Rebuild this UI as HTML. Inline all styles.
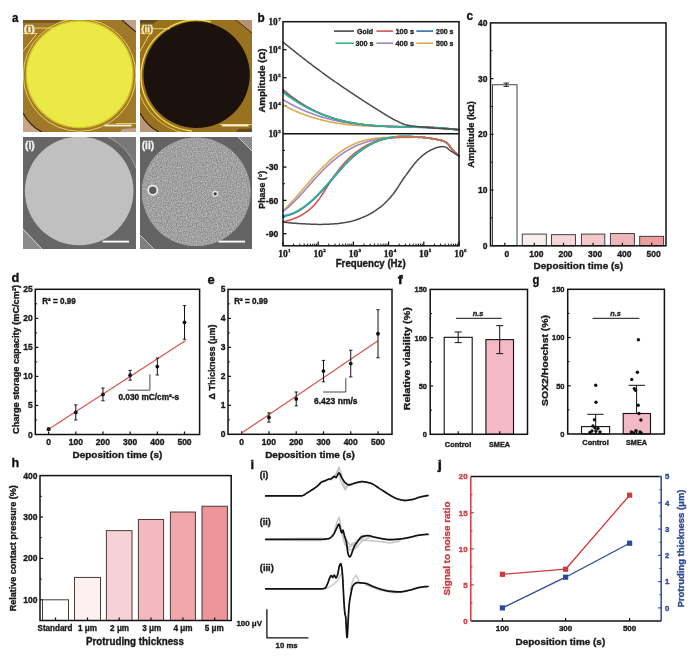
<!DOCTYPE html>
<html><head><meta charset="utf-8"><style>
html,body{margin:0;padding:0;background:#fff;}
body{width:700px;height:672px;overflow:hidden;}
svg{display:block;font-family:"Liberation Sans", sans-serif;will-change:transform;}
</style></head><body>
<svg width="700" height="672" viewBox="0 0 700 672">
<rect width="700" height="672" fill="#fff"/>
<text x="12.10" y="22.30" font-size="13.2" text-anchor="start" font-weight="bold" fill="#111" stroke="#111" stroke-width="0.35" textLength="6.40" lengthAdjust="spacingAndGlyphs" >a</text>
<defs><clipPath id="ca1"><rect x="23" y="20" width="113" height="112"/></clipPath><clipPath id="ca2"><rect x="140" y="20" width="112" height="112"/></clipPath><clipPath id="ca3"><rect x="23" y="137" width="113" height="112"/></clipPath><clipPath id="ca4"><rect x="140" y="137" width="112" height="112"/></clipPath><filter id="noise" x="0" y="0" width="100%" height="100%" color-interpolation-filters="sRGB"><feTurbulence type="fractalNoise" baseFrequency="0.8" numOctaves="1" seed="4" result="t"/><feColorMatrix in="t" type="matrix" values="0.45 0 0 0 0.405  0.45 0 0 0 0.405  0.45 0 0 0 0.405  0 0 0 0 1" result="a"/><feComposite in="a" in2="SourceGraphic" operator="in"/></filter><filter id="blur1"><feGaussianBlur stdDeviation="0.6"/></filter></defs>
<g clip-path="url(#ca1)">
<rect x="23.00" y="20.00" width="113.00" height="112.00" fill="#a0782a" stroke="none" stroke-width="1.3" />
<path d="M23,20 L60,20 L60,23 L23,23 Z" fill="#6a4c1c" opacity="0.7"/>
<path d="M122,20 L136,20 L136,32 Z" fill="#c0a48a"/>
<path d="M122,20 L136,32" stroke="#3a2410" stroke-width="1.1" fill="none"/>
<path d="M23,113 Q30,126 42,132 L23,132 Z" fill="#c8a484"/>
<path d="M23,113 Q30,126 42,132" stroke="#3a2010" stroke-width="1.2" fill="none"/>
<path d="M122,129 L136,128 L136,132 L120,132 Z" fill="#c0a088"/>
<path d="M116,123.5 L136,123.5" stroke="#f0d45a" stroke-width="0.9" fill="none"/>
<circle cx="79.6" cy="75.0" r="56.3" fill="none" stroke="#f0d858" stroke-width="0.9"/>
<circle cx="79.6" cy="74.3" r="53.3" fill="#eae945" stroke="#d4c428" stroke-width="1.4"/>
<path d="M35,28.1 L54,28.1 M23,33.5 L37,33.5 L23,51.3" stroke="#f0d45a" stroke-width="1.0" fill="none"/>
<line x1="104.50" y1="125.50" x2="131.50" y2="125.50" stroke="#f8f4e0" stroke-width="1.8" />
</g>
<text x="23.70" y="31.80" font-size="9.5" text-anchor="start" font-weight="bold" fill="#f4ecc4" stroke="#f4ecc4" stroke-width="0.35" textLength="11.30" lengthAdjust="spacingAndGlyphs" >(i)</text>
<g clip-path="url(#ca2)">
<rect x="140.00" y="20.00" width="112.00" height="112.00" fill="#98721f" stroke="none" stroke-width="1.3" />
<path d="M140,20 L158,20 L154,23.5 L140,23.5 Z" fill="#5a4020" opacity="0.8"/>
<path d="M236,20 L252,20 L252,33 Z" fill="#b89270"/>
<path d="M236,20 L252,33" stroke="#4a3018" stroke-width="1" fill="none"/>
<path d="M140,113 Q147,126 159,132 L140,132 Z" fill="#b89878"/>
<path d="M140,113 Q147,126 159,132" stroke="#3a2010" stroke-width="1.1" fill="none"/>
<path d="M238,129 L252,128.5 L252,132 L236,132 Z" fill="#4a3018" opacity="0.6"/>
<path d="M220,124.5 L252,124.5" stroke="#f0d45a" stroke-width="0.9" fill="none"/>
<path d="M211,21.9 A55.6,55.6 0 1 0 191.8,131" fill="none" stroke="#f2e040" stroke-width="1.3"/>
<path d="M185,133 A59.5,59.5 0 0 1 138,88" fill="none" stroke="#e8cc48" stroke-width="0.9"/>
<circle cx="196.6" cy="74.8" r="53.2" fill="#1c120d"/>
<path d="M153,28.7 L170,28.7 M140,33.2 L150,33.2 L140,51.3" stroke="#f0d45a" stroke-width="1.0" fill="none"/>
<line x1="222.00" y1="125.50" x2="248.50" y2="125.50" stroke="#f8f4e0" stroke-width="1.8" />
</g>
<text x="141.30" y="31.80" font-size="9.5" text-anchor="start" font-weight="bold" fill="#f4ecc4" stroke="#f4ecc4" stroke-width="0.35" textLength="11.90" lengthAdjust="spacingAndGlyphs" >(ii)</text>
<g clip-path="url(#ca3)">
<rect x="23.00" y="137.00" width="113.00" height="112.00" fill="#666666" stroke="none" stroke-width="1.3" />
<path d="M23,229 L42,249 L23,249 Z" fill="#8a8a8a"/>
<path d="M23,229 L42,249" stroke="#d8d8d8" stroke-width="1.0" fill="none"/>
<path d="M108,137 Q128,146 136,168 L136,137 Z" fill="#787878"/>
<path d="M108,137 Q128,146 136,168" stroke="#a8a8a8" stroke-width="0.9" fill="none"/>
<circle cx="79.2" cy="191.0" r="54.3" fill="#c0c0c0"/>
<line x1="102.60" y1="241.60" x2="129.00" y2="241.60" stroke="#fafafa" stroke-width="1.9" />
</g>
<text x="25.00" y="148.60" font-size="11" text-anchor="start" font-weight="bold" fill="#f4f4f4" stroke="#f4f4f4" stroke-width="0.35" textLength="9.80" lengthAdjust="spacingAndGlyphs" >(i)</text>
<g clip-path="url(#ca4)">
<rect x="140.00" y="137.00" width="112.00" height="112.00" fill="#636363" stroke="none" stroke-width="1.3" />
<path d="M238,137 L252,137 L252,151 Z" fill="#8a8a8a"/>
<path d="M238,137 L252,151" stroke="#c8c8c8" stroke-width="1" fill="none"/>
<path d="M140,235 L154,249 L140,249 Z" fill="#808080"/>
<path d="M140,235 L154,249" stroke="#c0c0c0" stroke-width="1" fill="none"/>
<circle cx="196.2" cy="191.8" r="54.3" fill="#979797"/>
<circle cx="196.2" cy="191.8" r="54.3" fill="#979797" filter="url(#noise)"/>
<circle cx="152.8" cy="190.2" r="4.6" fill="#5a5a5a" stroke="#eeeeee" stroke-width="1.8"/>
<circle cx="215.2" cy="193.8" r="2.3" fill="#3a3a3a" stroke="#e8e8e8" stroke-width="1.3"/>
<line x1="218.50" y1="241.60" x2="245.00" y2="241.60" stroke="#fafafa" stroke-width="1.9" />
</g>
<text x="141.70" y="148.60" font-size="11" text-anchor="start" font-weight="bold" fill="#f4f4f4" stroke="#f4f4f4" stroke-width="0.35" textLength="12.40" lengthAdjust="spacingAndGlyphs" >(ii)</text>
<text x="257.40" y="21.50" font-size="13.2" text-anchor="start" font-weight="bold" fill="#111" stroke="#111" stroke-width="0.35" textLength="7.20" lengthAdjust="spacingAndGlyphs" >b</text>
<line x1="283.00" y1="245.80" x2="283.00" y2="241.50" stroke="#111" stroke-width="1.2" />
<text x="283.00" y="256.70" font-size="9.5" text-anchor="middle" font-weight="bold" fill="#1a1a1a" stroke="#1a1a1a" stroke-width="0.35" font-family='"Liberation Serif", serif' textLength="9.50" lengthAdjust="spacingAndGlyphs" >10</text>
<text x="289.30" y="252.40" font-size="5.0" text-anchor="middle" font-weight="bold" fill="#1a1a1a" stroke="#1a1a1a" stroke-width="0.35" font-family='"Liberation Serif", serif' >1</text>
<line x1="293.60" y1="245.80" x2="293.60" y2="243.60" stroke="#111" stroke-width="1.0" />
<line x1="299.79" y1="245.80" x2="299.79" y2="243.60" stroke="#111" stroke-width="1.0" />
<line x1="304.19" y1="245.80" x2="304.19" y2="243.60" stroke="#111" stroke-width="1.0" />
<line x1="307.60" y1="245.80" x2="307.60" y2="243.60" stroke="#111" stroke-width="1.0" />
<line x1="310.39" y1="245.80" x2="310.39" y2="243.60" stroke="#111" stroke-width="1.0" />
<line x1="312.75" y1="245.80" x2="312.75" y2="243.60" stroke="#111" stroke-width="1.0" />
<line x1="314.79" y1="245.80" x2="314.79" y2="243.60" stroke="#111" stroke-width="1.0" />
<line x1="316.59" y1="245.80" x2="316.59" y2="243.60" stroke="#111" stroke-width="1.0" />
<line x1="318.20" y1="245.80" x2="318.20" y2="241.50" stroke="#111" stroke-width="1.2" />
<text x="318.20" y="256.70" font-size="9.5" text-anchor="middle" font-weight="bold" fill="#1a1a1a" stroke="#1a1a1a" stroke-width="0.35" font-family='"Liberation Serif", serif' textLength="9.50" lengthAdjust="spacingAndGlyphs" >10</text>
<text x="324.50" y="252.40" font-size="5.0" text-anchor="middle" font-weight="bold" fill="#1a1a1a" stroke="#1a1a1a" stroke-width="0.35" font-family='"Liberation Serif", serif' >2</text>
<line x1="328.80" y1="245.80" x2="328.80" y2="243.60" stroke="#111" stroke-width="1.0" />
<line x1="334.99" y1="245.80" x2="334.99" y2="243.60" stroke="#111" stroke-width="1.0" />
<line x1="339.39" y1="245.80" x2="339.39" y2="243.60" stroke="#111" stroke-width="1.0" />
<line x1="342.80" y1="245.80" x2="342.80" y2="243.60" stroke="#111" stroke-width="1.0" />
<line x1="345.59" y1="245.80" x2="345.59" y2="243.60" stroke="#111" stroke-width="1.0" />
<line x1="347.95" y1="245.80" x2="347.95" y2="243.60" stroke="#111" stroke-width="1.0" />
<line x1="349.99" y1="245.80" x2="349.99" y2="243.60" stroke="#111" stroke-width="1.0" />
<line x1="351.79" y1="245.80" x2="351.79" y2="243.60" stroke="#111" stroke-width="1.0" />
<line x1="353.40" y1="245.80" x2="353.40" y2="241.50" stroke="#111" stroke-width="1.2" />
<text x="353.40" y="256.70" font-size="9.5" text-anchor="middle" font-weight="bold" fill="#1a1a1a" stroke="#1a1a1a" stroke-width="0.35" font-family='"Liberation Serif", serif' textLength="9.50" lengthAdjust="spacingAndGlyphs" >10</text>
<text x="359.70" y="252.40" font-size="5.0" text-anchor="middle" font-weight="bold" fill="#1a1a1a" stroke="#1a1a1a" stroke-width="0.35" font-family='"Liberation Serif", serif' >3</text>
<line x1="364.00" y1="245.80" x2="364.00" y2="243.60" stroke="#111" stroke-width="1.0" />
<line x1="370.19" y1="245.80" x2="370.19" y2="243.60" stroke="#111" stroke-width="1.0" />
<line x1="374.59" y1="245.80" x2="374.59" y2="243.60" stroke="#111" stroke-width="1.0" />
<line x1="378.00" y1="245.80" x2="378.00" y2="243.60" stroke="#111" stroke-width="1.0" />
<line x1="380.79" y1="245.80" x2="380.79" y2="243.60" stroke="#111" stroke-width="1.0" />
<line x1="383.15" y1="245.80" x2="383.15" y2="243.60" stroke="#111" stroke-width="1.0" />
<line x1="385.19" y1="245.80" x2="385.19" y2="243.60" stroke="#111" stroke-width="1.0" />
<line x1="386.99" y1="245.80" x2="386.99" y2="243.60" stroke="#111" stroke-width="1.0" />
<line x1="388.60" y1="245.80" x2="388.60" y2="241.50" stroke="#111" stroke-width="1.2" />
<text x="388.60" y="256.70" font-size="9.5" text-anchor="middle" font-weight="bold" fill="#1a1a1a" stroke="#1a1a1a" stroke-width="0.35" font-family='"Liberation Serif", serif' textLength="9.50" lengthAdjust="spacingAndGlyphs" >10</text>
<text x="394.90" y="252.40" font-size="5.0" text-anchor="middle" font-weight="bold" fill="#1a1a1a" stroke="#1a1a1a" stroke-width="0.35" font-family='"Liberation Serif", serif' >4</text>
<line x1="399.20" y1="245.80" x2="399.20" y2="243.60" stroke="#111" stroke-width="1.0" />
<line x1="405.39" y1="245.80" x2="405.39" y2="243.60" stroke="#111" stroke-width="1.0" />
<line x1="409.79" y1="245.80" x2="409.79" y2="243.60" stroke="#111" stroke-width="1.0" />
<line x1="413.20" y1="245.80" x2="413.20" y2="243.60" stroke="#111" stroke-width="1.0" />
<line x1="415.99" y1="245.80" x2="415.99" y2="243.60" stroke="#111" stroke-width="1.0" />
<line x1="418.35" y1="245.80" x2="418.35" y2="243.60" stroke="#111" stroke-width="1.0" />
<line x1="420.39" y1="245.80" x2="420.39" y2="243.60" stroke="#111" stroke-width="1.0" />
<line x1="422.19" y1="245.80" x2="422.19" y2="243.60" stroke="#111" stroke-width="1.0" />
<line x1="423.80" y1="245.80" x2="423.80" y2="241.50" stroke="#111" stroke-width="1.2" />
<text x="423.80" y="256.70" font-size="9.5" text-anchor="middle" font-weight="bold" fill="#1a1a1a" stroke="#1a1a1a" stroke-width="0.35" font-family='"Liberation Serif", serif' textLength="9.50" lengthAdjust="spacingAndGlyphs" >10</text>
<text x="430.10" y="252.40" font-size="5.0" text-anchor="middle" font-weight="bold" fill="#1a1a1a" stroke="#1a1a1a" stroke-width="0.35" font-family='"Liberation Serif", serif' >5</text>
<line x1="434.40" y1="245.80" x2="434.40" y2="243.60" stroke="#111" stroke-width="1.0" />
<line x1="440.59" y1="245.80" x2="440.59" y2="243.60" stroke="#111" stroke-width="1.0" />
<line x1="444.99" y1="245.80" x2="444.99" y2="243.60" stroke="#111" stroke-width="1.0" />
<line x1="448.40" y1="245.80" x2="448.40" y2="243.60" stroke="#111" stroke-width="1.0" />
<line x1="451.19" y1="245.80" x2="451.19" y2="243.60" stroke="#111" stroke-width="1.0" />
<line x1="453.55" y1="245.80" x2="453.55" y2="243.60" stroke="#111" stroke-width="1.0" />
<line x1="455.59" y1="245.80" x2="455.59" y2="243.60" stroke="#111" stroke-width="1.0" />
<line x1="457.39" y1="245.80" x2="457.39" y2="243.60" stroke="#111" stroke-width="1.0" />
<line x1="459.00" y1="245.80" x2="459.00" y2="241.50" stroke="#111" stroke-width="1.2" />
<text x="459.00" y="256.70" font-size="9.5" text-anchor="middle" font-weight="bold" fill="#1a1a1a" stroke="#1a1a1a" stroke-width="0.35" font-family='"Liberation Serif", serif' textLength="9.50" lengthAdjust="spacingAndGlyphs" >10</text>
<text x="465.30" y="252.40" font-size="5.0" text-anchor="middle" font-weight="bold" fill="#1a1a1a" stroke="#1a1a1a" stroke-width="0.35" font-family='"Liberation Serif", serif' >6</text>
<text x="273.00" y="136.90" font-size="9.5" text-anchor="middle" font-weight="bold" fill="#1a1a1a" stroke="#1a1a1a" stroke-width="0.35" font-family='"Liberation Serif", serif' textLength="9.20" lengthAdjust="spacingAndGlyphs" >10</text>
<text x="279.60" y="132.70" font-size="5.0" text-anchor="middle" font-weight="bold" fill="#1a1a1a" stroke="#1a1a1a" stroke-width="0.35" font-family='"Liberation Serif", serif' >3</text>
<line x1="283.00" y1="105.70" x2="286.50" y2="105.70" stroke="#111" stroke-width="1.3" />
<text x="273.00" y="108.90" font-size="9.5" text-anchor="middle" font-weight="bold" fill="#1a1a1a" stroke="#1a1a1a" stroke-width="0.35" font-family='"Liberation Serif", serif' textLength="9.20" lengthAdjust="spacingAndGlyphs" >10</text>
<text x="279.60" y="104.70" font-size="5.0" text-anchor="middle" font-weight="bold" fill="#1a1a1a" stroke="#1a1a1a" stroke-width="0.35" font-family='"Liberation Serif", serif' >4</text>
<line x1="283.00" y1="77.70" x2="286.50" y2="77.70" stroke="#111" stroke-width="1.3" />
<text x="273.00" y="80.90" font-size="9.5" text-anchor="middle" font-weight="bold" fill="#1a1a1a" stroke="#1a1a1a" stroke-width="0.35" font-family='"Liberation Serif", serif' textLength="9.20" lengthAdjust="spacingAndGlyphs" >10</text>
<text x="279.60" y="76.70" font-size="5.0" text-anchor="middle" font-weight="bold" fill="#1a1a1a" stroke="#1a1a1a" stroke-width="0.35" font-family='"Liberation Serif", serif' >5</text>
<line x1="283.00" y1="49.70" x2="286.50" y2="49.70" stroke="#111" stroke-width="1.3" />
<text x="273.00" y="52.90" font-size="9.5" text-anchor="middle" font-weight="bold" fill="#1a1a1a" stroke="#1a1a1a" stroke-width="0.35" font-family='"Liberation Serif", serif' textLength="9.20" lengthAdjust="spacingAndGlyphs" >10</text>
<text x="279.60" y="48.70" font-size="5.0" text-anchor="middle" font-weight="bold" fill="#1a1a1a" stroke="#1a1a1a" stroke-width="0.35" font-family='"Liberation Serif", serif' >6</text>
<text x="273.00" y="24.90" font-size="9.5" text-anchor="middle" font-weight="bold" fill="#1a1a1a" stroke="#1a1a1a" stroke-width="0.35" font-family='"Liberation Serif", serif' textLength="9.20" lengthAdjust="spacingAndGlyphs" >10</text>
<text x="279.60" y="20.70" font-size="5.0" text-anchor="middle" font-weight="bold" fill="#1a1a1a" stroke="#1a1a1a" stroke-width="0.35" font-family='"Liberation Serif", serif' >7</text>
<line x1="283.00" y1="167.10" x2="286.50" y2="167.10" stroke="#111" stroke-width="1.3" />
<text x="278.30" y="170.30" font-size="8.8" text-anchor="end" font-weight="bold" fill="#1a1a1a" stroke="#1a1a1a" stroke-width="0.35" textLength="12.50" lengthAdjust="spacingAndGlyphs" >-30</text>
<line x1="283.00" y1="200.40" x2="286.50" y2="200.40" stroke="#111" stroke-width="1.3" />
<text x="278.30" y="203.60" font-size="8.8" text-anchor="end" font-weight="bold" fill="#1a1a1a" stroke="#1a1a1a" stroke-width="0.35" textLength="12.50" lengthAdjust="spacingAndGlyphs" >-60</text>
<line x1="283.00" y1="233.70" x2="286.50" y2="233.70" stroke="#111" stroke-width="1.3" />
<text x="278.30" y="236.90" font-size="8.8" text-anchor="end" font-weight="bold" fill="#1a1a1a" stroke="#1a1a1a" stroke-width="0.35" textLength="12.50" lengthAdjust="spacingAndGlyphs" >-90</text>
<line x1="283.00" y1="150.45" x2="285.00" y2="150.45" stroke="#111" stroke-width="1.0" />
<line x1="283.00" y1="183.75" x2="285.00" y2="183.75" stroke="#111" stroke-width="1.0" />
<line x1="283.00" y1="217.05" x2="285.00" y2="217.05" stroke="#111" stroke-width="1.0" />
<text x="264.80" y="80.60" font-size="9.8" text-anchor="middle" font-weight="bold" fill="#1a1a1a" stroke="#1a1a1a" stroke-width="0.35" textLength="64.00" lengthAdjust="spacingAndGlyphs" transform="rotate(-90 264.80 80.60)" >Amplitude (Ω)</text>
<text x="265.00" y="189.70" font-size="9.8" text-anchor="middle" font-weight="bold" fill="#1a1a1a" stroke="#1a1a1a" stroke-width="0.35" textLength="38.00" lengthAdjust="spacingAndGlyphs" transform="rotate(-90 265.00 189.70)" >Phase (°)</text>
<text x="370.70" y="267.30" font-size="10" text-anchor="middle" font-weight="bold" fill="#1a1a1a" stroke="#1a1a1a" stroke-width="0.35" textLength="70.00" lengthAdjust="spacingAndGlyphs" >Frequency (Hz)</text>
<path d="M283.00,104.95 L283.70,105.33 L284.40,105.71 L285.10,106.08 L285.80,106.45 L286.50,106.82 L287.20,107.18 L287.90,107.53 L288.60,107.89 L289.30,108.23 L290.00,108.58 L290.70,108.92 L291.40,109.25 L292.10,109.58 L292.80,109.91 L293.50,110.23 L294.20,110.55 L294.90,110.86 L295.60,111.17 L296.30,111.47 L297.00,111.77 L297.70,112.07 L298.40,112.36 L299.10,112.65 L299.80,112.94 L300.50,113.22 L301.20,113.50 L301.90,113.77 L302.60,114.04 L303.30,114.30 L304.00,114.57 L304.70,114.82 L305.40,115.08 L306.10,115.33 L306.80,115.57 L307.50,115.82 L308.20,116.06 L308.90,116.29 L309.60,116.52 L310.30,116.75 L311.00,116.98 L311.70,117.20 L312.40,117.42 L313.10,117.63 L313.80,117.84 L314.50,118.05 L315.20,118.26 L315.90,118.46 L316.60,118.65 L317.30,118.85 L318.00,119.04 L318.70,119.23 L319.40,119.41 L320.10,119.59 L320.80,119.77 L321.50,119.95 L322.20,120.12 L322.90,120.29 L323.60,120.46 L324.30,120.62 L325.00,120.78 L325.70,120.94 L326.40,121.09 L327.10,121.24 L327.80,121.39 L328.50,121.54 L329.20,121.68 L329.90,121.82 L330.60,121.96 L331.30,122.09 L332.00,122.23 L332.70,122.36 L333.40,122.48 L334.10,122.61 L334.80,122.73 L335.50,122.85 L336.20,122.97 L336.90,123.08 L337.60,123.19 L338.30,123.30 L339.00,123.41 L339.70,123.51 L340.40,123.61 L341.10,123.71 L341.80,123.81 L342.50,123.91 L343.20,124.00 L343.90,124.09 L344.60,124.18 L345.30,124.27 L346.00,124.35 L346.70,124.43 L347.40,124.51 L348.10,124.59 L348.80,124.67 L349.50,124.74 L350.20,124.82 L350.90,124.89 L351.60,124.95 L352.30,125.02 L353.00,125.09 L353.70,125.15 L354.40,125.21 L355.10,125.27 L355.80,125.33 L356.50,125.38 L357.20,125.44 L357.90,125.49 L358.60,125.54 L359.30,125.59 L360.00,125.64 L360.70,125.69 L361.40,125.73 L362.10,125.77 L362.80,125.82 L363.50,125.86 L364.20,125.90 L364.90,125.93 L365.60,125.97 L366.30,126.01 L367.00,126.04 L367.70,126.07 L368.40,126.11 L369.10,126.14 L369.80,126.16 L370.50,126.19 L371.20,126.22 L371.90,126.25 L372.60,126.27 L373.30,126.29 L374.00,126.32 L374.70,126.34 L375.40,126.36 L376.10,126.38 L376.80,126.40 L377.50,126.42 L378.20,126.43 L378.90,126.45 L379.60,126.47 L380.30,126.48 L381.00,126.50 L381.70,126.51 L382.40,126.52 L383.10,126.54 L383.80,126.55 L384.50,126.56 L385.20,126.57 L385.90,126.58 L386.60,126.59 L387.30,126.60 L388.00,126.61 L388.70,126.62 L389.40,126.63 L390.10,126.63 L390.80,126.64 L391.50,126.65 L392.20,126.65 L392.90,126.66 L393.60,126.67 L394.30,126.67 L395.00,126.68 L395.70,126.69 L396.40,126.69 L397.10,126.70 L397.80,126.70 L398.50,126.71 L399.20,126.72 L399.90,126.72 L400.60,126.73 L401.30,126.73 L402.00,126.74 L402.70,126.75 L403.40,126.75 L404.10,126.76 L404.80,126.77 L405.50,126.77 L406.20,126.78 L406.90,126.79 L407.60,126.80 L408.30,126.81 L409.00,126.82 L409.70,126.83 L410.40,126.84 L411.10,126.85 L411.80,126.86 L412.50,126.87 L413.20,126.88 L413.90,126.89 L414.60,126.91 L415.30,126.92 L416.00,126.94 L416.70,126.95 L417.40,126.97 L418.10,126.99 L418.80,127.00 L419.50,127.02 L420.20,127.04 L420.90,127.06 L421.60,127.09 L422.30,127.11 L423.00,127.13 L423.70,127.16 L424.40,127.18 L425.10,127.21 L425.80,127.24 L426.50,127.26 L427.20,127.29 L427.90,127.33 L428.60,127.36 L429.30,127.39 L430.00,127.43 L430.70,127.46 L431.40,127.50 L432.10,127.54 L432.80,127.58 L433.50,127.62 L434.20,127.66 L434.90,127.71 L435.60,127.75 L436.30,127.80 L437.00,127.85 L437.70,127.90 L438.40,127.95 L439.10,128.01 L439.80,128.06 L440.50,128.12 L441.20,128.18 L441.90,128.24 L442.60,128.30 L443.30,128.36 L444.00,128.43 L444.70,128.50 L445.40,128.57 L446.10,128.64 L446.80,128.71 L447.50,128.79 L448.20,128.87 L448.90,128.95 L449.60,129.03 L450.30,129.11 L451.00,129.20 L451.70,129.29 L452.40,129.38 L453.10,129.47 L453.80,129.56 L454.50,129.66 L455.20,129.76 L455.90,129.86 L456.60,129.96 L457.30,130.07 L458.00,130.18 L458.70,130.29 L459.00,130.34" stroke="#d8ad52" stroke-width="1.6" fill="none" stroke-linejoin="round" stroke-linecap="round" />
<path d="M283.00,99.66 L283.70,100.09 L284.40,100.50 L285.10,100.92 L285.80,101.33 L286.50,101.73 L287.20,102.13 L287.90,102.53 L288.60,102.92 L289.30,103.31 L290.00,103.69 L290.70,104.07 L291.40,104.45 L292.10,104.82 L292.80,105.19 L293.50,105.55 L294.20,105.91 L294.90,106.26 L295.60,106.61 L296.30,106.95 L297.00,107.30 L297.70,107.63 L298.40,107.97 L299.10,108.30 L299.80,108.62 L300.50,108.94 L301.20,109.26 L301.90,109.57 L302.60,109.88 L303.30,110.19 L304.00,110.49 L304.70,110.79 L305.40,111.08 L306.10,111.38 L306.80,111.66 L307.50,111.95 L308.20,112.23 L308.90,112.50 L309.60,112.77 L310.30,113.04 L311.00,113.31 L311.70,113.57 L312.40,113.83 L313.10,114.08 L313.80,114.33 L314.50,114.58 L315.20,114.83 L315.90,115.07 L316.60,115.30 L317.30,115.54 L318.00,115.77 L318.70,116.00 L319.40,116.22 L320.10,116.44 L320.80,116.66 L321.50,116.88 L322.20,117.09 L322.90,117.30 L323.60,117.50 L324.30,117.70 L325.00,117.90 L325.70,118.10 L326.40,118.29 L327.10,118.48 L327.80,118.67 L328.50,118.85 L329.20,119.03 L329.90,119.21 L330.60,119.39 L331.30,119.56 L332.00,119.73 L332.70,119.90 L333.40,120.06 L334.10,120.22 L334.80,120.38 L335.50,120.54 L336.20,120.69 L336.90,120.84 L337.60,120.99 L338.30,121.14 L339.00,121.28 L339.70,121.42 L340.40,121.56 L341.10,121.70 L341.80,121.83 L342.50,121.96 L343.20,122.09 L343.90,122.22 L344.60,122.34 L345.30,122.46 L346.00,122.58 L346.70,122.70 L347.40,122.81 L348.10,122.93 L348.80,123.04 L349.50,123.14 L350.20,123.25 L350.90,123.35 L351.60,123.46 L352.30,123.56 L353.00,123.65 L353.70,123.75 L354.40,123.84 L355.10,123.93 L355.80,124.02 L356.50,124.11 L357.20,124.20 L357.90,124.28 L358.60,124.36 L359.30,124.44 L360.00,124.52 L360.70,124.60 L361.40,124.68 L362.10,124.75 L362.80,124.82 L363.50,124.89 L364.20,124.96 L364.90,125.03 L365.60,125.09 L366.30,125.16 L367.00,125.22 L367.70,125.28 L368.40,125.34 L369.10,125.40 L369.80,125.45 L370.50,125.51 L371.20,125.56 L371.90,125.61 L372.60,125.66 L373.30,125.71 L374.00,125.76 L374.70,125.81 L375.40,125.86 L376.10,125.90 L376.80,125.94 L377.50,125.99 L378.20,126.03 L378.90,126.07 L379.60,126.11 L380.30,126.15 L381.00,126.18 L381.70,126.22 L382.40,126.25 L383.10,126.29 L383.80,126.32 L384.50,126.35 L385.20,126.38 L385.90,126.42 L386.60,126.45 L387.30,126.47 L388.00,126.50 L388.70,126.53 L389.40,126.56 L390.10,126.58 L390.80,126.61 L391.50,126.63 L392.20,126.66 L392.90,126.68 L393.60,126.70 L394.30,126.73 L395.00,126.75 L395.70,126.77 L396.40,126.79 L397.10,126.81 L397.80,126.83 L398.50,126.85 L399.20,126.87 L399.90,126.89 L400.60,126.91 L401.30,126.93 L402.00,126.95 L402.70,126.97 L403.40,126.98 L404.10,127.00 L404.80,127.02 L405.50,127.04 L406.20,127.05 L406.90,127.07 L407.60,127.09 L408.30,127.11 L409.00,127.12 L409.70,127.14 L410.40,127.16 L411.10,127.17 L411.80,127.19 L412.50,127.21 L413.20,127.23 L413.90,127.25 L414.60,127.26 L415.30,127.28 L416.00,127.30 L416.70,127.32 L417.40,127.34 L418.10,127.36 L418.80,127.38 L419.50,127.40 L420.20,127.42 L420.90,127.44 L421.60,127.46 L422.30,127.48 L423.00,127.51 L423.70,127.53 L424.40,127.55 L425.10,127.58 L425.80,127.60 L426.50,127.63 L427.20,127.66 L427.90,127.68 L428.60,127.71 L429.30,127.74 L430.00,127.77 L430.70,127.80 L431.40,127.83 L432.10,127.86 L432.80,127.89 L433.50,127.93 L434.20,127.96 L434.90,128.00 L435.60,128.03 L436.30,128.07 L437.00,128.11 L437.70,128.15 L438.40,128.19 L439.10,128.23 L439.80,128.27 L440.50,128.31 L441.20,128.36 L441.90,128.41 L442.60,128.45 L443.30,128.50 L444.00,128.55 L444.70,128.60 L445.40,128.66 L446.10,128.71 L446.80,128.76 L447.50,128.82 L448.20,128.88 L448.90,128.94 L449.60,129.00 L450.30,129.06 L451.00,129.13 L451.70,129.19 L452.40,129.26 L453.10,129.33 L453.80,129.40 L454.50,129.47 L455.20,129.54 L455.90,129.62 L456.60,129.70 L457.30,129.78 L458.00,129.86 L458.70,129.94 L459.00,129.98" stroke="#a184c4" stroke-width="1.6" fill="none" stroke-linejoin="round" stroke-linecap="round" />
<path d="M283.00,89.49 L283.70,90.10 L284.40,90.70 L285.10,91.29 L285.80,91.88 L286.50,92.46 L287.20,93.03 L287.90,93.60 L288.60,94.16 L289.30,94.71 L290.00,95.26 L290.70,95.80 L291.40,96.34 L292.10,96.86 L292.80,97.39 L293.50,97.90 L294.20,98.41 L294.90,98.92 L295.60,99.41 L296.30,99.91 L297.00,100.39 L297.70,100.87 L298.40,101.34 L299.10,101.81 L299.80,102.27 L300.50,102.73 L301.20,103.18 L301.90,103.62 L302.60,104.06 L303.30,104.50 L304.00,104.92 L304.70,105.34 L305.40,105.76 L306.10,106.17 L306.80,106.57 L307.50,106.97 L308.20,107.37 L308.90,107.76 L309.60,108.14 L310.30,108.52 L311.00,108.89 L311.70,109.26 L312.40,109.62 L313.10,109.98 L313.80,110.33 L314.50,110.67 L315.20,111.02 L315.90,111.35 L316.60,111.68 L317.30,112.01 L318.00,112.33 L318.70,112.65 L319.40,112.96 L320.10,113.27 L320.80,113.57 L321.50,113.87 L322.20,114.16 L322.90,114.45 L323.60,114.74 L324.30,115.02 L325.00,115.29 L325.70,115.56 L326.40,115.83 L327.10,116.09 L327.80,116.35 L328.50,116.60 L329.20,116.85 L329.90,117.09 L330.60,117.33 L331.30,117.57 L332.00,117.80 L332.70,118.03 L333.40,118.25 L334.10,118.47 L334.80,118.69 L335.50,118.90 L336.20,119.11 L336.90,119.31 L337.60,119.51 L338.30,119.71 L339.00,119.90 L339.70,120.09 L340.40,120.27 L341.10,120.45 L341.80,120.63 L342.50,120.81 L343.20,120.98 L343.90,121.14 L344.60,121.31 L345.30,121.47 L346.00,121.63 L346.70,121.78 L347.40,121.93 L348.10,122.08 L348.80,122.22 L349.50,122.36 L350.20,122.50 L350.90,122.63 L351.60,122.76 L352.30,122.89 L353.00,123.02 L353.70,123.14 L354.40,123.26 L355.10,123.38 L355.80,123.49 L356.50,123.60 L357.20,123.71 L357.90,123.82 L358.60,123.92 L359.30,124.02 L360.00,124.12 L360.70,124.21 L361.40,124.30 L362.10,124.39 L362.80,124.48 L363.50,124.57 L364.20,124.65 L364.90,124.73 L365.60,124.81 L366.30,124.88 L367.00,124.96 L367.70,125.03 L368.40,125.10 L369.10,125.16 L369.80,125.23 L370.50,125.29 L371.20,125.35 L371.90,125.41 L372.60,125.47 L373.30,125.52 L374.00,125.58 L374.70,125.63 L375.40,125.68 L376.10,125.73 L376.80,125.77 L377.50,125.82 L378.20,125.86 L378.90,125.90 L379.60,125.94 L380.30,125.98 L381.00,126.02 L381.70,126.05 L382.40,126.09 L383.10,126.12 L383.80,126.15 L384.50,126.18 L385.20,126.21 L385.90,126.24 L386.60,126.26 L387.30,126.29 L388.00,126.31 L388.70,126.34 L389.40,126.36 L390.10,126.38 L390.80,126.40 L391.50,126.42 L392.20,126.44 L392.90,126.46 L393.60,126.47 L394.30,126.49 L395.00,126.51 L395.70,126.52 L396.40,126.53 L397.10,126.55 L397.80,126.56 L398.50,126.57 L399.20,126.59 L399.90,126.60 L400.60,126.61 L401.30,126.62 L402.00,126.63 L402.70,126.64 L403.40,126.65 L404.10,126.66 L404.80,126.67 L405.50,126.68 L406.20,126.69 L406.90,126.70 L407.60,126.71 L408.30,126.72 L409.00,126.73 L409.70,126.74 L410.40,126.75 L411.10,126.76 L411.80,126.77 L412.50,126.78 L413.20,126.79 L413.90,126.80 L414.60,126.81 L415.30,126.82 L416.00,126.83 L416.70,126.85 L417.40,126.86 L418.10,126.87 L418.80,126.89 L419.50,126.90 L420.20,126.92 L420.90,126.93 L421.60,126.95 L422.30,126.97 L423.00,126.99 L423.70,127.01 L424.40,127.03 L425.10,127.05 L425.80,127.07 L426.50,127.10 L427.20,127.12 L427.90,127.15 L428.60,127.17 L429.30,127.20 L430.00,127.23 L430.70,127.26 L431.40,127.29 L432.10,127.32 L432.80,127.36 L433.50,127.39 L434.20,127.43 L434.90,127.47 L435.60,127.51 L436.30,127.55 L437.00,127.59 L437.70,127.64 L438.40,127.68 L439.10,127.73 L439.80,127.78 L440.50,127.83 L441.20,127.89 L441.90,127.94 L442.60,128.00 L443.30,128.06 L444.00,128.12 L444.70,128.18 L445.40,128.25 L446.10,128.31 L446.80,128.38 L447.50,128.46 L448.20,128.53 L448.90,128.61 L449.60,128.68 L450.30,128.76 L451.00,128.85 L451.70,128.93 L452.40,129.02 L453.10,129.11 L453.80,129.20 L454.50,129.30 L455.20,129.39 L455.90,129.50 L456.60,129.60 L457.30,129.70 L458.00,129.81 L458.70,129.92 L459.00,129.97" stroke="#d9534a" stroke-width="1.6" fill="none" stroke-linejoin="round" stroke-linecap="round" />
<path d="M283.00,91.06 L283.70,91.63 L284.40,92.19 L285.10,92.75 L285.80,93.30 L286.50,93.85 L287.20,94.38 L287.90,94.92 L288.60,95.44 L289.30,95.97 L290.00,96.48 L290.70,96.99 L291.40,97.49 L292.10,97.99 L292.80,98.48 L293.50,98.97 L294.20,99.45 L294.90,99.92 L295.60,100.39 L296.30,100.86 L297.00,101.32 L297.70,101.77 L298.40,102.21 L299.10,102.66 L299.80,103.09 L300.50,103.52 L301.20,103.95 L301.90,104.37 L302.60,104.78 L303.30,105.19 L304.00,105.60 L304.70,105.99 L305.40,106.39 L306.10,106.78 L306.80,107.16 L307.50,107.54 L308.20,107.91 L308.90,108.28 L309.60,108.64 L310.30,109.00 L311.00,109.36 L311.70,109.70 L312.40,110.05 L313.10,110.39 L313.80,110.72 L314.50,111.05 L315.20,111.38 L315.90,111.70 L316.60,112.01 L317.30,112.33 L318.00,112.63 L318.70,112.93 L319.40,113.23 L320.10,113.53 L320.80,113.81 L321.50,114.10 L322.20,114.38 L322.90,114.66 L323.60,114.93 L324.30,115.20 L325.00,115.46 L325.70,115.72 L326.40,115.97 L327.10,116.22 L327.80,116.47 L328.50,116.71 L329.20,116.95 L329.90,117.19 L330.60,117.42 L331.30,117.65 L332.00,117.87 L332.70,118.09 L333.40,118.31 L334.10,118.52 L334.80,118.73 L335.50,118.93 L336.20,119.13 L336.90,119.33 L337.60,119.52 L338.30,119.71 L339.00,119.90 L339.70,120.08 L340.40,120.26 L341.10,120.44 L341.80,120.61 L342.50,120.78 L343.20,120.95 L343.90,121.11 L344.60,121.27 L345.30,121.43 L346.00,121.58 L346.70,121.74 L347.40,121.88 L348.10,122.03 L348.80,122.17 L349.50,122.31 L350.20,122.44 L350.90,122.58 L351.60,122.71 L352.30,122.83 L353.00,122.96 L353.70,123.08 L354.40,123.20 L355.10,123.32 L355.80,123.43 L356.50,123.54 L357.20,123.65 L357.90,123.75 L358.60,123.86 L359.30,123.96 L360.00,124.06 L360.70,124.15 L361.40,124.24 L362.10,124.34 L362.80,124.42 L363.50,124.51 L364.20,124.60 L364.90,124.68 L365.60,124.76 L366.30,124.84 L367.00,124.91 L367.70,124.98 L368.40,125.06 L369.10,125.13 L369.80,125.19 L370.50,125.26 L371.20,125.32 L371.90,125.38 L372.60,125.44 L373.30,125.50 L374.00,125.56 L374.70,125.61 L375.40,125.67 L376.10,125.72 L376.80,125.77 L377.50,125.82 L378.20,125.86 L378.90,125.91 L379.60,125.95 L380.30,125.99 L381.00,126.03 L381.70,126.07 L382.40,126.11 L383.10,126.15 L383.80,126.18 L384.50,126.22 L385.20,126.25 L385.90,126.28 L386.60,126.31 L387.30,126.34 L388.00,126.37 L388.70,126.40 L389.40,126.43 L390.10,126.45 L390.80,126.48 L391.50,126.50 L392.20,126.52 L392.90,126.55 L393.60,126.57 L394.30,126.59 L395.00,126.61 L395.70,126.63 L396.40,126.64 L397.10,126.66 L397.80,126.68 L398.50,126.70 L399.20,126.71 L399.90,126.73 L400.60,126.74 L401.30,126.76 L402.00,126.77 L402.70,126.79 L403.40,126.80 L404.10,126.82 L404.80,126.83 L405.50,126.84 L406.20,126.85 L406.90,126.87 L407.60,126.88 L408.30,126.89 L409.00,126.91 L409.70,126.92 L410.40,126.93 L411.10,126.94 L411.80,126.96 L412.50,126.97 L413.20,126.98 L413.90,127.00 L414.60,127.01 L415.30,127.03 L416.00,127.04 L416.70,127.05 L417.40,127.07 L418.10,127.09 L418.80,127.10 L419.50,127.12 L420.20,127.13 L420.90,127.15 L421.60,127.17 L422.30,127.19 L423.00,127.21 L423.70,127.23 L424.40,127.25 L425.10,127.27 L425.80,127.29 L426.50,127.32 L427.20,127.34 L427.90,127.37 L428.60,127.39 L429.30,127.42 L430.00,127.45 L430.70,127.48 L431.40,127.51 L432.10,127.54 L432.80,127.57 L433.50,127.61 L434.20,127.64 L434.90,127.68 L435.60,127.71 L436.30,127.75 L437.00,127.79 L437.70,127.83 L438.40,127.88 L439.10,127.92 L439.80,127.97 L440.50,128.02 L441.20,128.06 L441.90,128.12 L442.60,128.17 L443.30,128.22 L444.00,128.28 L444.70,128.33 L445.40,128.39 L446.10,128.46 L446.80,128.52 L447.50,128.58 L448.20,128.65 L448.90,128.72 L449.60,128.79 L450.30,128.86 L451.00,128.94 L451.70,129.01 L452.40,129.09 L453.10,129.17 L453.80,129.26 L454.50,129.34 L455.20,129.43 L455.90,129.52 L456.60,129.61 L457.30,129.71 L458.00,129.80 L458.70,129.90 L459.00,129.95" stroke="#2f6ea8" stroke-width="1.6" fill="none" stroke-linejoin="round" stroke-linecap="round" />
<path d="M283.00,92.39 L283.70,92.92 L284.40,93.44 L285.10,93.96 L285.80,94.48 L286.50,94.99 L287.20,95.49 L287.90,95.99 L288.60,96.48 L289.30,96.97 L290.00,97.46 L290.70,97.93 L291.40,98.41 L292.10,98.87 L292.80,99.34 L293.50,99.79 L294.20,100.25 L294.90,100.69 L295.60,101.14 L296.30,101.57 L297.00,102.01 L297.70,102.44 L298.40,102.86 L299.10,103.28 L299.80,103.69 L300.50,104.10 L301.20,104.50 L301.90,104.90 L302.60,105.29 L303.30,105.68 L304.00,106.07 L304.70,106.45 L305.40,106.82 L306.10,107.19 L306.80,107.56 L307.50,107.92 L308.20,108.28 L308.90,108.63 L309.60,108.98 L310.30,109.33 L311.00,109.66 L311.70,110.00 L312.40,110.33 L313.10,110.66 L313.80,110.98 L314.50,111.30 L315.20,111.61 L315.90,111.92 L316.60,112.22 L317.30,112.53 L318.00,112.82 L318.70,113.12 L319.40,113.40 L320.10,113.69 L320.80,113.97 L321.50,114.24 L322.20,114.52 L322.90,114.79 L323.60,115.05 L324.30,115.31 L325.00,115.57 L325.70,115.82 L326.40,116.07 L327.10,116.31 L327.80,116.56 L328.50,116.79 L329.20,117.03 L329.90,117.26 L330.60,117.48 L331.30,117.71 L332.00,117.92 L332.70,118.14 L333.40,118.35 L334.10,118.56 L334.80,118.76 L335.50,118.97 L336.20,119.16 L336.90,119.36 L337.60,119.55 L338.30,119.74 L339.00,119.92 L339.70,120.10 L340.40,120.28 L341.10,120.45 L341.80,120.62 L342.50,120.79 L343.20,120.96 L343.90,121.12 L344.60,121.28 L345.30,121.43 L346.00,121.59 L346.70,121.73 L347.40,121.88 L348.10,122.02 L348.80,122.17 L349.50,122.30 L350.20,122.44 L350.90,122.57 L351.60,122.70 L352.30,122.83 L353.00,122.95 L353.70,123.07 L354.40,123.19 L355.10,123.31 L355.80,123.42 L356.50,123.53 L357.20,123.64 L357.90,123.75 L358.60,123.85 L359.30,123.95 L360.00,124.05 L360.70,124.15 L361.40,124.24 L362.10,124.33 L362.80,124.42 L363.50,124.51 L364.20,124.59 L364.90,124.68 L365.60,124.76 L366.30,124.84 L367.00,124.91 L367.70,124.99 L368.40,125.06 L369.10,125.13 L369.80,125.20 L370.50,125.27 L371.20,125.34 L371.90,125.40 L372.60,125.46 L373.30,125.52 L374.00,125.58 L374.70,125.64 L375.40,125.69 L376.10,125.74 L376.80,125.80 L377.50,125.85 L378.20,125.90 L378.90,125.94 L379.60,125.99 L380.30,126.03 L381.00,126.08 L381.70,126.12 L382.40,126.16 L383.10,126.20 L383.80,126.23 L384.50,126.27 L385.20,126.31 L385.90,126.34 L386.60,126.37 L387.30,126.41 L388.00,126.44 L388.70,126.47 L389.40,126.50 L390.10,126.52 L390.80,126.55 L391.50,126.58 L392.20,126.60 L392.90,126.63 L393.60,126.65 L394.30,126.67 L395.00,126.69 L395.70,126.72 L396.40,126.74 L397.10,126.76 L397.80,126.78 L398.50,126.80 L399.20,126.81 L399.90,126.83 L400.60,126.85 L401.30,126.87 L402.00,126.88 L402.70,126.90 L403.40,126.91 L404.10,126.93 L404.80,126.95 L405.50,126.96 L406.20,126.98 L406.90,126.99 L407.60,127.00 L408.30,127.02 L409.00,127.03 L409.70,127.05 L410.40,127.06 L411.10,127.08 L411.80,127.09 L412.50,127.11 L413.20,127.12 L413.90,127.13 L414.60,127.15 L415.30,127.16 L416.00,127.18 L416.70,127.20 L417.40,127.21 L418.10,127.23 L418.80,127.24 L419.50,127.26 L420.20,127.28 L420.90,127.30 L421.60,127.32 L422.30,127.33 L423.00,127.35 L423.70,127.37 L424.40,127.40 L425.10,127.42 L425.80,127.44 L426.50,127.46 L427.20,127.49 L427.90,127.51 L428.60,127.54 L429.30,127.56 L430.00,127.59 L430.70,127.62 L431.40,127.65 L432.10,127.68 L432.80,127.71 L433.50,127.74 L434.20,127.77 L434.90,127.81 L435.60,127.84 L436.30,127.88 L437.00,127.92 L437.70,127.96 L438.40,128.00 L439.10,128.04 L439.80,128.08 L440.50,128.13 L441.20,128.17 L441.90,128.22 L442.60,128.27 L443.30,128.32 L444.00,128.37 L444.70,128.43 L445.40,128.48 L446.10,128.54 L446.80,128.60 L447.50,128.66 L448.20,128.72 L448.90,128.78 L449.60,128.85 L450.30,128.92 L451.00,128.99 L451.70,129.06 L452.40,129.13 L453.10,129.21 L453.80,129.28 L454.50,129.36 L455.20,129.45 L455.90,129.53 L456.60,129.61 L457.30,129.70 L458.00,129.79 L458.70,129.89 L459.00,129.93" stroke="#36b592" stroke-width="1.6" fill="none" stroke-linejoin="round" stroke-linecap="round" />
<path d="M283.00,42.00 L283.70,42.58 L284.40,43.16 L285.10,43.74 L285.80,44.32 L286.50,44.90 L287.20,45.47 L287.90,46.05 L288.60,46.62 L289.30,47.19 L290.00,47.76 L290.70,48.33 L291.40,48.89 L292.10,49.46 L292.80,50.02 L293.50,50.58 L294.20,51.14 L294.90,51.70 L295.60,52.26 L296.30,52.82 L297.00,53.37 L297.70,53.93 L298.40,54.48 L299.10,55.03 L299.80,55.58 L300.50,56.13 L301.20,56.68 L301.90,57.22 L302.60,57.77 L303.30,58.31 L304.00,58.85 L304.70,59.39 L305.40,59.93 L306.10,60.47 L306.80,61.01 L307.50,61.55 L308.20,62.08 L308.90,62.61 L309.60,63.14 L310.30,63.68 L311.00,64.20 L311.70,64.73 L312.40,65.26 L313.10,65.79 L313.80,66.31 L314.50,66.83 L315.20,67.36 L315.90,67.88 L316.60,68.40 L317.30,68.91 L318.00,69.43 L318.70,69.95 L319.40,70.46 L320.10,70.98 L320.80,71.49 L321.50,72.00 L322.20,72.51 L322.90,73.02 L323.60,73.53 L324.30,74.04 L325.00,74.54 L325.70,75.05 L326.40,75.55 L327.10,76.05 L327.80,76.55 L328.50,77.05 L329.20,77.55 L329.90,78.05 L330.60,78.55 L331.30,79.04 L332.00,79.54 L332.70,80.03 L333.40,80.53 L334.10,81.02 L334.80,81.51 L335.50,82.00 L336.20,82.49 L336.90,82.97 L337.60,83.46 L338.30,83.95 L339.00,84.43 L339.70,84.91 L340.40,85.40 L341.10,85.88 L341.80,86.36 L342.50,86.84 L343.20,87.32 L343.90,87.80 L344.60,88.27 L345.30,88.75 L346.00,89.22 L346.70,89.70 L347.40,90.17 L348.10,90.64 L348.80,91.11 L349.50,91.58 L350.20,92.05 L350.90,92.52 L351.60,92.99 L352.30,93.45 L353.00,93.92 L353.70,94.39 L354.40,94.85 L355.10,95.31 L355.80,95.77 L356.50,96.24 L357.20,96.70 L357.90,97.16 L358.60,97.61 L359.30,98.07 L360.00,98.53 L360.70,98.99 L361.40,99.44 L362.10,99.90 L362.80,100.35 L363.50,100.80 L364.20,101.26 L364.90,101.71 L365.60,102.16 L366.30,102.61 L367.00,103.06 L367.70,103.51 L368.40,103.95 L369.10,104.40 L369.80,104.85 L370.50,105.29 L371.20,105.74 L371.90,106.18 L372.60,106.62 L373.30,107.07 L374.00,107.51 L374.70,107.95 L375.40,108.39 L376.10,108.83 L376.80,109.27 L377.50,109.71 L378.20,110.15 L378.90,110.58 L379.60,111.02 L380.30,111.45 L381.00,111.89 L381.70,112.32 L382.40,112.76 L383.10,113.19 L383.80,113.62 L384.50,114.06 L385.20,114.49 L385.90,114.92 L386.60,115.35 L387.30,115.77 L388.00,116.19 L388.70,116.61 L389.40,117.03 L390.10,117.44 L390.80,117.84 L391.50,118.24 L392.20,118.63 L392.90,119.01 L393.60,119.38 L394.30,119.75 L395.00,120.11 L395.70,120.45 L396.40,120.79 L397.10,121.14 L397.80,121.49 L398.50,121.84 L399.20,122.18 L399.90,122.52 L400.60,122.85 L401.30,123.18 L402.00,123.48 L402.70,123.77 L403.40,124.05 L404.10,124.30 L404.80,124.53 L405.50,124.73 L406.20,124.90 L406.90,125.05 L407.60,125.20 L408.30,125.33 L409.00,125.46 L409.70,125.59 L410.40,125.70 L411.10,125.81 L411.80,125.92 L412.50,126.01 L413.20,126.11 L413.90,126.19 L414.60,126.28 L415.30,126.36 L416.00,126.43 L416.70,126.50 L417.40,126.57 L418.10,126.64 L418.80,126.71 L419.50,126.77 L420.20,126.84 L420.90,126.91 L421.60,126.98 L422.30,127.04 L423.00,127.11 L423.70,127.18 L424.40,127.24 L425.10,127.31 L425.80,127.37 L426.50,127.43 L427.20,127.50 L427.90,127.56 L428.60,127.62 L429.30,127.68 L430.00,127.75 L430.70,127.81 L431.40,127.87 L432.10,127.92 L432.80,127.98 L433.50,128.04 L434.20,128.09 L434.90,128.15 L435.60,128.20 L436.30,128.26 L437.00,128.31 L437.70,128.36 L438.40,128.41 L439.10,128.46 L439.80,128.50 L440.50,128.55 L441.20,128.59 L441.90,128.64 L442.60,128.68 L443.30,128.72 L444.00,128.76 L444.70,128.80 L445.40,128.83 L446.10,128.87 L446.80,128.90 L447.50,128.93 L448.20,128.96 L448.90,128.99 L449.60,129.02 L450.30,129.04 L451.00,129.07 L451.70,129.09 L452.40,129.11 L453.10,129.13 L453.80,129.14 L454.50,129.16 L455.20,129.17 L455.90,129.18 L456.60,129.19 L457.30,129.19 L458.00,129.20 L458.70,129.20 L459.00,129.20" stroke="#4a4a4a" stroke-width="1.5" fill="none" stroke-linejoin="round" stroke-linecap="round" />
<path d="M283.00,210.98 L283.70,210.30 L284.40,209.61 L285.10,208.92 L285.80,208.22 L286.50,207.50 L287.20,206.79 L287.90,206.06 L288.60,205.33 L289.30,204.59 L290.00,203.84 L290.70,203.09 L291.40,202.33 L292.10,201.56 L292.80,200.79 L293.50,200.02 L294.20,199.24 L294.90,198.46 L295.60,197.67 L296.30,196.88 L297.00,196.08 L297.70,195.28 L298.40,194.48 L299.10,193.68 L299.80,192.87 L300.50,192.07 L301.20,191.26 L301.90,190.45 L302.60,189.64 L303.30,188.83 L304.00,188.01 L304.70,187.20 L305.40,186.39 L306.10,185.58 L306.80,184.77 L307.50,183.96 L308.20,183.15 L308.90,182.35 L309.60,181.54 L310.30,180.74 L311.00,179.94 L311.70,179.15 L312.40,178.35 L313.10,177.57 L313.80,176.78 L314.50,176.00 L315.20,175.23 L315.90,174.46 L316.60,173.69 L317.30,172.93 L318.00,172.18 L318.70,171.43 L319.40,170.69 L320.10,169.95 L320.80,169.23 L321.50,168.50 L322.20,167.79 L322.90,167.09 L323.60,166.39 L324.30,165.69 L325.00,165.01 L325.70,164.33 L326.40,163.67 L327.10,163.00 L327.80,162.35 L328.50,161.71 L329.20,161.07 L329.90,160.44 L330.60,159.82 L331.30,159.20 L332.00,158.60 L332.70,158.00 L333.40,157.41 L334.10,156.83 L334.80,156.26 L335.50,155.70 L336.20,155.14 L336.90,154.60 L337.60,154.06 L338.30,153.53 L339.00,153.01 L339.70,152.50 L340.40,152.00 L341.10,151.51 L341.80,151.02 L342.50,150.55 L343.20,150.08 L343.90,149.63 L344.60,149.18 L345.30,148.75 L346.00,148.32 L346.70,147.90 L347.40,147.49 L348.10,147.10 L348.80,146.71 L349.50,146.33 L350.20,145.96 L350.90,145.61 L351.60,145.26 L352.30,144.92 L353.00,144.59 L353.70,144.27 L354.40,143.97 L355.10,143.67 L355.80,143.37 L356.50,143.09 L357.20,142.82 L357.90,142.55 L358.60,142.30 L359.30,142.05 L360.00,141.81 L360.70,141.58 L361.40,141.36 L362.10,141.14 L362.80,140.93 L363.50,140.73 L364.20,140.54 L364.90,140.36 L365.60,140.18 L366.30,140.01 L367.00,139.84 L367.70,139.68 L368.40,139.53 L369.10,139.39 L369.80,139.25 L370.50,139.12 L371.20,138.99 L371.90,138.87 L372.60,138.76 L373.30,138.65 L374.00,138.55 L374.70,138.45 L375.40,138.36 L376.10,138.27 L376.80,138.19 L377.50,138.11 L378.20,138.04 L378.90,137.97 L379.60,137.90 L380.30,137.85 L381.00,137.79 L381.70,137.74 L382.40,137.69 L383.10,137.65 L383.80,137.61 L384.50,137.57 L385.20,137.54 L385.90,137.50 L386.60,137.48 L387.30,137.45 L388.00,137.43 L388.70,137.41 L389.40,137.39 L390.10,137.38 L390.80,137.37 L391.50,137.36 L392.20,137.35 L392.90,137.34 L393.60,137.34 L394.30,137.33 L395.00,137.33 L395.70,137.33 L396.40,137.33 L397.10,137.33 L397.80,137.34 L398.50,137.34 L399.20,137.34 L399.90,137.35 L400.60,137.35 L401.30,137.35 L402.00,137.36 L402.70,137.36 L403.40,137.37 L404.10,137.37 L404.80,137.37 L405.50,137.37 L406.20,137.37 L406.90,137.37 L407.60,137.37 L408.30,137.37 L409.00,137.37 L409.70,137.36 L410.40,137.36 L411.10,137.35 L411.80,137.34 L412.50,137.32 L413.20,137.31 L413.90,137.29 L414.60,137.27 L415.30,137.25 L416.00,137.23 L416.70,137.20 L417.40,137.17 L418.10,137.13 L418.80,137.10 L419.50,137.06 L420.00,137.02 L420.00,137.20 L420.70,137.23 L421.40,137.27 L422.10,137.32 L422.80,137.37 L423.50,137.44 L424.20,137.50 L424.90,137.58 L425.60,137.65 L426.30,137.74 L427.00,137.83 L427.70,137.92 L428.40,138.02 L429.10,138.12 L429.80,138.23 L430.50,138.34 L431.20,138.45 L431.90,138.57 L432.60,138.68 L433.30,138.80 L434.00,138.92 L434.70,139.05 L435.40,139.17 L436.10,139.30 L436.80,139.43 L437.50,139.57 L438.20,139.71 L438.90,139.86 L439.60,140.03 L440.30,140.20 L441.00,140.39 L441.70,140.59 L442.40,140.81 L443.10,141.05 L443.80,141.31 L444.50,141.59 L445.20,141.89 L445.90,142.31 L446.60,142.84 L447.30,143.45 L448.00,144.10 L448.70,144.85 L449.40,145.74 L450.10,146.70 L450.80,147.68 L451.50,148.60 L452.20,149.42 L452.90,150.20 L453.60,150.96 L454.30,151.70 L455.00,152.43 L455.70,153.13 L456.40,153.81 L457.10,154.47 L457.80,155.09 L458.50,155.69 L459.00,156.10" stroke="#d8ad52" stroke-width="1.6" fill="none" stroke-linejoin="round" stroke-linecap="round" />
<path d="M283.00,211.31 L283.70,210.81 L284.40,210.30 L285.10,209.78 L285.80,209.23 L286.50,208.68 L287.20,208.10 L287.90,207.52 L288.60,206.92 L289.30,206.30 L290.00,205.68 L290.70,205.04 L291.40,204.39 L292.10,203.73 L292.80,203.05 L293.50,202.37 L294.20,201.68 L294.90,200.97 L295.60,200.26 L296.30,199.54 L297.00,198.81 L297.70,198.08 L298.40,197.33 L299.10,196.58 L299.80,195.82 L300.50,195.06 L301.20,194.29 L301.90,193.52 L302.60,192.74 L303.30,191.96 L304.00,191.17 L304.70,190.39 L305.40,189.59 L306.10,188.80 L306.80,188.01 L307.50,187.21 L308.20,186.41 L308.90,185.61 L309.60,184.82 L310.30,184.02 L311.00,183.22 L311.70,182.43 L312.40,181.64 L313.10,180.85 L313.80,180.06 L314.50,179.28 L315.20,178.50 L315.90,177.72 L316.60,176.95 L317.30,176.19 L318.00,175.43 L318.70,174.67 L319.40,173.92 L320.10,173.18 L320.80,172.45 L321.50,171.73 L322.20,171.01 L322.90,170.30 L323.60,169.60 L324.30,168.90 L325.00,168.22 L325.70,167.54 L326.40,166.86 L327.10,166.20 L327.80,165.54 L328.50,164.90 L329.20,164.25 L329.90,163.62 L330.60,163.00 L331.30,162.38 L332.00,161.77 L332.70,161.17 L333.40,160.58 L334.10,159.99 L334.80,159.42 L335.50,158.85 L336.20,158.29 L336.90,157.73 L337.60,157.19 L338.30,156.65 L339.00,156.13 L339.70,155.61 L340.40,155.09 L341.10,154.59 L341.80,154.10 L342.50,153.61 L343.20,153.13 L343.90,152.66 L344.60,152.20 L345.30,151.75 L346.00,151.31 L346.70,150.87 L347.40,150.45 L348.10,150.03 L348.80,149.62 L349.50,149.22 L350.20,148.83 L350.90,148.45 L351.60,148.07 L352.30,147.71 L353.00,147.35 L353.70,147.00 L354.40,146.66 L355.10,146.33 L355.80,146.00 L356.50,145.69 L357.20,145.38 L357.90,145.08 L358.60,144.78 L359.30,144.50 L360.00,144.22 L360.70,143.95 L361.40,143.68 L362.10,143.43 L362.80,143.18 L363.50,142.93 L364.20,142.70 L364.90,142.47 L365.60,142.25 L366.30,142.03 L367.00,141.82 L367.70,141.62 L368.40,141.42 L369.10,141.23 L369.80,141.04 L370.50,140.86 L371.20,140.69 L371.90,140.52 L372.60,140.36 L373.30,140.20 L374.00,140.05 L374.70,139.91 L375.40,139.77 L376.10,139.63 L376.80,139.50 L377.50,139.37 L378.20,139.25 L378.90,139.14 L379.60,139.03 L380.30,138.92 L381.00,138.82 L381.70,138.72 L382.40,138.62 L383.10,138.53 L383.80,138.45 L384.50,138.37 L385.20,138.29 L385.90,138.21 L386.60,138.14 L387.30,138.07 L388.00,138.01 L388.70,137.95 L389.40,137.89 L390.10,137.84 L390.80,137.78 L391.50,137.73 L392.20,137.69 L392.90,137.64 L393.60,137.60 L394.30,137.57 L395.00,137.53 L395.70,137.50 L396.40,137.46 L397.10,137.43 L397.80,137.41 L398.50,137.38 L399.20,137.36 L399.90,137.34 L400.60,137.31 L401.30,137.30 L402.00,137.28 L402.70,137.26 L403.40,137.25 L404.10,137.23 L404.80,137.22 L405.50,137.20 L406.20,137.19 L406.90,137.18 L407.60,137.17 L408.30,137.16 L409.00,137.15 L409.70,137.14 L410.40,137.13 L411.10,137.12 L411.80,137.11 L412.50,137.10 L413.20,137.09 L413.90,137.08 L414.60,137.07 L415.30,137.06 L416.00,137.05 L416.70,137.04 L417.40,137.02 L418.10,137.01 L418.80,136.99 L419.50,136.98 L420.00,136.96 L420.00,137.20 L420.70,137.23 L421.40,137.27 L422.10,137.32 L422.80,137.37 L423.50,137.44 L424.20,137.50 L424.90,137.58 L425.60,137.65 L426.30,137.74 L427.00,137.83 L427.70,137.92 L428.40,138.02 L429.10,138.12 L429.80,138.23 L430.50,138.34 L431.20,138.45 L431.90,138.57 L432.60,138.68 L433.30,138.80 L434.00,138.92 L434.70,139.05 L435.40,139.17 L436.10,139.30 L436.80,139.43 L437.50,139.57 L438.20,139.71 L438.90,139.86 L439.60,140.03 L440.30,140.20 L441.00,140.39 L441.70,140.59 L442.40,140.81 L443.10,141.05 L443.80,141.31 L444.50,141.59 L445.20,141.89 L445.90,142.31 L446.60,142.84 L447.30,143.45 L448.00,144.10 L448.70,144.85 L449.40,145.74 L450.10,146.70 L450.80,147.68 L451.50,148.60 L452.20,149.42 L452.90,150.20 L453.60,150.96 L454.30,151.70 L455.00,152.43 L455.70,153.13 L456.40,153.81 L457.10,154.47 L457.80,155.09 L458.50,155.69 L459.00,156.10" stroke="#a184c4" stroke-width="1.6" fill="none" stroke-linejoin="round" stroke-linecap="round" />
<path d="M283.00,222.04 L283.70,221.84 L284.40,221.64 L285.10,221.44 L285.80,221.24 L286.50,221.04 L287.20,220.83 L287.90,220.63 L288.60,220.41 L289.30,220.20 L290.00,219.98 L290.70,219.75 L291.40,219.52 L292.10,219.28 L292.80,219.03 L293.50,218.78 L294.20,218.51 L294.90,218.24 L295.60,217.96 L296.30,217.67 L297.00,217.37 L297.70,217.06 L298.40,216.73 L299.10,216.39 L299.80,216.04 L300.50,215.68 L301.20,215.30 L301.90,214.91 L302.60,214.50 L303.30,214.08 L304.00,213.64 L304.70,213.18 L305.40,212.71 L306.10,212.21 L306.80,211.70 L307.50,211.17 L308.20,210.62 L308.90,210.05 L309.60,209.46 L310.30,208.84 L311.00,208.21 L311.70,207.55 L312.40,206.86 L313.10,206.16 L313.80,205.43 L314.50,204.67 L315.20,203.89 L315.90,203.08 L316.60,202.25 L317.30,201.39 L318.00,200.50 L318.70,199.58 L319.40,198.63 L320.10,197.65 L320.80,196.65 L321.50,195.62 L322.20,194.56 L322.90,193.48 L323.60,192.39 L324.30,191.28 L325.00,190.17 L325.70,189.04 L326.40,187.91 L327.10,186.78 L327.80,185.66 L328.50,184.54 L329.20,183.42 L329.90,182.32 L330.60,181.24 L331.30,180.17 L332.00,179.11 L332.70,178.07 L333.40,177.05 L334.10,176.04 L334.80,175.05 L335.50,174.08 L336.20,173.12 L336.90,172.17 L337.60,171.25 L338.30,170.33 L339.00,169.44 L339.70,168.56 L340.40,167.69 L341.10,166.84 L341.80,166.01 L342.50,165.19 L343.20,164.39 L343.90,163.60 L344.60,162.83 L345.30,162.07 L346.00,161.33 L346.70,160.60 L347.40,159.89 L348.10,159.19 L348.80,158.50 L349.50,157.83 L350.20,157.17 L350.90,156.53 L351.60,155.90 L352.30,155.28 L353.00,154.68 L353.70,154.09 L354.40,153.51 L355.10,152.94 L355.80,152.39 L356.50,151.85 L357.20,151.33 L357.90,150.81 L358.60,150.31 L359.30,149.82 L360.00,149.34 L360.70,148.88 L361.40,148.42 L362.10,147.98 L362.80,147.55 L363.50,147.12 L364.20,146.71 L364.90,146.32 L365.60,145.93 L366.30,145.55 L367.00,145.18 L367.70,144.83 L368.40,144.48 L369.10,144.14 L369.80,143.82 L370.50,143.50 L371.20,143.19 L371.90,142.89 L372.60,142.61 L373.30,142.33 L374.00,142.06 L374.70,141.79 L375.40,141.54 L376.10,141.30 L376.80,141.06 L377.50,140.83 L378.20,140.62 L378.90,140.40 L379.60,140.20 L380.30,140.01 L381.00,139.82 L381.70,139.64 L382.40,139.47 L383.10,139.30 L383.80,139.14 L384.50,138.99 L385.20,138.84 L385.90,138.71 L386.60,138.57 L387.30,138.45 L388.00,138.33 L388.70,138.22 L389.40,138.11 L390.10,138.01 L390.80,137.91 L391.50,137.82 L392.20,137.73 L392.90,137.65 L393.60,137.58 L394.30,137.51 L395.00,137.44 L395.70,137.38 L396.40,137.33 L397.10,137.28 L397.80,137.23 L398.50,137.18 L399.20,137.15 L399.90,137.11 L400.60,137.08 L401.30,137.05 L402.00,137.02 L402.70,137.00 L403.40,136.98 L404.10,136.97 L404.80,136.95 L405.50,136.94 L406.20,136.93 L406.90,136.93 L407.60,136.92 L408.30,136.92 L409.00,136.92 L409.70,136.92 L410.40,136.93 L411.10,136.93 L411.80,136.94 L412.50,136.95 L413.20,136.96 L413.90,136.97 L414.60,136.98 L415.30,136.99 L416.00,137.00 L416.70,137.01 L417.40,137.02 L418.10,137.04 L418.80,137.05 L419.50,137.06 L420.00,137.07 L420.00,137.20 L420.70,137.23 L421.40,137.27 L422.10,137.32 L422.80,137.37 L423.50,137.44 L424.20,137.50 L424.90,137.58 L425.60,137.65 L426.30,137.74 L427.00,137.83 L427.70,137.92 L428.40,138.02 L429.10,138.12 L429.80,138.23 L430.50,138.34 L431.20,138.45 L431.90,138.57 L432.60,138.68 L433.30,138.80 L434.00,138.92 L434.70,139.05 L435.40,139.17 L436.10,139.30 L436.80,139.43 L437.50,139.57 L438.20,139.71 L438.90,139.86 L439.60,140.03 L440.30,140.20 L441.00,140.39 L441.70,140.59 L442.40,140.81 L443.10,141.05 L443.80,141.31 L444.50,141.59 L445.20,141.89 L445.90,142.31 L446.60,142.84 L447.30,143.45 L448.00,144.10 L448.70,144.85 L449.40,145.74 L450.10,146.70 L450.80,147.68 L451.50,148.60 L452.20,149.42 L452.90,150.20 L453.60,150.96 L454.30,151.70 L455.00,152.43 L455.70,153.13 L456.40,153.81 L457.10,154.47 L457.80,155.09 L458.50,155.69 L459.00,156.10" stroke="#d9534a" stroke-width="1.6" fill="none" stroke-linejoin="round" stroke-linecap="round" />
<path d="M283.00,216.29 L283.70,216.21 L284.40,216.11 L285.10,216.00 L285.80,215.87 L286.50,215.73 L287.20,215.57 L287.90,215.39 L288.60,215.20 L289.30,214.99 L290.00,214.76 L290.70,214.53 L291.40,214.27 L292.10,214.01 L292.80,213.72 L293.50,213.43 L294.20,213.11 L294.90,212.79 L295.60,212.45 L296.30,212.10 L297.00,211.73 L297.70,211.35 L298.40,210.95 L299.10,210.55 L299.80,210.13 L300.50,209.69 L301.20,209.25 L301.90,208.79 L302.60,208.32 L303.30,207.83 L304.00,207.34 L304.70,206.83 L305.40,206.31 L306.10,205.78 L306.80,205.24 L307.50,204.68 L308.20,204.12 L308.90,203.54 L309.60,202.95 L310.30,202.36 L311.00,201.75 L311.70,201.13 L312.40,200.50 L313.10,199.86 L313.80,199.21 L314.50,198.55 L315.20,197.88 L315.90,197.20 L316.60,196.51 L317.30,195.82 L318.00,195.11 L318.70,194.39 L319.40,193.67 L320.10,192.94 L320.80,192.20 L321.50,191.45 L322.20,190.69 L322.90,189.93 L323.60,189.16 L324.30,188.38 L325.00,187.60 L325.70,186.81 L326.40,186.02 L327.10,185.23 L327.80,184.43 L328.50,183.62 L329.20,182.82 L329.90,182.01 L330.60,181.20 L331.30,180.39 L332.00,179.57 L332.70,178.76 L333.40,177.95 L334.10,177.14 L334.80,176.32 L335.50,175.51 L336.20,174.70 L336.90,173.90 L337.60,173.09 L338.30,172.29 L339.00,171.49 L339.70,170.70 L340.40,169.91 L341.10,169.13 L341.80,168.35 L342.50,167.58 L343.20,166.81 L343.90,166.05 L344.60,165.30 L345.30,164.56 L346.00,163.82 L346.70,163.09 L347.40,162.38 L348.10,161.67 L348.80,160.97 L349.50,160.28 L350.20,159.61 L350.90,158.94 L351.60,158.29 L352.30,157.64 L353.00,157.01 L353.70,156.39 L354.40,155.78 L355.10,155.18 L355.80,154.60 L356.50,154.02 L357.20,153.45 L357.90,152.90 L358.60,152.35 L359.30,151.82 L360.00,151.29 L360.70,150.78 L361.40,150.27 L362.10,149.78 L362.80,149.30 L363.50,148.82 L364.20,148.36 L364.90,147.91 L365.60,147.46 L366.30,147.03 L367.00,146.61 L367.70,146.19 L368.40,145.79 L369.10,145.39 L369.80,145.01 L370.50,144.63 L371.20,144.26 L371.90,143.91 L372.60,143.56 L373.30,143.22 L374.00,142.89 L374.70,142.57 L375.40,142.25 L376.10,141.95 L376.80,141.65 L377.50,141.37 L378.20,141.09 L378.90,140.82 L379.60,140.56 L380.30,140.31 L381.00,140.06 L381.70,139.83 L382.40,139.60 L383.10,139.38 L383.80,139.17 L384.50,138.97 L385.20,138.77 L385.90,138.58 L386.60,138.40 L387.30,138.23 L388.00,138.07 L388.70,137.91 L389.40,137.76 L390.10,137.62 L390.80,137.48 L391.50,137.36 L392.20,137.24 L392.90,137.12 L393.60,137.02 L394.30,136.92 L395.00,136.83 L395.70,136.74 L396.40,136.67 L397.10,136.59 L397.80,136.53 L398.50,136.47 L399.20,136.42 L399.90,136.37 L400.60,136.34 L401.30,136.30 L402.00,136.28 L402.70,136.26 L403.40,136.24 L404.10,136.23 L404.80,136.23 L405.50,136.24 L406.20,136.25 L406.90,136.26 L407.60,136.28 L408.30,136.31 L409.00,136.34 L409.70,136.38 L410.40,136.42 L411.10,136.47 L411.80,136.53 L412.50,136.59 L413.20,136.65 L413.90,136.72 L414.60,136.79 L415.30,136.87 L416.00,136.96 L416.70,137.05 L417.40,137.14 L418.10,137.24 L418.80,137.34 L419.50,137.45 L420.00,137.53 L420.00,137.20 L420.70,137.23 L421.40,137.27 L422.10,137.32 L422.80,137.37 L423.50,137.44 L424.20,137.50 L424.90,137.58 L425.60,137.65 L426.30,137.74 L427.00,137.83 L427.70,137.92 L428.40,138.02 L429.10,138.12 L429.80,138.23 L430.50,138.34 L431.20,138.45 L431.90,138.57 L432.60,138.68 L433.30,138.80 L434.00,138.92 L434.70,139.05 L435.40,139.17 L436.10,139.30 L436.80,139.43 L437.50,139.57 L438.20,139.71 L438.90,139.86 L439.60,140.03 L440.30,140.20 L441.00,140.39 L441.70,140.59 L442.40,140.81 L443.10,141.05 L443.80,141.31 L444.50,141.59 L445.20,141.89 L445.90,142.31 L446.60,142.84 L447.30,143.45 L448.00,144.10 L448.70,144.85 L449.40,145.74 L450.10,146.70 L450.80,147.68 L451.50,148.60 L452.20,149.42 L452.90,150.20 L453.60,150.96 L454.30,151.70 L455.00,152.43 L455.70,153.13 L456.40,153.81 L457.10,154.47 L457.80,155.09 L458.50,155.69 L459.00,156.10" stroke="#2f6ea8" stroke-width="1.6" fill="none" stroke-linejoin="round" stroke-linecap="round" />
<path d="M283.00,215.48 L283.70,215.41 L284.40,215.32 L285.10,215.21 L285.80,215.09 L286.50,214.95 L287.20,214.80 L287.90,214.63 L288.60,214.44 L289.30,214.24 L290.00,214.02 L290.70,213.78 L291.40,213.53 L292.10,213.27 L292.80,212.99 L293.50,212.70 L294.20,212.39 L294.90,212.06 L295.60,211.72 L296.30,211.37 L297.00,211.01 L297.70,210.63 L298.40,210.23 L299.10,209.82 L299.80,209.40 L300.50,208.97 L301.20,208.52 L301.90,208.06 L302.60,207.59 L303.30,207.11 L304.00,206.61 L304.70,206.10 L305.40,205.58 L306.10,205.04 L306.80,204.50 L307.50,203.94 L308.20,203.37 L308.90,202.79 L309.60,202.20 L310.30,201.60 L311.00,200.99 L311.70,200.37 L312.40,199.74 L313.10,199.09 L313.80,198.44 L314.50,197.78 L315.20,197.11 L315.90,196.42 L316.60,195.73 L317.30,195.03 L318.00,194.32 L318.70,193.61 L319.40,192.88 L320.10,192.14 L320.80,191.40 L321.50,190.65 L322.20,189.89 L322.90,189.12 L323.60,188.35 L324.30,187.57 L325.00,186.79 L325.70,186.00 L326.40,185.21 L327.10,184.41 L327.80,183.61 L328.50,182.81 L329.20,182.00 L329.90,181.19 L330.60,180.38 L331.30,179.57 L332.00,178.76 L332.70,177.95 L333.40,177.13 L334.10,176.32 L334.80,175.51 L335.50,174.70 L336.20,173.89 L336.90,173.09 L337.60,172.29 L338.30,171.49 L339.00,170.69 L339.70,169.90 L340.40,169.12 L341.10,168.34 L341.80,167.56 L342.50,166.79 L343.20,166.03 L343.90,165.28 L344.60,164.53 L345.30,163.79 L346.00,163.06 L346.70,162.34 L347.40,161.63 L348.10,160.93 L348.80,160.24 L349.50,159.56 L350.20,158.89 L350.90,158.23 L351.60,157.58 L352.30,156.95 L353.00,156.33 L353.70,155.72 L354.40,155.12 L355.10,154.53 L355.80,153.95 L356.50,153.38 L357.20,152.83 L357.90,152.28 L358.60,151.75 L359.30,151.22 L360.00,150.71 L360.70,150.21 L361.40,149.72 L362.10,149.24 L362.80,148.76 L363.50,148.30 L364.20,147.85 L364.90,147.41 L365.60,146.98 L366.30,146.56 L367.00,146.15 L367.70,145.75 L368.40,145.36 L369.10,144.98 L369.80,144.60 L370.50,144.24 L371.20,143.89 L371.90,143.54 L372.60,143.21 L373.30,142.88 L374.00,142.56 L374.70,142.26 L375.40,141.96 L376.10,141.67 L376.80,141.38 L377.50,141.11 L378.20,140.85 L378.90,140.59 L379.60,140.34 L380.30,140.10 L381.00,139.87 L381.70,139.65 L382.40,139.43 L383.10,139.22 L383.80,139.03 L384.50,138.83 L385.20,138.65 L385.90,138.47 L386.60,138.31 L387.30,138.14 L388.00,137.99 L388.70,137.84 L389.40,137.71 L390.10,137.57 L390.80,137.45 L391.50,137.33 L392.20,137.22 L392.90,137.12 L393.60,137.02 L394.30,136.93 L395.00,136.84 L395.70,136.77 L396.40,136.69 L397.10,136.63 L397.80,136.57 L398.50,136.52 L399.20,136.47 L399.90,136.43 L400.60,136.40 L401.30,136.37 L402.00,136.35 L402.70,136.33 L403.40,136.32 L404.10,136.32 L404.80,136.32 L405.50,136.32 L406.20,136.33 L406.90,136.35 L407.60,136.37 L408.30,136.39 L409.00,136.42 L409.70,136.46 L410.40,136.50 L411.10,136.55 L411.80,136.60 L412.50,136.65 L413.20,136.71 L413.90,136.78 L414.60,136.84 L415.30,136.92 L416.00,136.99 L416.70,137.07 L417.40,137.16 L418.10,137.25 L418.80,137.34 L419.50,137.43 L420.00,137.51 L420.00,137.20 L420.70,137.23 L421.40,137.27 L422.10,137.32 L422.80,137.37 L423.50,137.44 L424.20,137.50 L424.90,137.58 L425.60,137.65 L426.30,137.74 L427.00,137.83 L427.70,137.92 L428.40,138.02 L429.10,138.12 L429.80,138.23 L430.50,138.34 L431.20,138.45 L431.90,138.57 L432.60,138.68 L433.30,138.80 L434.00,138.92 L434.70,139.05 L435.40,139.17 L436.10,139.30 L436.80,139.43 L437.50,139.57 L438.20,139.71 L438.90,139.86 L439.60,140.03 L440.30,140.20 L441.00,140.39 L441.70,140.59 L442.40,140.81 L443.10,141.05 L443.80,141.31 L444.50,141.59 L445.20,141.89 L445.90,142.31 L446.60,142.84 L447.30,143.45 L448.00,144.10 L448.70,144.85 L449.40,145.74 L450.10,146.70 L450.80,147.68 L451.50,148.60 L452.20,149.42 L452.90,150.20 L453.60,150.96 L454.30,151.70 L455.00,152.43 L455.70,153.13 L456.40,153.81 L457.10,154.47 L457.80,155.09 L458.50,155.69 L459.00,156.10" stroke="#36b592" stroke-width="1.6" fill="none" stroke-linejoin="round" stroke-linecap="round" />
<path d="M395.00,137.00 L395.70,136.96 L396.40,136.92 L397.10,136.89 L397.80,136.85 L398.50,136.83 L399.20,136.81 L399.90,136.80 L400.60,136.80 L401.30,136.80 L402.00,136.80 L402.70,136.81 L403.40,136.81 L404.10,136.82 L404.80,136.83 L405.50,136.83 L406.20,136.84 L406.90,136.85 L407.60,136.87 L408.30,136.88 L409.00,136.89 L409.70,136.90 L410.40,136.92 L411.10,136.93 L411.80,136.95 L412.50,136.97 L413.20,136.99 L413.90,137.01 L414.60,137.03 L415.30,137.05 L416.00,137.07 L416.70,137.09 L417.40,137.11 L418.10,137.13 L418.80,137.16 L419.50,137.18 L420.20,137.21 L420.90,137.24 L421.60,137.28 L422.30,137.33 L423.00,137.38 L423.70,137.44 L424.40,137.51 L425.10,137.59 L425.80,137.67 L426.50,137.75 L427.20,137.85 L427.90,137.94 L428.60,138.04 L429.30,138.15 L430.00,138.25 L430.70,138.37 L431.40,138.48 L432.10,138.60 L432.80,138.72 L433.50,138.84 L434.20,138.96 L434.90,139.08 L435.60,139.21 L436.30,139.33 L437.00,139.47 L437.70,139.61 L438.40,139.75 L439.10,139.91 L439.80,140.07 L440.50,140.25 L441.20,140.45 L441.90,140.65 L442.60,140.88 L443.30,141.12 L444.00,141.39 L444.70,141.67 L445.40,142.00 L446.10,142.45 L446.80,143.01 L447.50,143.63 L448.20,144.30 L448.90,145.09 L449.60,146.01 L450.30,146.98 L451.00,147.95 L451.70,148.85 L452.40,149.65 L453.10,150.42 L453.80,151.18 L454.50,151.91 L455.20,152.63 L455.90,153.33 L456.60,154.00 L457.30,154.65 L458.00,155.27 L458.70,155.86 L459.00,156.10" stroke="#d8ad52" stroke-width="1.5" fill="none" stroke-linejoin="round" stroke-linecap="round" opacity="0.75"/>
<path d="M395.00,137.40 L395.70,137.29 L396.40,137.18 L397.10,137.07 L397.80,136.97 L398.50,136.88 L399.20,136.83 L399.90,136.80 L400.60,136.80 L401.30,136.80 L402.00,136.80 L402.70,136.81 L403.40,136.81 L404.10,136.82 L404.80,136.83 L405.50,136.83 L406.20,136.84 L406.90,136.85 L407.60,136.87 L408.30,136.88 L409.00,136.89 L409.70,136.90 L410.40,136.92 L411.10,136.93 L411.80,136.95 L412.50,136.97 L413.20,136.99 L413.90,137.01 L414.60,137.03 L415.30,137.05 L416.00,137.07 L416.70,137.09 L417.40,137.11 L418.10,137.13 L418.80,137.16 L419.50,137.18 L420.20,137.21 L420.90,137.24 L421.60,137.28 L422.30,137.33 L423.00,137.38 L423.70,137.44 L424.40,137.51 L425.10,137.59 L425.80,137.67 L426.50,137.75 L427.20,137.85 L427.90,137.94 L428.60,138.04 L429.30,138.15 L430.00,138.25 L430.70,138.37 L431.40,138.48 L432.10,138.60 L432.80,138.72 L433.50,138.84 L434.20,138.96 L434.90,139.08 L435.60,139.21 L436.30,139.33 L437.00,139.47 L437.70,139.61 L438.40,139.75 L439.10,139.91 L439.80,140.07 L440.50,140.25 L441.20,140.45 L441.90,140.65 L442.60,140.88 L443.30,141.12 L444.00,141.39 L444.70,141.67 L445.40,142.00 L446.10,142.45 L446.80,143.01 L447.50,143.63 L448.20,144.30 L448.90,145.09 L449.60,146.01 L450.30,146.98 L451.00,147.95 L451.70,148.85 L452.40,149.65 L453.10,150.42 L453.80,151.18 L454.50,151.91 L455.20,152.63 L455.90,153.33 L456.60,154.00 L457.30,154.65 L458.00,155.27 L458.70,155.86 L459.00,156.10" stroke="#d9534a" stroke-width="1.5" fill="none" stroke-linejoin="round" stroke-linecap="round" opacity="0.75"/>
<path d="M283.00,222.10 L283.70,222.18 L284.40,222.25 L285.10,222.33 L285.80,222.40 L286.50,222.48 L287.20,222.55 L287.90,222.62 L288.60,222.69 L289.30,222.76 L290.00,222.83 L290.70,222.89 L291.40,222.96 L292.10,223.02 L292.80,223.08 L293.50,223.14 L294.20,223.20 L294.90,223.26 L295.60,223.31 L296.30,223.36 L297.00,223.41 L297.70,223.46 L298.40,223.50 L299.10,223.55 L299.80,223.59 L300.50,223.63 L301.20,223.67 L301.90,223.71 L302.60,223.75 L303.30,223.79 L304.00,223.83 L304.70,223.86 L305.40,223.90 L306.10,223.94 L306.80,223.98 L307.50,224.02 L308.20,224.05 L308.90,224.09 L309.60,224.12 L310.30,224.15 L311.00,224.18 L311.70,224.21 L312.40,224.24 L313.10,224.27 L313.80,224.29 L314.50,224.31 L315.20,224.33 L315.90,224.35 L316.60,224.37 L317.30,224.38 L318.00,224.39 L318.70,224.39 L319.40,224.40 L320.10,224.40 L320.80,224.40 L321.50,224.39 L322.20,224.38 L322.90,224.37 L323.60,224.35 L324.30,224.34 L325.00,224.31 L325.70,224.29 L326.40,224.26 L327.10,224.24 L327.80,224.20 L328.50,224.17 L329.20,224.14 L329.90,224.10 L330.60,224.06 L331.30,224.02 L332.00,223.98 L332.70,223.94 L333.40,223.90 L334.10,223.86 L334.80,223.81 L335.50,223.77 L336.20,223.71 L336.90,223.66 L337.60,223.59 L338.30,223.52 L339.00,223.44 L339.70,223.36 L340.40,223.27 L341.10,223.17 L341.80,223.07 L342.50,222.97 L343.20,222.86 L343.90,222.75 L344.60,222.63 L345.30,222.51 L346.00,222.38 L346.70,222.25 L347.40,222.12 L348.10,221.98 L348.80,221.84 L349.50,221.70 L350.20,221.56 L350.90,221.40 L351.60,221.24 L352.30,221.06 L353.00,220.87 L353.70,220.68 L354.40,220.47 L355.10,220.25 L355.80,220.02 L356.50,219.79 L357.20,219.54 L357.90,219.29 L358.60,219.03 L359.30,218.77 L360.00,218.50 L360.70,218.22 L361.40,217.93 L362.10,217.64 L362.80,217.35 L363.50,217.05 L364.20,216.75 L364.90,216.44 L365.60,216.13 L366.30,215.81 L367.00,215.48 L367.70,215.13 L368.40,214.78 L369.10,214.41 L369.80,214.04 L370.50,213.65 L371.20,213.25 L371.90,212.85 L372.60,212.43 L373.30,212.00 L374.00,211.56 L374.70,211.12 L375.40,210.66 L376.10,210.19 L376.80,209.71 L377.50,209.22 L378.20,208.73 L378.90,208.22 L379.60,207.70 L380.30,207.17 L381.00,206.62 L381.70,206.05 L382.40,205.46 L383.10,204.84 L383.80,204.21 L384.50,203.55 L385.20,202.88 L385.90,202.19 L386.60,201.48 L387.30,200.75 L388.00,200.01 L388.70,199.25 L389.40,198.48 L390.10,197.70 L390.80,196.90 L391.50,196.09 L392.20,195.26 L392.90,194.40 L393.60,193.49 L394.30,192.54 L395.00,191.56 L395.70,190.54 L396.40,189.50 L397.10,188.44 L397.80,187.36 L398.50,186.28 L399.20,185.18 L399.90,184.08 L400.60,182.99 L401.30,181.91 L402.00,180.83 L402.70,179.78 L403.40,178.75 L404.10,177.74 L404.80,176.77 L405.50,175.82 L406.20,174.87 L406.90,173.91 L407.60,172.95 L408.30,171.98 L409.00,171.02 L409.70,170.06 L410.40,169.10 L411.10,168.15 L411.80,167.22 L412.50,166.29 L413.20,165.38 L413.90,164.49 L414.60,163.62 L415.30,162.77 L416.00,161.94 L416.70,161.14 L417.40,160.37 L418.10,159.63 L418.80,158.93 L419.50,158.26 L420.20,157.62 L420.90,157.01 L421.60,156.41 L422.30,155.82 L423.00,155.25 L423.70,154.70 L424.40,154.16 L425.10,153.64 L425.80,153.13 L426.50,152.65 L427.20,152.18 L427.90,151.73 L428.60,151.30 L429.30,150.90 L430.00,150.51 L430.70,150.15 L431.40,149.81 L432.10,149.47 L432.80,149.14 L433.50,148.82 L434.20,148.52 L434.90,148.24 L435.60,147.98 L436.30,147.74 L437.00,147.54 L437.70,147.36 L438.40,147.22 L439.10,147.08 L439.80,146.95 L440.50,146.82 L441.20,146.72 L441.90,146.65 L442.60,146.61 L443.30,146.61 L444.00,146.70 L444.70,146.87 L445.40,147.09 L446.10,147.34 L446.80,147.71 L447.50,148.25 L448.20,148.87 L448.90,149.51 L449.60,150.11 L450.30,150.60 L451.00,151.07 L451.70,151.54 L452.40,151.99 L453.10,152.44 L453.80,152.87 L454.50,153.30 L455.20,153.71 L455.90,154.11 L456.60,154.50 L457.30,154.87 L458.00,155.22 L458.70,155.56 L459.00,155.70" stroke="#4a4a4a" stroke-width="1.5" fill="none" stroke-linejoin="round" stroke-linecap="round" />
<rect x="283.00" y="21.70" width="176.00" height="224.10" fill="none" stroke="#111" stroke-width="1.5" />
<line x1="283.00" y1="133.80" x2="459.00" y2="133.80" stroke="#111" stroke-width="1.5" />
<line x1="334.00" y1="31.10" x2="354.00" y2="31.10" stroke="#4a4a4a" stroke-width="1.6" />
<text x="357.00" y="34.00" font-size="8" text-anchor="start" font-weight="bold" fill="#222" stroke="#222" stroke-width="0.35" textLength="16.00" lengthAdjust="spacingAndGlyphs" >Gold</text>
<line x1="376.40" y1="31.10" x2="393.00" y2="31.10" stroke="#d9534a" stroke-width="1.6" />
<text x="395.50" y="34.00" font-size="8" text-anchor="start" font-weight="bold" fill="#222" stroke="#222" stroke-width="0.35" textLength="18.50" lengthAdjust="spacingAndGlyphs" >100 s</text>
<line x1="416.30" y1="31.10" x2="433.00" y2="31.10" stroke="#2f6ea8" stroke-width="1.6" />
<text x="436.00" y="34.00" font-size="8" text-anchor="start" font-weight="bold" fill="#222" stroke="#222" stroke-width="0.35" textLength="17.50" lengthAdjust="spacingAndGlyphs" >200 s</text>
<line x1="335.60" y1="43.20" x2="354.00" y2="43.20" stroke="#36b592" stroke-width="1.6" />
<text x="355.60" y="46.10" font-size="8" text-anchor="start" font-weight="bold" fill="#222" stroke="#222" stroke-width="0.35" textLength="18.00" lengthAdjust="spacingAndGlyphs" >300 s</text>
<line x1="376.40" y1="43.20" x2="393.00" y2="43.20" stroke="#a184c4" stroke-width="1.6" />
<text x="395.50" y="46.10" font-size="8" text-anchor="start" font-weight="bold" fill="#222" stroke="#222" stroke-width="0.35" textLength="18.50" lengthAdjust="spacingAndGlyphs" >400 s</text>
<line x1="416.30" y1="43.20" x2="433.00" y2="43.20" stroke="#d8ad52" stroke-width="1.6" />
<text x="436.00" y="46.10" font-size="8" text-anchor="start" font-weight="bold" fill="#222" stroke="#222" stroke-width="0.35" textLength="17.50" lengthAdjust="spacingAndGlyphs" >500 s</text>
<text x="466.50" y="20.10" font-size="13.2" text-anchor="start" font-weight="bold" fill="#111" stroke="#111" stroke-width="0.35" textLength="6.60" lengthAdjust="spacingAndGlyphs" >c</text>
<rect x="492.50" y="84.75" width="24.50" height="161.05" fill="#ffffff" stroke="#3a3a3a" stroke-width="0.95" />
<line x1="504.75" y1="245.80" x2="504.75" y2="242.80" stroke="#111" stroke-width="1.2" />
<text x="506.75" y="256.80" font-size="8.5" text-anchor="middle" font-weight="bold" fill="#1a1a1a" stroke="#1a1a1a" stroke-width="0.35" >0</text>
<rect x="522.30" y="234.10" width="24.00" height="11.70" fill="#f8eeee" stroke="#3a3a3a" stroke-width="0.95" />
<line x1="534.30" y1="245.80" x2="534.30" y2="242.80" stroke="#111" stroke-width="1.2" />
<text x="536.30" y="256.80" font-size="8.5" text-anchor="middle" font-weight="bold" fill="#1a1a1a" stroke="#1a1a1a" stroke-width="0.35" >100</text>
<rect x="551.50" y="234.66" width="24.00" height="11.15" fill="#f4d6d8" stroke="#3a3a3a" stroke-width="0.95" />
<line x1="563.50" y1="245.80" x2="563.50" y2="242.80" stroke="#111" stroke-width="1.2" />
<text x="565.50" y="256.80" font-size="8.5" text-anchor="middle" font-weight="bold" fill="#1a1a1a" stroke="#1a1a1a" stroke-width="0.35" >200</text>
<rect x="581.40" y="234.10" width="23.40" height="11.70" fill="#f2c8ca" stroke="#3a3a3a" stroke-width="0.95" />
<line x1="593.10" y1="245.80" x2="593.10" y2="242.80" stroke="#111" stroke-width="1.2" />
<text x="595.10" y="256.80" font-size="8.5" text-anchor="middle" font-weight="bold" fill="#1a1a1a" stroke="#1a1a1a" stroke-width="0.35" >300</text>
<rect x="610.40" y="233.54" width="24.00" height="12.26" fill="#efb6b9" stroke="#3a3a3a" stroke-width="0.95" />
<line x1="622.40" y1="245.80" x2="622.40" y2="242.80" stroke="#111" stroke-width="1.2" />
<text x="624.40" y="256.80" font-size="8.5" text-anchor="middle" font-weight="bold" fill="#1a1a1a" stroke="#1a1a1a" stroke-width="0.35" >400</text>
<rect x="639.70" y="236.33" width="23.90" height="9.47" fill="#ea9ea2" stroke="#3a3a3a" stroke-width="0.95" />
<line x1="651.65" y1="245.80" x2="651.65" y2="242.80" stroke="#111" stroke-width="1.2" />
<text x="653.65" y="256.80" font-size="8.5" text-anchor="middle" font-weight="bold" fill="#1a1a1a" stroke="#1a1a1a" stroke-width="0.35" >500</text>
<line x1="503.50" y1="83.08" x2="509.00" y2="83.08" stroke="#111" stroke-width="0.9" />
<line x1="503.50" y1="86.43" x2="509.00" y2="86.43" stroke="#111" stroke-width="0.9" />
<line x1="506.20" y1="83.08" x2="506.20" y2="86.43" stroke="#111" stroke-width="0.9" />
<text x="487.50" y="248.80" font-size="8.5" text-anchor="end" font-weight="bold" fill="#1a1a1a" stroke="#1a1a1a" stroke-width="0.35" >0</text>
<line x1="490.50" y1="190.08" x2="493.50" y2="190.08" stroke="#111" stroke-width="1.2" />
<text x="487.50" y="193.08" font-size="8.5" text-anchor="end" font-weight="bold" fill="#1a1a1a" stroke="#1a1a1a" stroke-width="0.35" >10</text>
<line x1="490.50" y1="134.35" x2="493.50" y2="134.35" stroke="#111" stroke-width="1.2" />
<text x="487.50" y="137.35" font-size="8.5" text-anchor="end" font-weight="bold" fill="#1a1a1a" stroke="#1a1a1a" stroke-width="0.35" >20</text>
<line x1="490.50" y1="78.62" x2="493.50" y2="78.62" stroke="#111" stroke-width="1.2" />
<text x="487.50" y="81.62" font-size="8.5" text-anchor="end" font-weight="bold" fill="#1a1a1a" stroke="#1a1a1a" stroke-width="0.35" >30</text>
<text x="487.50" y="25.90" font-size="8.5" text-anchor="end" font-weight="bold" fill="#1a1a1a" stroke="#1a1a1a" stroke-width="0.35" >40</text>
<line x1="490.50" y1="217.94" x2="492.30" y2="217.94" stroke="#111" stroke-width="1" />
<line x1="490.50" y1="162.21" x2="492.30" y2="162.21" stroke="#111" stroke-width="1" />
<line x1="490.50" y1="106.49" x2="492.30" y2="106.49" stroke="#111" stroke-width="1" />
<line x1="490.50" y1="50.76" x2="492.30" y2="50.76" stroke="#111" stroke-width="1" />
<rect x="490.50" y="22.90" width="175.50" height="222.90" fill="none" stroke="#111" stroke-width="1.5" />
<text x="578.40" y="268.60" font-size="9.3" text-anchor="middle" font-weight="bold" fill="#1a1a1a" stroke="#1a1a1a" stroke-width="0.35" textLength="89.60" lengthAdjust="spacingAndGlyphs" >Deposition time (s)</text>
<text x="474.30" y="134.50" font-size="9.6" text-anchor="middle" font-weight="bold" fill="#1a1a1a" stroke="#1a1a1a" stroke-width="0.35" textLength="66.50" lengthAdjust="spacingAndGlyphs" transform="rotate(-90 474.30 134.50)" >Amplitude (kΩ)</text>
<text x="11.60" y="282.30" font-size="13.2" text-anchor="start" font-weight="bold" fill="#111" stroke="#111" stroke-width="0.35" textLength="7.80" lengthAdjust="spacingAndGlyphs" >d</text>
<text x="32.80" y="437.50" font-size="8.5" text-anchor="end" font-weight="bold" fill="#1a1a1a" stroke="#1a1a1a" stroke-width="0.35" >0</text>
<line x1="35.30" y1="405.46" x2="38.30" y2="405.46" stroke="#111" stroke-width="1.2" />
<text x="32.80" y="408.46" font-size="8.5" text-anchor="end" font-weight="bold" fill="#1a1a1a" stroke="#1a1a1a" stroke-width="0.35" >5</text>
<line x1="35.30" y1="376.42" x2="38.30" y2="376.42" stroke="#111" stroke-width="1.2" />
<text x="32.80" y="379.42" font-size="8.5" text-anchor="end" font-weight="bold" fill="#1a1a1a" stroke="#1a1a1a" stroke-width="0.35" >10</text>
<line x1="35.30" y1="347.38" x2="38.30" y2="347.38" stroke="#111" stroke-width="1.2" />
<text x="32.80" y="350.38" font-size="8.5" text-anchor="end" font-weight="bold" fill="#1a1a1a" stroke="#1a1a1a" stroke-width="0.35" >15</text>
<line x1="35.30" y1="318.34" x2="38.30" y2="318.34" stroke="#111" stroke-width="1.2" />
<text x="32.80" y="321.34" font-size="8.5" text-anchor="end" font-weight="bold" fill="#1a1a1a" stroke="#1a1a1a" stroke-width="0.35" >20</text>
<text x="32.80" y="292.30" font-size="8.5" text-anchor="end" font-weight="bold" fill="#1a1a1a" stroke="#1a1a1a" stroke-width="0.35" >25</text>
<line x1="35.30" y1="419.98" x2="37.10" y2="419.98" stroke="#111" stroke-width="1" />
<line x1="35.30" y1="390.94" x2="37.10" y2="390.94" stroke="#111" stroke-width="1" />
<line x1="35.30" y1="361.90" x2="37.10" y2="361.90" stroke="#111" stroke-width="1" />
<line x1="35.30" y1="332.86" x2="37.10" y2="332.86" stroke="#111" stroke-width="1" />
<line x1="35.30" y1="303.82" x2="37.10" y2="303.82" stroke="#111" stroke-width="1" />
<line x1="48.60" y1="434.50" x2="48.60" y2="431.50" stroke="#111" stroke-width="1.2" />
<text x="48.60" y="445.20" font-size="8.5" text-anchor="middle" font-weight="bold" fill="#1a1a1a" stroke="#1a1a1a" stroke-width="0.35" >0</text>
<line x1="75.78" y1="434.50" x2="75.78" y2="431.50" stroke="#111" stroke-width="1.2" />
<text x="75.78" y="445.20" font-size="8.5" text-anchor="middle" font-weight="bold" fill="#1a1a1a" stroke="#1a1a1a" stroke-width="0.35" >100</text>
<line x1="102.96" y1="434.50" x2="102.96" y2="431.50" stroke="#111" stroke-width="1.2" />
<text x="102.96" y="445.20" font-size="8.5" text-anchor="middle" font-weight="bold" fill="#1a1a1a" stroke="#1a1a1a" stroke-width="0.35" >200</text>
<line x1="130.14" y1="434.50" x2="130.14" y2="431.50" stroke="#111" stroke-width="1.2" />
<text x="130.14" y="445.20" font-size="8.5" text-anchor="middle" font-weight="bold" fill="#1a1a1a" stroke="#1a1a1a" stroke-width="0.35" >300</text>
<line x1="157.32" y1="434.50" x2="157.32" y2="431.50" stroke="#111" stroke-width="1.2" />
<text x="157.32" y="445.20" font-size="8.5" text-anchor="middle" font-weight="bold" fill="#1a1a1a" stroke="#1a1a1a" stroke-width="0.35" >400</text>
<line x1="184.50" y1="434.50" x2="184.50" y2="431.50" stroke="#111" stroke-width="1.2" />
<text x="184.50" y="445.20" font-size="8.5" text-anchor="middle" font-weight="bold" fill="#1a1a1a" stroke="#1a1a1a" stroke-width="0.35" >500</text>
<line x1="48.60" y1="429.30" x2="185.60" y2="340.50" stroke="#d65a52" stroke-width="1.3" />
<line x1="48.60" y1="428.11" x2="48.60" y2="430.43" stroke="#111" stroke-width="1.0" />
<line x1="46.90" y1="428.11" x2="50.30" y2="428.11" stroke="#111" stroke-width="0.9" />
<line x1="46.90" y1="430.43" x2="50.30" y2="430.43" stroke="#111" stroke-width="0.9" />
<circle cx="48.60" cy="429.27" r="1.9" fill="#111"/>
<line x1="75.78" y1="404.88" x2="75.78" y2="419.98" stroke="#111" stroke-width="1.0" />
<line x1="74.08" y1="404.88" x2="77.48" y2="404.88" stroke="#111" stroke-width="0.9" />
<line x1="74.08" y1="419.98" x2="77.48" y2="419.98" stroke="#111" stroke-width="0.9" />
<circle cx="75.78" cy="412.43" r="1.9" fill="#111"/>
<line x1="102.96" y1="388.04" x2="102.96" y2="400.81" stroke="#111" stroke-width="1.0" />
<line x1="101.26" y1="388.04" x2="104.66" y2="388.04" stroke="#111" stroke-width="0.9" />
<line x1="101.26" y1="400.81" x2="104.66" y2="400.81" stroke="#111" stroke-width="0.9" />
<circle cx="102.96" cy="394.42" r="1.9" fill="#111"/>
<line x1="130.14" y1="370.32" x2="130.14" y2="380.20" stroke="#111" stroke-width="1.0" />
<line x1="128.44" y1="370.32" x2="131.84" y2="370.32" stroke="#111" stroke-width="0.9" />
<line x1="128.44" y1="380.20" x2="131.84" y2="380.20" stroke="#111" stroke-width="0.9" />
<circle cx="130.14" cy="375.26" r="1.9" fill="#111"/>
<line x1="157.32" y1="358.12" x2="157.32" y2="374.97" stroke="#111" stroke-width="1.0" />
<line x1="155.62" y1="358.12" x2="159.02" y2="358.12" stroke="#111" stroke-width="0.9" />
<line x1="155.62" y1="374.97" x2="159.02" y2="374.97" stroke="#111" stroke-width="0.9" />
<circle cx="157.32" cy="366.55" r="1.9" fill="#111"/>
<line x1="184.50" y1="305.56" x2="184.50" y2="339.25" stroke="#111" stroke-width="1.0" />
<line x1="182.80" y1="305.56" x2="186.20" y2="305.56" stroke="#111" stroke-width="0.9" />
<line x1="182.80" y1="339.25" x2="186.20" y2="339.25" stroke="#111" stroke-width="0.9" />
<circle cx="184.50" cy="322.41" r="1.9" fill="#111"/>
<rect x="35.30" y="289.30" width="164.30" height="145.20" fill="none" stroke="#111" stroke-width="1.5" />
<path d="M128.00,390.20 L149.90,390.20 L149.90,374.70" stroke="#333" stroke-width="0.9" fill="none" stroke-linejoin="round" stroke-linecap="round" />
<text x="148.80" y="400.00" font-size="8.2" text-anchor="middle" font-weight="bold" fill="#1a1a1a" stroke="#1a1a1a" stroke-width="0.35" textLength="60.80" lengthAdjust="spacingAndGlyphs" >0.030 mC/cm²-s</text>
<text x="58.90" y="303.50" font-size="8.4" text-anchor="middle" font-weight="bold" fill="#1a1a1a" stroke="#1a1a1a" stroke-width="0.35" textLength="33.50" lengthAdjust="spacingAndGlyphs" >R² = 0.99</text>
<text x="117.40" y="457.80" font-size="9.3" text-anchor="middle" font-weight="bold" fill="#1a1a1a" stroke="#1a1a1a" stroke-width="0.35" textLength="89.80" lengthAdjust="spacingAndGlyphs" >Deposition time (s)</text>
<text x="19.20" y="359.50" font-size="8.9" text-anchor="middle" font-weight="bold" fill="#1a1a1a" stroke="#1a1a1a" stroke-width="0.35" textLength="149.00" lengthAdjust="spacingAndGlyphs" transform="rotate(-90 19.20 359.50)" >Charge storage capacity  (mC/cm²)</text>
<text x="207.50" y="283.70" font-size="13.2" text-anchor="start" font-weight="bold" fill="#111" stroke="#111" stroke-width="0.35" textLength="7.20" lengthAdjust="spacingAndGlyphs" >e</text>
<text x="225.50" y="437.30" font-size="8.5" text-anchor="end" font-weight="bold" fill="#1a1a1a" stroke="#1a1a1a" stroke-width="0.35" >0</text>
<line x1="228.00" y1="405.32" x2="231.00" y2="405.32" stroke="#111" stroke-width="1.2" />
<text x="225.50" y="408.32" font-size="8.5" text-anchor="end" font-weight="bold" fill="#1a1a1a" stroke="#1a1a1a" stroke-width="0.35" >1</text>
<line x1="228.00" y1="376.34" x2="231.00" y2="376.34" stroke="#111" stroke-width="1.2" />
<text x="225.50" y="379.34" font-size="8.5" text-anchor="end" font-weight="bold" fill="#1a1a1a" stroke="#1a1a1a" stroke-width="0.35" >2</text>
<line x1="228.00" y1="347.36" x2="231.00" y2="347.36" stroke="#111" stroke-width="1.2" />
<text x="225.50" y="350.36" font-size="8.5" text-anchor="end" font-weight="bold" fill="#1a1a1a" stroke="#1a1a1a" stroke-width="0.35" >3</text>
<line x1="228.00" y1="318.38" x2="231.00" y2="318.38" stroke="#111" stroke-width="1.2" />
<text x="225.50" y="321.38" font-size="8.5" text-anchor="end" font-weight="bold" fill="#1a1a1a" stroke="#1a1a1a" stroke-width="0.35" >4</text>
<text x="225.50" y="292.40" font-size="8.5" text-anchor="end" font-weight="bold" fill="#1a1a1a" stroke="#1a1a1a" stroke-width="0.35" >5</text>
<line x1="228.00" y1="419.81" x2="229.80" y2="419.81" stroke="#111" stroke-width="1" />
<line x1="228.00" y1="390.83" x2="229.80" y2="390.83" stroke="#111" stroke-width="1" />
<line x1="228.00" y1="361.85" x2="229.80" y2="361.85" stroke="#111" stroke-width="1" />
<line x1="228.00" y1="332.87" x2="229.80" y2="332.87" stroke="#111" stroke-width="1" />
<line x1="228.00" y1="303.89" x2="229.80" y2="303.89" stroke="#111" stroke-width="1" />
<line x1="241.70" y1="434.30" x2="241.70" y2="431.30" stroke="#111" stroke-width="1.2" />
<text x="241.70" y="445.20" font-size="8.5" text-anchor="middle" font-weight="bold" fill="#1a1a1a" stroke="#1a1a1a" stroke-width="0.35" >0</text>
<line x1="268.96" y1="434.30" x2="268.96" y2="431.30" stroke="#111" stroke-width="1.2" />
<text x="268.96" y="445.20" font-size="8.5" text-anchor="middle" font-weight="bold" fill="#1a1a1a" stroke="#1a1a1a" stroke-width="0.35" >100</text>
<line x1="296.22" y1="434.30" x2="296.22" y2="431.30" stroke="#111" stroke-width="1.2" />
<text x="296.22" y="445.20" font-size="8.5" text-anchor="middle" font-weight="bold" fill="#1a1a1a" stroke="#1a1a1a" stroke-width="0.35" >200</text>
<line x1="323.48" y1="434.30" x2="323.48" y2="431.30" stroke="#111" stroke-width="1.2" />
<text x="323.48" y="445.20" font-size="8.5" text-anchor="middle" font-weight="bold" fill="#1a1a1a" stroke="#1a1a1a" stroke-width="0.35" >300</text>
<line x1="350.74" y1="434.30" x2="350.74" y2="431.30" stroke="#111" stroke-width="1.2" />
<text x="350.74" y="445.20" font-size="8.5" text-anchor="middle" font-weight="bold" fill="#1a1a1a" stroke="#1a1a1a" stroke-width="0.35" >400</text>
<line x1="378.00" y1="434.30" x2="378.00" y2="431.30" stroke="#111" stroke-width="1.2" />
<text x="378.00" y="445.20" font-size="8.5" text-anchor="middle" font-weight="bold" fill="#1a1a1a" stroke="#1a1a1a" stroke-width="0.35" >500</text>
<line x1="241.70" y1="433.00" x2="378.00" y2="340.80" stroke="#d65a52" stroke-width="1.3" />
<line x1="268.96" y1="412.85" x2="268.96" y2="422.13" stroke="#111" stroke-width="1.0" />
<line x1="267.26" y1="412.85" x2="270.66" y2="412.85" stroke="#111" stroke-width="0.9" />
<line x1="267.26" y1="422.13" x2="270.66" y2="422.13" stroke="#111" stroke-width="0.9" />
<circle cx="268.96" cy="417.49" r="1.9" fill="#111"/>
<line x1="296.22" y1="391.99" x2="296.22" y2="405.90" stroke="#111" stroke-width="1.0" />
<line x1="294.52" y1="391.99" x2="297.92" y2="391.99" stroke="#111" stroke-width="0.9" />
<line x1="294.52" y1="405.90" x2="297.92" y2="405.90" stroke="#111" stroke-width="0.9" />
<circle cx="296.22" cy="398.94" r="1.9" fill="#111"/>
<line x1="323.48" y1="360.40" x2="323.48" y2="381.85" stroke="#111" stroke-width="1.0" />
<line x1="321.78" y1="360.40" x2="325.18" y2="360.40" stroke="#111" stroke-width="0.9" />
<line x1="321.78" y1="381.85" x2="325.18" y2="381.85" stroke="#111" stroke-width="0.9" />
<circle cx="323.48" cy="371.12" r="1.9" fill="#111"/>
<line x1="350.74" y1="350.26" x2="350.74" y2="376.92" stroke="#111" stroke-width="1.0" />
<line x1="349.04" y1="350.26" x2="352.44" y2="350.26" stroke="#111" stroke-width="0.9" />
<line x1="349.04" y1="376.92" x2="352.44" y2="376.92" stroke="#111" stroke-width="0.9" />
<circle cx="350.74" cy="363.59" r="1.9" fill="#111"/>
<line x1="378.00" y1="309.69" x2="378.00" y2="357.79" stroke="#111" stroke-width="1.0" />
<line x1="376.30" y1="309.69" x2="379.70" y2="309.69" stroke="#111" stroke-width="0.9" />
<line x1="376.30" y1="357.79" x2="379.70" y2="357.79" stroke="#111" stroke-width="0.9" />
<circle cx="378.00" cy="333.74" r="1.9" fill="#111"/>
<rect x="228.00" y="289.40" width="164.00" height="144.90" fill="none" stroke="#111" stroke-width="1.5" />
<path d="M323.50,392.00 L345.80,392.00 L345.80,378.60" stroke="#333" stroke-width="0.9" fill="none" stroke-linejoin="round" stroke-linecap="round" />
<text x="335.80" y="404.00" font-size="8.4" text-anchor="middle" font-weight="bold" fill="#1a1a1a" stroke="#1a1a1a" stroke-width="0.35" textLength="43.70" lengthAdjust="spacingAndGlyphs" >6.423 nm/s</text>
<text x="251.00" y="303.50" font-size="8.4" text-anchor="middle" font-weight="bold" fill="#1a1a1a" stroke="#1a1a1a" stroke-width="0.35" textLength="33.70" lengthAdjust="spacingAndGlyphs" >R² = 0.99</text>
<text x="310.00" y="457.80" font-size="9.3" text-anchor="middle" font-weight="bold" fill="#1a1a1a" stroke="#1a1a1a" stroke-width="0.35" textLength="89.60" lengthAdjust="spacingAndGlyphs" >Deposition time (s)</text>
<text x="215.20" y="362.00" font-size="9.6" text-anchor="middle" font-weight="bold" fill="#1a1a1a" stroke="#1a1a1a" stroke-width="0.35" textLength="75.00" lengthAdjust="spacingAndGlyphs" transform="rotate(-90 215.20 362.00)" >Δ Thickness (μm)</text>
<text x="397.70" y="283.70" font-size="13.2" text-anchor="start" font-weight="bold" fill="#111" stroke="#111" stroke-width="0.35" textLength="5.00" lengthAdjust="spacingAndGlyphs" >f</text>
<text x="427.00" y="437.10" font-size="7.5" text-anchor="end" font-weight="bold" fill="#1a1a1a" stroke="#1a1a1a" stroke-width="0.35" >0</text>
<line x1="430.20" y1="386.00" x2="433.20" y2="386.00" stroke="#111" stroke-width="1.2" />
<text x="427.00" y="388.80" font-size="7.5" text-anchor="end" font-weight="bold" fill="#1a1a1a" stroke="#1a1a1a" stroke-width="0.35" >50</text>
<line x1="430.20" y1="337.70" x2="433.20" y2="337.70" stroke="#111" stroke-width="1.2" />
<text x="427.00" y="340.50" font-size="7.5" text-anchor="end" font-weight="bold" fill="#1a1a1a" stroke="#1a1a1a" stroke-width="0.35" >100</text>
<text x="427.00" y="292.20" font-size="7.5" text-anchor="end" font-weight="bold" fill="#1a1a1a" stroke="#1a1a1a" stroke-width="0.35" >150</text>
<line x1="430.20" y1="410.15" x2="432.00" y2="410.15" stroke="#111" stroke-width="1" />
<line x1="430.20" y1="361.85" x2="432.00" y2="361.85" stroke="#111" stroke-width="1" />
<line x1="430.20" y1="313.55" x2="432.00" y2="313.55" stroke="#111" stroke-width="1" />
<rect x="444.20" y="337.31" width="28.00" height="96.99" fill="#fff" stroke="#111" stroke-width="1.1" />
<rect x="485.90" y="339.63" width="27.60" height="94.67" fill="#f3b9c6" stroke="#111" stroke-width="1.1" />
<line x1="458.20" y1="332.00" x2="458.20" y2="342.63" stroke="#111" stroke-width="1.0" />
<line x1="454.70" y1="332.00" x2="461.70" y2="332.00" stroke="#111" stroke-width="1.0" />
<line x1="454.70" y1="342.63" x2="461.70" y2="342.63" stroke="#111" stroke-width="1.0" />
<line x1="458.20" y1="434.30" x2="458.20" y2="431.30" stroke="#111" stroke-width="1.2" />
<line x1="499.70" y1="325.62" x2="499.70" y2="353.64" stroke="#111" stroke-width="1.0" />
<line x1="496.20" y1="325.62" x2="503.20" y2="325.62" stroke="#111" stroke-width="1.0" />
<line x1="496.20" y1="353.64" x2="503.20" y2="353.64" stroke="#111" stroke-width="1.0" />
<line x1="499.70" y1="434.30" x2="499.70" y2="431.30" stroke="#111" stroke-width="1.2" />
<line x1="456.00" y1="318.30" x2="501.80" y2="318.30" stroke="#111" stroke-width="1.0" />
<text x="478.10" y="315.60" font-size="7.8" text-anchor="middle" font-weight="bold" fill="#1a1a1a" stroke="#1a1a1a" stroke-width="0.35" font-style="italic" textLength="10.50" lengthAdjust="spacingAndGlyphs" >n.s</text>
<rect x="430.20" y="289.40" width="97.30" height="144.90" fill="none" stroke="#111" stroke-width="1.5" />
<text x="458.00" y="446.80" font-size="7.6" text-anchor="middle" font-weight="bold" fill="#1a1a1a" stroke="#1a1a1a" stroke-width="0.35" textLength="26.50" lengthAdjust="spacingAndGlyphs" >Control</text>
<text x="499.50" y="446.80" font-size="7.6" text-anchor="middle" font-weight="bold" fill="#1a1a1a" stroke="#1a1a1a" stroke-width="0.35" textLength="21.00" lengthAdjust="spacingAndGlyphs" >SMEA</text>
<text x="409.80" y="358.80" font-size="9.9" text-anchor="middle" font-weight="bold" fill="#1a1a1a" stroke="#1a1a1a" stroke-width="0.35" textLength="103.00" lengthAdjust="spacingAndGlyphs" transform="rotate(-90 409.80 358.80)" >Relative viability (%)</text>
<text x="532.40" y="283.70" font-size="13.2" text-anchor="start" font-weight="bold" fill="#111" stroke="#111" stroke-width="0.35" textLength="6.90" lengthAdjust="spacingAndGlyphs" >g</text>
<text x="564.50" y="436.80" font-size="7.5" text-anchor="end" font-weight="bold" fill="#1a1a1a" stroke="#1a1a1a" stroke-width="0.35" >0</text>
<line x1="567.70" y1="385.77" x2="570.70" y2="385.77" stroke="#111" stroke-width="1.2" />
<text x="564.50" y="388.57" font-size="7.5" text-anchor="end" font-weight="bold" fill="#1a1a1a" stroke="#1a1a1a" stroke-width="0.35" >50</text>
<line x1="567.70" y1="337.53" x2="570.70" y2="337.53" stroke="#111" stroke-width="1.2" />
<text x="564.50" y="340.33" font-size="7.5" text-anchor="end" font-weight="bold" fill="#1a1a1a" stroke="#1a1a1a" stroke-width="0.35" >100</text>
<text x="564.50" y="292.10" font-size="7.5" text-anchor="end" font-weight="bold" fill="#1a1a1a" stroke="#1a1a1a" stroke-width="0.35" >150</text>
<line x1="567.70" y1="409.88" x2="569.50" y2="409.88" stroke="#111" stroke-width="1" />
<line x1="567.70" y1="361.65" x2="569.50" y2="361.65" stroke="#111" stroke-width="1" />
<line x1="567.70" y1="313.42" x2="569.50" y2="313.42" stroke="#111" stroke-width="1" />
<rect x="581.50" y="426.60" width="28.10" height="7.40" fill="#fff" stroke="#111" stroke-width="1.1" />
<rect x="623.20" y="413.50" width="27.30" height="20.50" fill="#f3b9c6" stroke="#111" stroke-width="1.1" />
<line x1="595.70" y1="426.60" x2="595.70" y2="414.30" stroke="#111" stroke-width="1.0" />
<line x1="587.20" y1="414.30" x2="603.60" y2="414.30" stroke="#111" stroke-width="1.0" />
<line x1="636.60" y1="413.50" x2="636.60" y2="385.30" stroke="#111" stroke-width="1.0" />
<line x1="628.60" y1="385.30" x2="645.00" y2="385.30" stroke="#111" stroke-width="1.0" />
<circle cx="595.7" cy="385.2" r="1.7" fill="#111"/>
<circle cx="596" cy="402.3" r="1.7" fill="#111"/>
<circle cx="594.5" cy="419.7" r="1.7" fill="#111"/>
<circle cx="595" cy="427.9" r="1.7" fill="#111"/>
<circle cx="592" cy="431" r="1.7" fill="#111"/>
<circle cx="596" cy="431" r="1.7" fill="#111"/>
<circle cx="600" cy="432" r="1.7" fill="#111"/>
<circle cx="590" cy="432.5" r="1.7" fill="#111"/>
<circle cx="598" cy="428.5" r="1.7" fill="#111"/>
<circle cx="593" cy="426" r="1.7" fill="#111"/>
<circle cx="638.4" cy="339.8" r="1.7" fill="#111"/>
<circle cx="637.4" cy="372.2" r="1.7" fill="#111"/>
<circle cx="631.7" cy="379.4" r="1.7" fill="#111"/>
<circle cx="634.3" cy="388.6" r="1.7" fill="#111"/>
<circle cx="635.5" cy="390.2" r="1.7" fill="#111"/>
<circle cx="638.2" cy="405.3" r="1.7" fill="#111"/>
<circle cx="639" cy="413.5" r="1.7" fill="#111"/>
<circle cx="640.9" cy="420" r="1.7" fill="#111"/>
<circle cx="636" cy="430.6" r="1.7" fill="#111"/>
<circle cx="631.4" cy="432" r="1.7" fill="#111"/>
<circle cx="641.2" cy="433" r="1.7" fill="#111"/>
<circle cx="640" cy="432" r="1.7" fill="#111"/>
<circle cx="634" cy="433" r="1.7" fill="#111"/>
<line x1="592.60" y1="318.30" x2="639.40" y2="318.30" stroke="#111" stroke-width="1.0" />
<text x="615.50" y="315.60" font-size="7.8" text-anchor="middle" font-weight="bold" fill="#1a1a1a" stroke="#1a1a1a" stroke-width="0.35" font-style="italic" textLength="10.50" lengthAdjust="spacingAndGlyphs" >n.s</text>
<line x1="595.70" y1="434.00" x2="595.70" y2="431.00" stroke="#111" stroke-width="1.2" />
<line x1="636.60" y1="434.00" x2="636.60" y2="431.00" stroke="#111" stroke-width="1.2" />
<rect x="567.70" y="289.30" width="96.70" height="144.70" fill="none" stroke="#111" stroke-width="1.5" />
<text x="595.50" y="445.20" font-size="7.6" text-anchor="middle" font-weight="bold" fill="#1a1a1a" stroke="#1a1a1a" stroke-width="0.35" textLength="26.50" lengthAdjust="spacingAndGlyphs" >Control</text>
<text x="636.50" y="445.20" font-size="7.6" text-anchor="middle" font-weight="bold" fill="#1a1a1a" stroke="#1a1a1a" stroke-width="0.35" textLength="21.00" lengthAdjust="spacingAndGlyphs" >SMEA</text>
<text x="547.80" y="360.40" font-size="9.9" text-anchor="middle" font-weight="bold" fill="#1a1a1a" stroke="#1a1a1a" stroke-width="0.35" textLength="91.00" lengthAdjust="spacingAndGlyphs" transform="rotate(-90 547.80 360.40)" >SOX2/Hoechst (%)</text>
<text x="11.40" y="466.90" font-size="13.2" text-anchor="start" font-weight="bold" fill="#111" stroke="#111" stroke-width="0.35" textLength="7.70" lengthAdjust="spacingAndGlyphs" >h</text>
<line x1="40.00" y1="599.80" x2="43.00" y2="599.80" stroke="#111" stroke-width="1.2" />
<text x="37.50" y="602.80" font-size="8.5" text-anchor="end" font-weight="bold" fill="#1a1a1a" stroke="#1a1a1a" stroke-width="0.35" >100</text>
<line x1="40.00" y1="558.40" x2="43.00" y2="558.40" stroke="#111" stroke-width="1.2" />
<text x="37.50" y="561.40" font-size="8.5" text-anchor="end" font-weight="bold" fill="#1a1a1a" stroke="#1a1a1a" stroke-width="0.35" >200</text>
<line x1="40.00" y1="517.00" x2="43.00" y2="517.00" stroke="#111" stroke-width="1.2" />
<text x="37.50" y="520.00" font-size="8.5" text-anchor="end" font-weight="bold" fill="#1a1a1a" stroke="#1a1a1a" stroke-width="0.35" >300</text>
<text x="37.50" y="478.60" font-size="8.5" text-anchor="end" font-weight="bold" fill="#1a1a1a" stroke="#1a1a1a" stroke-width="0.35" >400</text>
<line x1="40.00" y1="579.10" x2="41.80" y2="579.10" stroke="#111" stroke-width="1" />
<line x1="40.00" y1="537.70" x2="41.80" y2="537.70" stroke="#111" stroke-width="1" />
<line x1="40.00" y1="496.30" x2="41.80" y2="496.30" stroke="#111" stroke-width="1" />
<rect x="42.50" y="599.80" width="26.00" height="20.70" fill="#ffffff" stroke="#4a3a3a" stroke-width="1.0" />
<line x1="55.50" y1="620.50" x2="55.50" y2="617.50" stroke="#111" stroke-width="1.2" />
<rect x="74.50" y="577.44" width="26.00" height="43.06" fill="#fcf0f0" stroke="#4a3a3a" stroke-width="1.0" />
<line x1="87.50" y1="620.50" x2="87.50" y2="617.50" stroke="#111" stroke-width="1.2" />
<rect x="106.40" y="530.66" width="25.60" height="89.84" fill="#f6d2d7" stroke="#4a3a3a" stroke-width="1.0" />
<line x1="119.20" y1="620.50" x2="119.20" y2="617.50" stroke="#111" stroke-width="1.2" />
<rect x="138.40" y="519.48" width="25.20" height="101.02" fill="#f3b9be" stroke="#4a3a3a" stroke-width="1.0" />
<line x1="151.00" y1="620.50" x2="151.00" y2="617.50" stroke="#111" stroke-width="1.2" />
<rect x="170.40" y="512.03" width="25.00" height="108.47" fill="#f0a6aa" stroke="#4a3a3a" stroke-width="1.0" />
<line x1="182.90" y1="620.50" x2="182.90" y2="617.50" stroke="#111" stroke-width="1.2" />
<rect x="202.00" y="506.24" width="25.40" height="114.26" fill="#ed9599" stroke="#4a3a3a" stroke-width="1.0" />
<line x1="214.70" y1="620.50" x2="214.70" y2="617.50" stroke="#111" stroke-width="1.2" />
<rect x="40.00" y="475.60" width="191.20" height="144.90" fill="none" stroke="#111" stroke-width="1.5" />
<text x="55.00" y="631.00" font-size="8.5" text-anchor="middle" font-weight="bold" fill="#1a1a1a" stroke="#1a1a1a" stroke-width="0.35" textLength="34.80" lengthAdjust="spacingAndGlyphs" >Standard</text>
<text x="87.50" y="631.00" font-size="8.5" text-anchor="middle" font-weight="bold" fill="#1a1a1a" stroke="#1a1a1a" stroke-width="0.35" textLength="19.00" lengthAdjust="spacingAndGlyphs" >1 μm</text>
<text x="119.60" y="631.00" font-size="8.5" text-anchor="middle" font-weight="bold" fill="#1a1a1a" stroke="#1a1a1a" stroke-width="0.35" textLength="19.00" lengthAdjust="spacingAndGlyphs" >2 μm</text>
<text x="151.80" y="631.00" font-size="8.5" text-anchor="middle" font-weight="bold" fill="#1a1a1a" stroke="#1a1a1a" stroke-width="0.35" textLength="19.00" lengthAdjust="spacingAndGlyphs" >3 μm</text>
<text x="183.00" y="631.00" font-size="8.5" text-anchor="middle" font-weight="bold" fill="#1a1a1a" stroke="#1a1a1a" stroke-width="0.35" textLength="19.00" lengthAdjust="spacingAndGlyphs" >4 μm</text>
<text x="214.30" y="631.00" font-size="8.5" text-anchor="middle" font-weight="bold" fill="#1a1a1a" stroke="#1a1a1a" stroke-width="0.35" textLength="19.00" lengthAdjust="spacingAndGlyphs" >5 μm</text>
<text x="135.00" y="645.00" font-size="10" text-anchor="middle" font-weight="bold" fill="#1a1a1a" stroke="#1a1a1a" stroke-width="0.35" textLength="98.00" lengthAdjust="spacingAndGlyphs" >Protruding thickness</text>
<text x="16.20" y="548.20" font-size="9.6" text-anchor="middle" font-weight="bold" fill="#1a1a1a" stroke="#1a1a1a" stroke-width="0.35" textLength="126.00" lengthAdjust="spacingAndGlyphs" transform="rotate(-90 16.20 548.20)" >Relative contact pressure (%)</text>
<text x="250.50" y="469.30" font-size="13.2" text-anchor="start" font-weight="bold" fill="#111" stroke="#111" stroke-width="0.35" textLength="3.60" lengthAdjust="spacingAndGlyphs" >i</text>
<text x="259.80" y="478.30" font-size="8.8" text-anchor="start" font-weight="bold" fill="#1a1a1a" stroke="#1a1a1a" stroke-width="0.35" textLength="8.60" lengthAdjust="spacingAndGlyphs" >(i)</text>
<text x="259.80" y="524.60" font-size="8.8" text-anchor="start" font-weight="bold" fill="#1a1a1a" stroke="#1a1a1a" stroke-width="0.35" textLength="11.00" lengthAdjust="spacingAndGlyphs" >(ii)</text>
<text x="259.80" y="570.90" font-size="8.8" text-anchor="start" font-weight="bold" fill="#1a1a1a" stroke="#1a1a1a" stroke-width="0.35" textLength="14.00" lengthAdjust="spacingAndGlyphs" >(iii)</text>
<path d="M330.00,480.00 L336.00,474.00 L339.00,467.00 L342.00,476.00 L345.00,490.00 L348.00,486.00 L356.00,483.00" stroke="#c4c4c4" stroke-width="1.4" fill="none" stroke-linejoin="round" stroke-linecap="round" />
<path d="M334.00,478.00 L338.00,470.00 L341.00,482.00 L344.00,488.00 L350.00,484.00" stroke="#c4c4c4" stroke-width="1.4" fill="none" stroke-linejoin="round" stroke-linecap="round" />
<path d="M333.00,536.00 L337.00,522.00 L339.00,517.00 L342.00,533.00 L345.00,545.00 L350.00,550.00 L356.00,548.00 L362.00,541.00 L370.00,537.00" stroke="#c4c4c4" stroke-width="1.4" fill="none" stroke-linejoin="round" stroke-linecap="round" />
<path d="M336.00,530.00 L340.00,523.00 L343.00,538.00 L347.00,548.00 L352.00,546.00 L358.00,541.00 L366.00,536.00" stroke="#c4c4c4" stroke-width="1.4" fill="none" stroke-linejoin="round" stroke-linecap="round" />
<path d="M345.00,538.00 L350.00,545.00 L356.00,542.00 L364.00,537.00" stroke="#c4c4c4" stroke-width="1.4" fill="none" stroke-linejoin="round" stroke-linecap="round" />
<path d="M356.00,540.00 L376.00,541.00 L390.00,543.00 L400.00,541.00" stroke="#c4c4c4" stroke-width="1.4" fill="none" stroke-linejoin="round" stroke-linecap="round" />
<path d="M322.00,589.00 L328.00,588.00 L334.00,584.00 L338.00,580.00 L342.00,572.00" stroke="#c4c4c4" stroke-width="1.4" fill="none" stroke-linejoin="round" stroke-linecap="round" />
<path d="M350.00,590.00 L353.00,580.00 L356.00,575.00 L360.00,583.00" stroke="#c4c4c4" stroke-width="1.4" fill="none" stroke-linejoin="round" stroke-linecap="round" />
<path d="M366.00,585.00 L380.00,590.00 L395.00,593.00 L410.00,590.00" stroke="#c4c4c4" stroke-width="1.4" fill="none" stroke-linejoin="round" stroke-linecap="round" />
<path d="M265.70,495.48 L266.20,495.50 L266.70,495.52 L267.20,495.54 L267.70,495.56 L268.20,495.58 L268.70,495.60 L269.20,495.61 L269.70,495.63 L270.20,495.64 L270.70,495.66 L271.20,495.68 L271.70,495.69 L272.20,495.70 L272.70,495.72 L273.20,495.73 L273.70,495.74 L274.20,495.76 L274.70,495.77 L275.20,495.78 L275.70,495.79 L276.20,495.80 L276.70,495.81 L277.20,495.82 L277.70,495.83 L278.20,495.84 L278.70,495.85 L279.20,495.85 L279.70,495.86 L280.20,495.87 L280.70,495.88 L281.20,495.88 L281.70,495.89 L282.20,495.90 L282.70,495.90 L283.20,495.91 L283.70,495.91 L284.20,495.92 L284.70,495.92 L285.20,495.93 L285.70,495.93 L286.20,495.93 L286.70,495.94 L287.20,495.94 L287.70,495.94 L288.20,495.95 L288.70,495.95 L289.20,495.95 L289.70,495.95 L290.20,495.96 L290.70,495.96 L291.20,495.96 L291.70,495.96 L292.20,495.96 L292.70,495.96 L293.20,495.97 L293.70,495.97 L294.20,495.97 L294.70,495.97 L295.20,495.97 L295.70,495.97 L296.20,495.97 L296.70,495.97 L297.20,495.97 L297.70,495.97 L298.20,495.97 L298.70,495.97 L299.20,495.97 L299.70,495.97 L300.20,495.97 L300.70,495.97 L301.20,495.97 L301.70,495.92 L302.20,495.79 L302.70,495.60 L303.20,495.37 L303.70,495.09 L304.20,494.77 L304.70,494.43 L305.20,494.07 L305.70,493.71 L306.20,493.35 L306.70,492.99 L307.20,492.66 L307.70,492.36 L308.20,492.09 L308.70,491.84 L309.20,491.59 L309.70,491.35 L310.20,491.10 L310.70,490.83 L311.20,490.55 L311.70,490.26 L312.20,489.97 L312.70,489.66 L313.20,489.34 L313.70,489.01 L314.20,488.65 L314.70,488.26 L315.20,487.84 L315.70,487.36 L316.20,486.83 L316.70,486.28 L317.20,485.71 L317.70,485.14 L318.20,484.57 L318.70,483.91 L319.20,483.18 L319.70,482.43 L320.20,481.74 L320.70,481.17 L321.20,480.78 L321.70,480.64 L322.20,480.71 L322.70,480.90 L323.20,481.15 L323.70,481.41 L324.20,481.64 L324.70,481.79 L325.20,481.79 L325.70,481.52 L326.20,481.03 L326.70,480.42 L327.20,479.76 L327.70,479.16 L328.20,478.69 L328.70,478.45 L329.20,478.31 L329.70,478.19 L330.20,478.09 L330.70,478.03 L331.20,477.99 L331.70,477.97 L332.20,477.96 L332.70,477.95 L333.20,477.94 L333.70,477.92 L334.20,477.89 L334.70,477.84 L335.20,477.71 L335.70,477.53 L336.20,477.29 L336.70,476.74 L337.20,475.97 L337.70,475.15 L338.20,474.45 L338.70,474.05 L339.20,474.08 L339.70,474.45 L340.20,475.07 L340.70,475.87 L341.20,476.76 L341.70,477.66 L342.20,478.48 L342.70,479.28 L343.20,480.20 L343.70,481.15 L344.20,481.99 L344.70,482.61 L345.20,482.91 L345.70,483.12 L346.20,483.31 L346.70,483.48 L347.20,483.62 L347.70,483.73 L348.20,483.80 L348.70,483.84 L349.20,483.85 L349.70,483.84 L350.20,483.82 L350.70,483.79 L351.20,483.76 L351.70,483.71 L352.20,483.67 L352.70,483.62 L353.20,483.57 L353.70,483.52 L354.20,483.47 L354.70,483.43 L355.20,483.39 L355.70,483.34 L356.20,483.29 L356.70,483.24 L357.20,483.18 L357.70,483.12 L358.20,483.07 L358.70,483.01 L359.20,482.96 L359.70,482.92 L360.20,482.88 L360.70,482.84 L361.20,482.82 L361.70,482.81 L362.20,482.80 L362.70,482.81 L363.20,482.81 L363.70,482.82 L364.20,482.82 L364.70,482.83 L365.20,482.84 L365.70,482.86 L366.20,482.87 L366.70,482.89 L367.20,482.91 L367.70,482.93 L368.20,482.95 L368.70,482.97 L369.20,483.00 L369.70,483.02 L370.20,483.05 L370.70,483.13 L371.20,483.25 L371.70,483.42 L372.20,483.64 L372.70,483.89 L373.20,484.17 L373.70,484.48 L374.20,484.82 L374.70,485.18 L375.20,485.55 L375.70,485.94 L376.20,486.34 L376.70,486.74 L377.20,487.14 L377.70,487.53 L378.20,487.92 L378.70,488.30 L379.20,488.66 L379.70,488.99 L380.20,489.31 L380.70,489.63 L381.20,489.96 L381.70,490.29 L382.20,490.62 L382.70,490.96 L383.20,491.31 L383.70,491.65 L384.20,491.99 L384.70,492.33 L385.20,492.67 L385.70,493.00 L386.20,493.33 L386.70,493.65 L387.20,493.96 L387.70,494.26 L388.20,494.55 L388.70,494.82 L389.20,495.09 L389.70,495.33 L390.20,495.57 L390.70,495.78 L391.20,496.00 L391.70,496.20 L392.20,496.39 L392.70,496.58 L393.20,496.76 L393.70,496.94 L394.20,497.11 L394.70,497.28 L395.20,497.45 L395.70,497.62 L396.20,497.78 L396.70,497.95 L397.20,498.12 L397.70,498.30 L398.20,498.48 L398.70,498.67 L399.20,498.88 L399.70,499.11 L400.20,499.33 L400.70,499.56 L401.20,499.79 L401.70,500.00 L402.20,500.20 L402.70,500.38 L403.20,500.54 L403.70,500.66 L404.20,500.75 L404.70,500.80 L405.20,500.81 L405.70,500.79 L406.20,500.76 L406.70,500.71 L407.20,500.65 L407.70,500.57 L408.20,500.48 L408.70,500.39 L409.20,500.28 L409.70,500.18 L410.20,500.06 L410.70,499.95 L411.20,499.83 L411.70,499.71 L412.20,499.60 L412.70,499.47 L413.20,499.32 L413.70,499.16 L414.20,498.98 L414.70,498.80 L415.20,498.61 L415.70,498.41 L416.20,498.20 L416.70,498.00 L417.20,497.80 L417.70,497.60 L418.20,497.40 L418.70,497.22 L419.20,497.04 L419.70,496.87 L420.20,496.72 L420.70,496.58 L421.20,496.43 L421.70,496.29 L422.20,496.15 L422.70,496.01 L423.20,495.88 L423.70,495.75 L424.20,495.62 L424.70,495.49 L425.20,495.37 L425.70,495.25 L426.20,495.14 L426.70,495.02 L427.20,494.92 L427.70,494.81 L428.00,494.75" stroke="#cfcfcf" stroke-width="1.0" fill="none" stroke-linejoin="round" stroke-linecap="round" />
<path d="M265.70,496.48 L266.20,496.48 L266.70,496.48 L267.20,496.48 L267.70,496.48 L268.20,496.48 L268.70,496.48 L269.20,496.48 L269.70,496.48 L270.20,496.48 L270.70,496.48 L271.20,496.48 L271.70,496.47 L272.20,496.47 L272.70,496.47 L273.20,496.47 L273.70,496.46 L274.20,496.46 L274.70,496.46 L275.20,496.45 L275.70,496.45 L276.20,496.45 L276.70,496.44 L277.20,496.44 L277.70,496.43 L278.20,496.43 L278.70,496.42 L279.20,496.42 L279.70,496.41 L280.20,496.41 L280.70,496.40 L281.20,496.39 L281.70,496.39 L282.20,496.38 L282.70,496.37 L283.20,496.36 L283.70,496.36 L284.20,496.35 L284.70,496.34 L285.20,496.33 L285.70,496.32 L286.20,496.31 L286.70,496.30 L287.20,496.29 L287.70,496.28 L288.20,496.27 L288.70,496.26 L289.20,496.25 L289.70,496.24 L290.20,496.22 L290.70,496.21 L291.20,496.20 L291.70,496.18 L292.20,496.17 L292.70,496.16 L293.20,496.14 L293.70,496.13 L294.20,496.11 L294.70,496.10 L295.20,496.08 L295.70,496.06 L296.20,496.05 L296.70,496.03 L297.20,496.01 L297.70,495.99 L298.20,495.97 L298.70,495.95 L299.20,495.93 L299.70,495.91 L300.20,495.89 L300.70,495.87 L301.20,495.85 L301.70,495.79 L302.20,495.69 L302.70,495.53 L303.20,495.35 L303.70,495.13 L304.20,494.88 L304.70,494.62 L305.20,494.34 L305.70,494.05 L306.20,493.75 L306.70,493.46 L307.20,493.18 L307.70,492.90 L308.20,492.65 L308.70,492.40 L309.20,492.13 L309.70,491.87 L310.20,491.58 L310.70,491.29 L311.20,490.98 L311.70,490.64 L312.20,490.28 L312.70,489.90 L313.20,489.52 L313.70,489.13 L314.20,488.75 L314.70,488.38 L315.20,488.04 L315.70,487.72 L316.20,487.42 L316.70,487.11 L317.20,486.78 L317.70,486.42 L318.20,485.99 L318.70,485.38 L319.20,484.64 L319.70,483.85 L320.20,483.08 L320.70,482.43 L321.20,481.97 L321.70,481.78 L322.20,481.77 L322.70,481.75 L323.20,481.75 L323.70,481.74 L324.20,481.73 L324.70,481.72 L325.20,481.67 L325.70,481.42 L326.20,480.99 L326.70,480.46 L327.20,479.91 L327.70,479.44 L328.20,479.12 L328.70,479.04 L329.20,479.20 L329.70,479.50 L330.20,479.83 L330.70,480.06 L331.20,480.09 L331.70,479.90 L332.20,479.54 L332.70,479.08 L333.20,478.57 L333.70,478.06 L334.20,477.61 L334.70,477.26 L335.20,476.92 L335.70,476.56 L336.20,476.07 L336.70,475.26 L337.20,474.27 L337.70,473.26 L338.20,472.43 L338.70,471.96 L339.20,471.99 L339.70,472.46 L340.20,473.25 L340.70,474.26 L341.20,475.40 L341.70,476.56 L342.20,477.65 L342.70,478.75 L343.20,480.09 L343.70,481.47 L344.20,482.69 L344.70,483.55 L345.20,483.88 L345.70,484.08 L346.20,484.25 L346.70,484.40 L347.20,484.51 L347.70,484.61 L348.20,484.67 L348.70,484.70 L349.20,484.71 L349.70,484.68 L350.20,484.62 L350.70,484.54 L351.20,484.44 L351.70,484.32 L352.20,484.19 L352.70,484.05 L353.20,483.90 L353.70,483.75 L354.20,483.60 L354.70,483.46 L355.20,483.32 L355.70,483.17 L356.20,482.99 L356.70,482.79 L357.20,482.58 L357.70,482.36 L358.20,482.14 L358.70,481.93 L359.20,481.73 L359.70,481.55 L360.20,481.39 L360.70,481.26 L361.20,481.16 L361.70,481.11 L362.20,481.10 L362.70,481.13 L363.20,481.17 L363.70,481.23 L364.20,481.31 L364.70,481.41 L365.20,481.52 L365.70,481.65 L366.20,481.78 L366.70,481.93 L367.20,482.08 L367.70,482.24 L368.20,482.41 L368.70,482.58 L369.20,482.74 L369.70,482.91 L370.20,483.08 L370.70,483.26 L371.20,483.47 L371.70,483.69 L372.20,483.92 L372.70,484.17 L373.20,484.44 L373.70,484.72 L374.20,485.00 L374.70,485.30 L375.20,485.61 L375.70,485.92 L376.20,486.23 L376.70,486.55 L377.20,486.87 L377.70,487.19 L378.20,487.51 L378.70,487.82 L379.20,488.13 L379.70,488.44 L380.20,488.74 L380.70,489.04 L381.20,489.35 L381.70,489.66 L382.20,489.98 L382.70,490.30 L383.20,490.63 L383.70,490.96 L384.20,491.28 L384.70,491.61 L385.20,491.94 L385.70,492.27 L386.20,492.60 L386.70,492.92 L387.20,493.24 L387.70,493.56 L388.20,493.88 L388.70,494.19 L389.20,494.49 L389.70,494.79 L390.20,495.08 L390.70,495.38 L391.20,495.68 L391.70,495.99 L392.20,496.30 L392.70,496.61 L393.20,496.92 L393.70,497.23 L394.20,497.52 L394.70,497.81 L395.20,498.08 L395.70,498.33 L396.20,498.57 L396.70,498.79 L397.20,498.98 L397.70,499.15 L398.20,499.29 L398.70,499.43 L399.20,499.56 L399.70,499.69 L400.20,499.82 L400.70,499.94 L401.20,500.06 L401.70,500.17 L402.20,500.26 L402.70,500.34 L403.20,500.42 L403.70,500.47 L404.20,500.51 L404.70,500.53 L405.20,500.53 L405.70,500.53 L406.20,500.52 L406.70,500.51 L407.20,500.49 L407.70,500.47 L408.20,500.44 L408.70,500.41 L409.20,500.38 L409.70,500.34 L410.20,500.30 L410.70,500.26 L411.20,500.22 L411.70,500.17 L412.20,500.12 L412.70,500.04 L413.20,499.93 L413.70,499.79 L414.20,499.62 L414.70,499.43 L415.20,499.23 L415.70,499.02 L416.20,498.80 L416.70,498.57 L417.20,498.36 L417.70,498.14 L418.20,497.94 L418.70,497.76 L419.20,497.60 L419.70,497.46 L420.20,497.35 L420.70,497.25 L421.20,497.14 L421.70,497.05 L422.20,496.95 L422.70,496.86 L423.20,496.77 L423.70,496.68 L424.20,496.60 L424.70,496.53 L425.20,496.46 L425.70,496.39 L426.20,496.33 L426.70,496.28 L427.20,496.24 L427.70,496.20 L428.00,496.19" stroke="#cfcfcf" stroke-width="1.0" fill="none" stroke-linejoin="round" stroke-linecap="round" />
<path d="M265.70,539.87 L266.20,539.89 L266.70,539.92 L267.20,539.94 L267.70,539.97 L268.20,539.99 L268.70,540.01 L269.20,540.03 L269.70,540.05 L270.20,540.07 L270.70,540.10 L271.20,540.12 L271.70,540.14 L272.20,540.15 L272.70,540.17 L273.20,540.19 L273.70,540.21 L274.20,540.23 L274.70,540.25 L275.20,540.26 L275.70,540.28 L276.20,540.30 L276.70,540.31 L277.20,540.33 L277.70,540.34 L278.20,540.36 L278.70,540.37 L279.20,540.39 L279.70,540.40 L280.20,540.41 L280.70,540.43 L281.20,540.44 L281.70,540.45 L282.20,540.46 L282.70,540.48 L283.20,540.49 L283.70,540.50 L284.20,540.51 L284.70,540.52 L285.20,540.53 L285.70,540.54 L286.20,540.55 L286.70,540.56 L287.20,540.57 L287.70,540.58 L288.20,540.59 L288.70,540.60 L289.20,540.60 L289.70,540.61 L290.20,540.62 L290.70,540.63 L291.20,540.63 L291.70,540.64 L292.20,540.65 L292.70,540.65 L293.20,540.66 L293.70,540.67 L294.20,540.67 L294.70,540.68 L295.20,540.68 L295.70,540.69 L296.20,540.69 L296.70,540.70 L297.20,540.70 L297.70,540.71 L298.20,540.71 L298.70,540.72 L299.20,540.72 L299.70,540.72 L300.20,540.73 L300.70,540.73 L301.20,540.73 L301.70,540.74 L302.20,540.74 L302.70,540.74 L303.20,540.74 L303.70,540.75 L304.20,540.75 L304.70,540.75 L305.20,540.75 L305.70,540.75 L306.20,540.76 L306.70,540.76 L307.20,540.76 L307.70,540.76 L308.20,540.76 L308.70,540.76 L309.20,540.76 L309.70,540.77 L310.20,540.77 L310.70,540.77 L311.20,540.77 L311.70,540.77 L312.20,540.77 L312.70,540.77 L313.20,540.77 L313.70,540.77 L314.20,540.77 L314.70,540.77 L315.20,540.77 L315.70,540.77 L316.20,540.77 L316.70,540.77 L317.20,540.77 L317.70,540.77 L318.20,540.77 L318.70,540.77 L319.20,540.77 L319.70,540.77 L320.20,540.77 L320.70,540.77 L321.20,540.76 L321.70,540.74 L322.20,540.70 L322.70,540.64 L323.20,540.57 L323.70,540.49 L324.20,540.40 L324.70,540.30 L325.20,540.18 L325.70,540.05 L326.20,539.91 L326.70,539.76 L327.20,539.60 L327.70,539.44 L328.20,539.26 L328.70,539.07 L329.20,538.79 L329.70,538.37 L330.20,537.86 L330.70,537.27 L331.20,536.62 L331.70,535.95 L332.20,535.26 L332.70,534.60 L333.20,533.97 L333.70,533.34 L334.20,532.71 L334.70,532.05 L335.20,531.38 L335.70,530.69 L336.20,529.97 L336.70,529.22 L337.20,528.25 L337.70,527.16 L338.20,526.21 L338.70,525.65 L339.20,525.95 L339.70,527.63 L340.20,529.68 L340.70,531.11 L341.20,532.36 L341.70,533.08 L342.20,532.12 L342.70,530.74 L343.20,531.24 L343.70,532.50 L344.20,534.12 L344.70,535.75 L345.20,537.54 L345.70,539.62 L346.20,541.98 L346.70,544.89 L347.20,548.86 L347.70,552.40 L348.20,554.09 L348.70,555.14 L349.20,555.90 L349.70,556.24 L350.20,555.96 L350.70,554.95 L351.20,553.50 L351.70,551.91 L352.20,550.49 L352.70,549.55 L353.20,548.94 L353.70,548.41 L354.20,547.81 L354.70,547.16 L355.20,546.48 L355.70,545.78 L356.20,545.06 L356.70,544.32 L357.20,543.55 L357.70,542.64 L358.20,541.60 L358.70,540.49 L359.20,539.38 L359.70,538.30 L360.20,537.32 L360.70,536.50 L361.20,535.88 L361.70,535.53 L362.20,535.47 L362.70,535.48 L363.20,535.51 L363.70,535.54 L364.20,535.59 L364.70,535.65 L365.20,535.71 L365.70,535.77 L366.20,535.84 L366.70,535.91 L367.20,535.98 L367.70,536.04 L368.20,536.11 L368.70,536.17 L369.20,536.24 L369.70,536.32 L370.20,536.39 L370.70,536.47 L371.20,536.55 L371.70,536.64 L372.20,536.72 L372.70,536.80 L373.20,536.88 L373.70,536.96 L374.20,537.04 L374.70,537.11 L375.20,537.18 L375.70,537.26 L376.20,537.33 L376.70,537.41 L377.20,537.49 L377.70,537.57 L378.20,537.65 L378.70,537.74 L379.20,537.82 L379.70,537.91 L380.20,537.99 L380.70,538.07 L381.20,538.16 L381.70,538.24 L382.20,538.31 L382.70,538.39 L383.20,538.47 L383.70,538.54 L384.20,538.61 L384.70,538.67 L385.20,538.73 L385.70,538.79 L386.20,538.84 L386.70,538.89 L387.20,538.93 L387.70,538.96 L388.20,538.99 L388.70,539.02 L389.20,539.03 L389.70,539.04 L390.20,539.04 L390.70,539.04 L391.20,539.03 L391.70,539.03 L392.20,539.02 L392.70,539.00 L393.20,538.99 L393.70,538.97 L394.20,538.95 L394.70,538.93 L395.20,538.91 L395.70,538.89 L396.20,538.87 L396.70,538.84 L397.20,538.82 L397.70,538.79 L398.20,538.77 L398.70,538.74 L399.20,538.71 L399.70,538.69 L400.20,538.66 L400.70,538.63 L401.20,538.60 L401.70,538.57 L402.20,538.53 L402.70,538.50 L403.20,538.46 L403.70,538.42 L404.20,538.38 L404.70,538.33 L405.20,538.28 L405.70,538.24 L406.20,538.18 L406.70,538.13 L407.20,538.08 L407.70,538.02 L408.20,537.96 L408.70,537.90 L409.20,537.84 L409.70,537.77 L410.20,537.70 L410.70,537.62 L411.20,537.54 L411.70,537.44 L412.20,537.33 L412.70,537.22 L413.20,537.10 L413.70,536.98 L414.20,536.85 L414.70,536.72 L415.20,536.59 L415.70,536.46 L416.20,536.33 L416.70,536.21 L417.20,536.08 L417.70,535.97 L418.20,535.85 L418.70,535.74 L419.20,535.63 L419.70,535.51 L420.20,535.40 L420.70,535.29 L421.20,535.18 L421.70,535.06 L422.20,534.95 L422.70,534.84 L423.20,534.73 L423.70,534.62 L424.20,534.51 L424.70,534.40 L425.20,534.29 L425.70,534.18 L426.20,534.07 L426.70,533.96 L427.20,533.85 L427.70,533.74 L428.00,533.67" stroke="#cfcfcf" stroke-width="1.0" fill="none" stroke-linejoin="round" stroke-linecap="round" />
<path d="M265.70,539.48 L266.20,539.44 L266.70,539.40 L267.20,539.36 L267.70,539.32 L268.20,539.28 L268.70,539.24 L269.20,539.21 L269.70,539.17 L270.20,539.13 L270.70,539.10 L271.20,539.06 L271.70,539.03 L272.20,539.00 L272.70,538.96 L273.20,538.93 L273.70,538.90 L274.20,538.87 L274.70,538.84 L275.20,538.81 L275.70,538.78 L276.20,538.75 L276.70,538.73 L277.20,538.70 L277.70,538.67 L278.20,538.65 L278.70,538.62 L279.20,538.60 L279.70,538.58 L280.20,538.55 L280.70,538.53 L281.20,538.51 L281.70,538.49 L282.20,538.46 L282.70,538.44 L283.20,538.42 L283.70,538.40 L284.20,538.39 L284.70,538.37 L285.20,538.35 L285.70,538.33 L286.20,538.32 L286.70,538.30 L287.20,538.28 L287.70,538.27 L288.20,538.25 L288.70,538.24 L289.20,538.22 L289.70,538.21 L290.20,538.20 L290.70,538.18 L291.20,538.17 L291.70,538.16 L292.20,538.15 L292.70,538.14 L293.20,538.13 L293.70,538.12 L294.20,538.11 L294.70,538.10 L295.20,538.09 L295.70,538.08 L296.20,538.07 L296.70,538.06 L297.20,538.05 L297.70,538.05 L298.20,538.04 L298.70,538.03 L299.20,538.03 L299.70,538.02 L300.20,538.01 L300.70,538.01 L301.20,538.00 L301.70,538.00 L302.20,537.99 L302.70,537.99 L303.20,537.98 L303.70,537.98 L304.20,537.98 L304.70,537.97 L305.20,537.97 L305.70,537.97 L306.20,537.96 L306.70,537.96 L307.20,537.96 L307.70,537.95 L308.20,537.95 L308.70,537.95 L309.20,537.95 L309.70,537.95 L310.20,537.95 L310.70,537.94 L311.20,537.94 L311.70,537.94 L312.20,537.94 L312.70,537.94 L313.20,537.94 L313.70,537.94 L314.20,537.94 L314.70,537.94 L315.20,537.94 L315.70,537.94 L316.20,537.94 L316.70,537.94 L317.20,537.94 L317.70,537.94 L318.20,537.93 L318.70,537.93 L319.20,537.93 L319.70,537.93 L320.20,537.93 L320.70,537.94 L321.20,537.96 L321.70,538.00 L322.20,538.07 L322.70,538.16 L323.20,538.26 L323.70,538.38 L324.20,538.50 L324.70,538.62 L325.20,538.74 L325.70,538.86 L326.20,538.97 L326.70,539.07 L327.20,539.15 L327.70,539.21 L328.20,539.25 L328.70,539.25 L329.20,539.11 L329.70,538.80 L330.20,538.36 L330.70,537.80 L331.20,537.16 L331.70,536.48 L332.20,535.78 L332.70,535.10 L333.20,534.47 L333.70,533.82 L334.20,533.12 L334.70,532.39 L335.20,531.63 L335.70,530.85 L336.20,530.07 L336.70,529.28 L337.20,528.29 L337.70,527.20 L338.20,526.25 L338.70,525.70 L339.20,525.86 L339.70,526.94 L340.20,528.48 L340.70,530.16 L341.20,532.63 L341.70,534.33 L342.20,532.37 L342.70,529.53 L343.20,530.14 L343.70,531.65 L344.20,533.56 L344.70,535.37 L345.20,537.17 L345.70,539.15 L346.20,541.35 L346.70,544.01 L347.20,547.46 L347.70,550.67 L348.20,552.65 L348.70,554.20 L349.20,555.39 L349.70,555.97 L350.20,555.81 L350.70,555.13 L351.20,554.11 L351.70,552.90 L352.20,551.65 L352.70,550.50 L353.20,549.29 L353.70,548.03 L354.20,546.89 L354.70,545.79 L355.20,544.72 L355.70,543.69 L356.20,542.73 L356.70,541.85 L357.20,541.06 L357.70,540.25 L358.20,539.43 L358.70,538.61 L359.20,537.83 L359.70,537.11 L360.20,536.48 L360.70,535.96 L361.20,535.58 L361.70,535.36 L362.20,535.33 L362.70,535.35 L363.20,535.39 L363.70,535.45 L364.20,535.52 L364.70,535.61 L365.20,535.70 L365.70,535.79 L366.20,535.89 L366.70,535.98 L367.20,536.07 L367.70,536.15 L368.20,536.21 L368.70,536.27 L369.20,536.33 L369.70,536.39 L370.20,536.44 L370.70,536.50 L371.20,536.55 L371.70,536.60 L372.20,536.65 L372.70,536.71 L373.20,536.77 L373.70,536.83 L374.20,536.89 L374.70,536.96 L375.20,537.03 L375.70,537.12 L376.20,537.21 L376.70,537.32 L377.20,537.43 L377.70,537.55 L378.20,537.68 L378.70,537.82 L379.20,537.96 L379.70,538.10 L380.20,538.25 L380.70,538.40 L381.20,538.55 L381.70,538.70 L382.20,538.85 L382.70,539.00 L383.20,539.15 L383.70,539.29 L384.20,539.43 L384.70,539.56 L385.20,539.68 L385.70,539.80 L386.20,539.91 L386.70,540.00 L387.20,540.09 L387.70,540.17 L388.20,540.23 L388.70,540.28 L389.20,540.31 L389.70,540.33 L390.20,540.33 L390.70,540.33 L391.20,540.32 L391.70,540.31 L392.20,540.29 L392.70,540.27 L393.20,540.24 L393.70,540.21 L394.20,540.18 L394.70,540.14 L395.20,540.11 L395.70,540.06 L396.20,540.02 L396.70,539.98 L397.20,539.93 L397.70,539.88 L398.20,539.83 L398.70,539.77 L399.20,539.72 L399.70,539.67 L400.20,539.61 L400.70,539.54 L401.20,539.46 L401.70,539.37 L402.20,539.27 L402.70,539.15 L403.20,539.03 L403.70,538.90 L404.20,538.76 L404.70,538.62 L405.20,538.48 L405.70,538.33 L406.20,538.18 L406.70,538.03 L407.20,537.88 L407.70,537.73 L408.20,537.59 L408.70,537.44 L409.20,537.31 L409.70,537.18 L410.20,537.06 L410.70,536.93 L411.20,536.80 L411.70,536.67 L412.20,536.53 L412.70,536.40 L413.20,536.26 L413.70,536.13 L414.20,536.00 L414.70,535.87 L415.20,535.75 L415.70,535.64 L416.20,535.53 L416.70,535.44 L417.20,535.35 L417.70,535.28 L418.20,535.21 L418.70,535.15 L419.20,535.09 L419.70,535.03 L420.20,534.97 L420.70,534.92 L421.20,534.86 L421.70,534.81 L422.20,534.76 L422.70,534.71 L423.20,534.66 L423.70,534.62 L424.20,534.58 L424.70,534.55 L425.20,534.52 L425.70,534.49 L426.20,534.47 L426.70,534.45 L427.20,534.44 L427.70,534.43 L428.00,534.43" stroke="#cfcfcf" stroke-width="1.0" fill="none" stroke-linejoin="round" stroke-linecap="round" />
<path d="M265.70,589.03 L266.20,589.03 L266.70,589.03 L267.20,589.03 L267.70,589.04 L268.20,589.04 L268.70,589.04 L269.20,589.04 L269.70,589.04 L270.20,589.04 L270.70,589.04 L271.20,589.05 L271.70,589.05 L272.20,589.05 L272.70,589.05 L273.20,589.05 L273.70,589.05 L274.20,589.05 L274.70,589.05 L275.20,589.05 L275.70,589.06 L276.20,589.06 L276.70,589.06 L277.20,589.06 L277.70,589.06 L278.20,589.06 L278.70,589.06 L279.20,589.06 L279.70,589.06 L280.20,589.06 L280.70,589.06 L281.20,589.07 L281.70,589.07 L282.20,589.07 L282.70,589.07 L283.20,589.07 L283.70,589.07 L284.20,589.07 L284.70,589.07 L285.20,589.07 L285.70,589.07 L286.20,589.07 L286.70,589.07 L287.20,589.07 L287.70,589.07 L288.20,589.07 L288.70,589.08 L289.20,589.08 L289.70,589.08 L290.20,589.08 L290.70,589.08 L291.20,589.08 L291.70,589.08 L292.20,589.08 L292.70,589.08 L293.20,589.08 L293.70,589.08 L294.20,589.08 L294.70,589.08 L295.20,589.08 L295.70,589.08 L296.20,589.08 L296.70,589.08 L297.20,589.08 L297.70,589.08 L298.20,589.08 L298.70,589.08 L299.20,589.08 L299.70,589.08 L300.20,589.08 L300.70,589.08 L301.20,589.08 L301.70,589.08 L302.20,589.08 L302.70,589.08 L303.20,589.08 L303.70,589.09 L304.20,589.09 L304.70,589.09 L305.20,589.09 L305.70,589.09 L306.20,589.09 L306.70,589.09 L307.20,589.09 L307.70,589.09 L308.20,589.09 L308.70,589.09 L309.20,589.09 L309.70,589.09 L310.20,589.09 L310.70,589.09 L311.20,589.09 L311.70,589.09 L312.20,589.09 L312.70,589.09 L313.20,589.09 L313.70,589.09 L314.20,589.09 L314.70,589.09 L315.20,589.09 L315.70,589.09 L316.20,589.09 L316.70,589.09 L317.20,589.09 L317.70,589.09 L318.20,589.09 L318.70,589.09 L319.20,589.09 L319.70,589.09 L320.20,589.09 L320.70,589.09 L321.20,589.09 L321.70,589.09 L322.20,589.07 L322.70,589.01 L323.20,588.91 L323.70,588.78 L324.20,588.63 L324.70,588.44 L325.20,588.23 L325.70,587.73 L326.20,586.93 L326.70,585.90 L327.20,584.77 L327.70,583.62 L328.20,582.56 L328.70,581.48 L329.20,580.35 L329.70,579.22 L330.20,577.86 L330.70,576.45 L331.20,575.65 L331.70,575.93 L332.20,576.74 L332.70,577.19 L333.20,576.86 L333.70,576.21 L334.20,575.78 L334.70,575.97 L335.20,576.56 L335.70,577.05 L336.20,576.97 L336.70,576.22 L337.20,575.07 L337.70,573.80 L338.20,572.18 L338.70,570.14 L339.20,568.17 L339.70,566.36 L340.20,564.58 L340.70,563.76 L341.20,564.82 L341.70,567.21 L342.20,570.76 L342.70,576.43 L343.20,585.75 L343.70,596.85 L344.20,605.43 L344.70,612.73 L345.20,614.85 L345.70,615.26 L346.20,626.20 L346.70,635.40 L347.20,638.39 L347.70,628.78 L348.20,618.90 L348.70,610.74 L349.20,604.72 L349.70,600.61 L350.20,597.45 L350.70,594.79 L351.20,592.29 L351.70,590.05 L352.20,588.16 L352.70,586.73 L353.20,585.82 L353.70,585.05 L354.20,584.34 L354.70,583.72 L355.20,583.18 L355.70,582.76 L356.20,582.45 L356.70,582.29 L357.20,582.26 L357.70,582.27 L358.20,582.30 L358.70,582.35 L359.20,582.41 L359.70,582.48 L360.20,582.56 L360.70,582.65 L361.20,582.75 L361.70,582.85 L362.20,582.96 L362.70,583.08 L363.20,583.20 L363.70,583.32 L364.20,583.44 L364.70,583.56 L365.20,583.68 L365.70,583.82 L366.20,583.98 L366.70,584.16 L367.20,584.35 L367.70,584.56 L368.20,584.78 L368.70,585.00 L369.20,585.24 L369.70,585.48 L370.20,585.72 L370.70,585.96 L371.20,586.20 L371.70,586.43 L372.20,586.66 L372.70,586.87 L373.20,587.08 L373.70,587.27 L374.20,587.44 L374.70,587.60 L375.20,587.73 L375.70,587.86 L376.20,587.99 L376.70,588.12 L377.20,588.25 L377.70,588.37 L378.20,588.49 L378.70,588.61 L379.20,588.72 L379.70,588.84 L380.20,588.95 L380.70,589.06 L381.20,589.16 L381.70,589.27 L382.20,589.37 L382.70,589.47 L383.20,589.56 L383.70,589.65 L384.20,589.74 L384.70,589.83 L385.20,589.91 L385.70,589.99 L386.20,590.07 L386.70,590.14 L387.20,590.21 L387.70,590.28 L388.20,590.34 L388.70,590.40 L389.20,590.45 L389.70,590.51 L390.20,590.55 L390.70,590.60 L391.20,590.65 L391.70,590.70 L392.20,590.74 L392.70,590.79 L393.20,590.84 L393.70,590.88 L394.20,590.92 L394.70,590.96 L395.20,591.00 L395.70,591.04 L396.20,591.07 L396.70,591.10 L397.20,591.12 L397.70,591.15 L398.20,591.17 L398.70,591.18 L399.20,591.19 L399.70,591.20 L400.20,591.20 L400.70,591.19 L401.20,591.18 L401.70,591.16 L402.20,591.14 L402.70,591.12 L403.20,591.08 L403.70,591.05 L404.20,591.01 L404.70,590.97 L405.20,590.92 L405.70,590.87 L406.20,590.82 L406.70,590.77 L407.20,590.71 L407.70,590.66 L408.20,590.60 L408.70,590.54 L409.20,590.48 L409.70,590.42 L410.20,590.36 L410.70,590.29 L411.20,590.21 L411.70,590.12 L412.20,590.02 L412.70,589.91 L413.20,589.80 L413.70,589.69 L414.20,589.56 L414.70,589.44 L415.20,589.31 L415.70,589.17 L416.20,589.04 L416.70,588.90 L417.20,588.77 L417.70,588.63 L418.20,588.50 L418.70,588.37 L419.20,588.24 L419.70,588.11 L420.20,587.99 L420.70,587.87 L421.20,587.75 L421.70,587.63 L422.20,587.51 L422.70,587.39 L423.20,587.27 L423.70,587.15 L424.20,587.03 L424.70,586.91 L425.20,586.79 L425.70,586.67 L426.20,586.54 L426.70,586.42 L427.20,586.30 L427.70,586.18 L428.00,586.10" stroke="#cfcfcf" stroke-width="1.0" fill="none" stroke-linejoin="round" stroke-linecap="round" />
<path d="M265.70,588.73 L266.20,588.74 L266.70,588.75 L267.20,588.76 L267.70,588.77 L268.20,588.77 L268.70,588.78 L269.20,588.79 L269.70,588.80 L270.20,588.81 L270.70,588.82 L271.20,588.82 L271.70,588.83 L272.20,588.84 L272.70,588.84 L273.20,588.85 L273.70,588.86 L274.20,588.87 L274.70,588.87 L275.20,588.88 L275.70,588.89 L276.20,588.89 L276.70,588.90 L277.20,588.90 L277.70,588.91 L278.20,588.91 L278.70,588.92 L279.20,588.93 L279.70,588.93 L280.20,588.94 L280.70,588.94 L281.20,588.95 L281.70,588.95 L282.20,588.96 L282.70,588.96 L283.20,588.96 L283.70,588.97 L284.20,588.97 L284.70,588.98 L285.20,588.98 L285.70,588.99 L286.20,588.99 L286.70,588.99 L287.20,589.00 L287.70,589.00 L288.20,589.00 L288.70,589.01 L289.20,589.01 L289.70,589.01 L290.20,589.02 L290.70,589.02 L291.20,589.02 L291.70,589.02 L292.20,589.03 L292.70,589.03 L293.20,589.03 L293.70,589.03 L294.20,589.04 L294.70,589.04 L295.20,589.04 L295.70,589.04 L296.20,589.05 L296.70,589.05 L297.20,589.05 L297.70,589.05 L298.20,589.05 L298.70,589.05 L299.20,589.06 L299.70,589.06 L300.20,589.06 L300.70,589.06 L301.20,589.06 L301.70,589.06 L302.20,589.06 L302.70,589.06 L303.20,589.07 L303.70,589.07 L304.20,589.07 L304.70,589.07 L305.20,589.07 L305.70,589.07 L306.20,589.07 L306.70,589.07 L307.20,589.07 L307.70,589.07 L308.20,589.07 L308.70,589.07 L309.20,589.07 L309.70,589.07 L310.20,589.08 L310.70,589.08 L311.20,589.08 L311.70,589.08 L312.20,589.08 L312.70,589.08 L313.20,589.08 L313.70,589.08 L314.20,589.08 L314.70,589.08 L315.20,589.08 L315.70,589.08 L316.20,589.08 L316.70,589.08 L317.20,589.08 L317.70,589.08 L318.20,589.08 L318.70,589.08 L319.20,589.08 L319.70,589.08 L320.20,589.08 L320.70,589.08 L321.20,589.08 L321.70,589.08 L322.20,589.03 L322.70,588.91 L323.20,588.72 L323.70,588.47 L324.20,588.18 L324.70,587.85 L325.20,587.48 L325.70,586.92 L326.20,586.13 L326.70,585.17 L327.20,584.08 L327.70,582.93 L328.20,581.75 L328.70,580.23 L329.20,578.60 L329.70,577.34 L330.20,576.41 L330.70,575.62 L331.20,575.22 L331.70,575.70 L332.20,576.96 L332.70,577.69 L333.20,576.95 L333.70,575.51 L334.20,574.54 L334.70,574.97 L335.20,576.30 L335.70,577.40 L336.20,577.45 L336.70,576.99 L337.20,576.22 L337.70,575.22 L338.20,572.47 L338.70,568.23 L339.20,565.20 L339.70,564.49 L340.20,564.07 L340.70,563.91 L341.20,565.09 L341.70,567.72 L342.20,571.51 L342.70,577.33 L343.20,586.05 L343.70,596.33 L344.20,605.14 L344.70,613.20 L345.20,615.52 L345.70,615.92 L346.20,625.29 L346.70,634.39 L347.20,637.89 L347.70,630.06 L348.20,620.48 L348.70,610.13 L349.20,603.20 L349.70,599.64 L350.20,596.98 L350.70,594.32 L351.20,591.57 L351.70,589.02 L352.20,586.91 L352.70,585.50 L353.20,584.97 L353.70,584.67 L354.20,584.43 L354.70,584.22 L355.20,584.05 L355.70,583.92 L356.20,583.82 L356.70,583.74 L357.20,583.68 L357.70,583.62 L358.20,583.57 L358.70,583.52 L359.20,583.48 L359.70,583.43 L360.20,583.39 L360.70,583.36 L361.20,583.32 L361.70,583.29 L362.20,583.27 L362.70,583.25 L363.20,583.23 L363.70,583.22 L364.20,583.21 L364.70,583.20 L365.20,583.21 L365.70,583.25 L366.20,583.35 L366.70,583.49 L367.20,583.67 L367.70,583.89 L368.20,584.13 L368.70,584.40 L369.20,584.69 L369.70,585.00 L370.20,585.31 L370.70,585.63 L371.20,585.95 L371.70,586.26 L372.20,586.57 L372.70,586.86 L373.20,587.13 L373.70,587.38 L374.20,587.59 L374.70,587.78 L375.20,587.92 L375.70,588.06 L376.20,588.20 L376.70,588.33 L377.20,588.46 L377.70,588.58 L378.20,588.70 L378.70,588.82 L379.20,588.94 L379.70,589.05 L380.20,589.16 L380.70,589.27 L381.20,589.37 L381.70,589.47 L382.20,589.57 L382.70,589.67 L383.20,589.76 L383.70,589.85 L384.20,589.94 L384.70,590.02 L385.20,590.10 L385.70,590.18 L386.20,590.26 L386.70,590.34 L387.20,590.41 L387.70,590.48 L388.20,590.55 L388.70,590.61 L389.20,590.67 L389.70,590.74 L390.20,590.79 L390.70,590.85 L391.20,590.91 L391.70,590.97 L392.20,591.03 L392.70,591.09 L393.20,591.15 L393.70,591.21 L394.20,591.27 L394.70,591.32 L395.20,591.37 L395.70,591.42 L396.20,591.46 L396.70,591.50 L397.20,591.54 L397.70,591.57 L398.20,591.60 L398.70,591.62 L399.20,591.63 L399.70,591.64 L400.20,591.64 L400.70,591.63 L401.20,591.61 L401.70,591.58 L402.20,591.54 L402.70,591.50 L403.20,591.44 L403.70,591.38 L404.20,591.32 L404.70,591.25 L405.20,591.17 L405.70,591.09 L406.20,591.01 L406.70,590.92 L407.20,590.83 L407.70,590.75 L408.20,590.66 L408.70,590.57 L409.20,590.48 L409.70,590.39 L410.20,590.31 L410.70,590.21 L411.20,590.11 L411.70,590.01 L412.20,589.89 L412.70,589.77 L413.20,589.65 L413.70,589.52 L414.20,589.39 L414.70,589.26 L415.20,589.13 L415.70,588.99 L416.20,588.86 L416.70,588.72 L417.20,588.59 L417.70,588.46 L418.20,588.33 L418.70,588.21 L419.20,588.09 L419.70,587.98 L420.20,587.87 L420.70,587.77 L421.20,587.67 L421.70,587.57 L422.20,587.47 L422.70,587.37 L423.20,587.27 L423.70,587.18 L424.20,587.08 L424.70,586.99 L425.20,586.90 L425.70,586.81 L426.20,586.72 L426.70,586.64 L427.20,586.55 L427.70,586.47 L428.00,586.42" stroke="#cfcfcf" stroke-width="1.0" fill="none" stroke-linejoin="round" stroke-linecap="round" />
<path d="M265.70,495.90 L266.10,495.90 L266.50,495.90 L266.90,495.90 L267.30,495.90 L267.70,495.90 L268.10,495.90 L268.50,495.90 L268.90,495.90 L269.30,495.90 L269.70,495.90 L270.10,495.90 L270.50,495.90 L270.90,495.90 L271.30,495.90 L271.70,495.90 L272.10,495.90 L272.50,495.90 L272.90,495.90 L273.30,495.90 L273.70,495.90 L274.10,495.90 L274.50,495.90 L274.90,495.90 L275.30,495.90 L275.70,495.90 L276.10,495.90 L276.50,495.90 L276.90,495.90 L277.30,495.90 L277.70,495.90 L278.10,495.90 L278.50,495.90 L278.90,495.90 L279.30,495.90 L279.70,495.90 L280.10,495.90 L280.50,495.90 L280.90,495.90 L281.30,495.90 L281.70,495.90 L282.10,495.90 L282.50,495.90 L282.90,495.90 L283.30,495.90 L283.70,495.90 L284.10,495.90 L284.50,495.90 L284.90,495.90 L285.30,495.90 L285.70,495.90 L286.10,495.90 L286.50,495.90 L286.90,495.90 L287.30,495.90 L287.70,495.90 L288.10,495.90 L288.50,495.90 L288.90,495.90 L289.30,495.90 L289.70,495.90 L290.10,495.90 L290.50,495.90 L290.90,495.90 L291.30,495.90 L291.70,495.90 L292.10,495.90 L292.50,495.90 L292.90,495.90 L293.30,495.90 L293.70,495.90 L294.10,495.90 L294.50,495.90 L294.90,495.90 L295.30,495.90 L295.70,495.90 L296.10,495.90 L296.50,495.90 L296.90,495.90 L297.30,495.90 L297.70,495.90 L298.10,495.90 L298.50,495.90 L298.90,495.90 L299.30,495.90 L299.70,495.90 L300.10,495.90 L300.50,495.90 L300.90,495.90 L301.30,495.89 L301.70,495.85 L302.10,495.77 L302.50,495.66 L302.90,495.51 L303.30,495.33 L303.70,495.13 L304.10,494.91 L304.50,494.67 L304.90,494.42 L305.30,494.16 L305.70,493.89 L306.10,493.62 L306.50,493.35 L306.90,493.08 L307.30,492.82 L307.70,492.58 L308.10,492.34 L308.50,492.11 L308.90,491.86 L309.30,491.61 L309.70,491.35 L310.10,491.09 L310.50,490.83 L310.90,490.56 L311.30,490.31 L311.70,490.05 L312.10,489.79 L312.50,489.53 L312.90,489.27 L313.30,489.00 L313.70,488.73 L314.10,488.46 L314.50,488.18 L314.90,487.90 L315.30,487.61 L315.70,487.32 L316.10,487.01 L316.50,486.71 L316.90,486.39 L317.30,486.08 L317.70,485.75 L318.10,485.41 L318.50,485.05 L318.90,484.65 L319.30,484.24 L319.70,483.82 L320.10,483.41 L320.50,483.02 L320.90,482.66 L321.30,482.35 L321.70,482.10 L322.10,481.90 L322.50,481.72 L322.90,481.56 L323.30,481.41 L323.70,481.28 L324.10,481.14 L324.50,481.00 L324.90,480.84 L325.30,480.67 L325.70,480.48 L326.10,480.28 L326.50,480.07 L326.90,479.87 L327.30,479.67 L327.70,479.50 L328.10,479.35 L328.50,479.22 L328.90,479.14 L329.30,479.07 L329.70,479.02 L330.10,478.97 L330.50,478.91 L330.90,478.83 L331.30,478.68 L331.70,478.41 L332.10,478.05 L332.50,477.65 L332.90,477.24 L333.30,476.87 L333.70,476.59 L334.10,476.42 L334.50,476.44 L334.90,476.71 L335.30,477.09 L335.70,477.41 L336.10,477.48 L336.50,477.14 L336.90,476.47 L337.30,475.60 L337.70,474.67 L338.10,473.84 L338.50,473.23 L338.90,473.00 L339.30,473.16 L339.70,473.58 L340.10,474.22 L340.50,475.00 L340.90,475.87 L341.30,476.76 L341.70,477.62 L342.10,478.38 L342.50,479.00 L342.90,479.62 L343.30,480.24 L343.70,480.83 L344.10,481.39 L344.50,481.89 L344.90,482.31 L345.30,482.67 L345.70,483.02 L346.10,483.37 L346.50,483.71 L346.90,484.02 L347.30,484.29 L347.70,484.53 L348.10,484.72 L348.50,484.84 L348.90,484.90 L349.30,484.89 L349.70,484.85 L350.10,484.77 L350.50,484.67 L350.90,484.55 L351.30,484.40 L351.70,484.25 L352.10,484.08 L352.50,483.92 L352.90,483.74 L353.30,483.58 L353.70,483.42 L354.10,483.27 L354.50,483.14 L354.90,483.02 L355.30,482.93 L355.70,482.83 L356.10,482.73 L356.50,482.63 L356.90,482.53 L357.30,482.43 L357.70,482.33 L358.10,482.23 L358.50,482.14 L358.90,482.06 L359.30,481.98 L359.70,481.91 L360.10,481.85 L360.50,481.79 L360.90,481.75 L361.30,481.72 L361.70,481.70 L362.10,481.70 L362.50,481.71 L362.90,481.72 L363.30,481.75 L363.70,481.78 L364.10,481.82 L364.50,481.87 L364.90,481.92 L365.30,481.98 L365.70,482.05 L366.10,482.12 L366.50,482.20 L366.90,482.28 L367.30,482.36 L367.70,482.45 L368.10,482.54 L368.50,482.63 L368.90,482.73 L369.30,482.83 L369.70,482.93 L370.10,483.03 L370.50,483.14 L370.90,483.27 L371.30,483.42 L371.70,483.59 L372.10,483.77 L372.50,483.97 L372.90,484.18 L373.30,484.40 L373.70,484.63 L374.10,484.88 L374.50,485.13 L374.90,485.38 L375.30,485.65 L375.70,485.92 L376.10,486.19 L376.50,486.46 L376.90,486.74 L377.30,487.02 L377.70,487.29 L378.10,487.57 L378.50,487.84 L378.90,488.10 L379.30,488.36 L379.70,488.62 L380.10,488.86 L380.50,489.11 L380.90,489.36 L381.30,489.61 L381.70,489.87 L382.10,490.13 L382.50,490.40 L382.90,490.66 L383.30,490.93 L383.70,491.20 L384.10,491.47 L384.50,491.74 L384.90,492.01 L385.30,492.27 L385.70,492.54 L386.10,492.80 L386.50,493.07 L386.90,493.33 L387.30,493.58 L387.70,493.84 L388.10,494.09 L388.50,494.33 L388.90,494.57 L389.30,494.80 L389.70,495.03 L390.10,495.26 L390.50,495.48 L390.90,495.70 L391.30,495.93 L391.70,496.16 L392.10,496.39 L392.50,496.61 L392.90,496.84 L393.30,497.06 L393.70,497.27 L394.10,497.49 L394.50,497.69 L394.90,497.89 L395.30,498.08 L395.70,498.27 L396.10,498.44 L396.50,498.60 L396.90,498.75 L397.30,498.89 L397.70,499.02 L398.10,499.13 L398.50,499.23 L398.90,499.34 L399.30,499.45 L399.70,499.55 L400.10,499.65 L400.50,499.75 L400.90,499.85 L401.30,499.94 L401.70,500.02 L402.10,500.10 L402.50,500.17 L402.90,500.24 L403.30,500.29 L403.70,500.33 L404.10,500.37 L404.50,500.39 L404.90,500.40 L405.30,500.40 L405.70,500.39 L406.10,500.37 L406.50,500.34 L406.90,500.30 L407.30,500.26 L407.70,500.22 L408.10,500.16 L408.50,500.11 L408.90,500.04 L409.30,499.98 L409.70,499.91 L410.10,499.84 L410.50,499.77 L410.90,499.70 L411.30,499.63 L411.70,499.55 L412.10,499.48 L412.50,499.40 L412.90,499.31 L413.30,499.21 L413.70,499.10 L414.10,498.98 L414.50,498.86 L414.90,498.73 L415.30,498.60 L415.70,498.46 L416.10,498.33 L416.50,498.19 L416.90,498.05 L417.30,497.91 L417.70,497.78 L418.10,497.65 L418.50,497.52 L418.90,497.40 L419.30,497.28 L419.70,497.17 L420.10,497.08 L420.50,496.98 L420.90,496.89 L421.30,496.79 L421.70,496.70 L422.10,496.61 L422.50,496.53 L422.90,496.44 L423.30,496.35 L423.70,496.27 L424.10,496.19 L424.50,496.11 L424.90,496.03 L425.30,495.96 L425.70,495.88 L426.10,495.81 L426.50,495.74 L426.90,495.67 L427.30,495.61 L427.70,495.55 L428.00,495.50" stroke="#111" stroke-width="1.7" fill="none" stroke-linejoin="round" stroke-linecap="round" />
<path d="M265.70,539.30 L266.10,539.30 L266.50,539.30 L266.90,539.30 L267.30,539.30 L267.70,539.30 L268.10,539.30 L268.50,539.30 L268.90,539.30 L269.30,539.30 L269.70,539.30 L270.10,539.30 L270.50,539.30 L270.90,539.30 L271.30,539.30 L271.70,539.30 L272.10,539.30 L272.50,539.30 L272.90,539.30 L273.30,539.30 L273.70,539.30 L274.10,539.30 L274.50,539.30 L274.90,539.30 L275.30,539.30 L275.70,539.30 L276.10,539.30 L276.50,539.30 L276.90,539.30 L277.30,539.30 L277.70,539.30 L278.10,539.30 L278.50,539.30 L278.90,539.30 L279.30,539.30 L279.70,539.30 L280.10,539.30 L280.50,539.30 L280.90,539.30 L281.30,539.30 L281.70,539.30 L282.10,539.30 L282.50,539.30 L282.90,539.30 L283.30,539.30 L283.70,539.30 L284.10,539.30 L284.50,539.30 L284.90,539.30 L285.30,539.30 L285.70,539.30 L286.10,539.30 L286.50,539.30 L286.90,539.30 L287.30,539.30 L287.70,539.30 L288.10,539.30 L288.50,539.30 L288.90,539.30 L289.30,539.30 L289.70,539.30 L290.10,539.30 L290.50,539.30 L290.90,539.30 L291.30,539.30 L291.70,539.30 L292.10,539.30 L292.50,539.30 L292.90,539.30 L293.30,539.30 L293.70,539.30 L294.10,539.30 L294.50,539.30 L294.90,539.30 L295.30,539.30 L295.70,539.30 L296.10,539.30 L296.50,539.30 L296.90,539.30 L297.30,539.30 L297.70,539.30 L298.10,539.30 L298.50,539.30 L298.90,539.30 L299.30,539.30 L299.70,539.30 L300.10,539.30 L300.50,539.30 L300.90,539.30 L301.30,539.30 L301.70,539.30 L302.10,539.30 L302.50,539.30 L302.90,539.30 L303.30,539.30 L303.70,539.30 L304.10,539.30 L304.50,539.30 L304.90,539.30 L305.30,539.30 L305.70,539.30 L306.10,539.30 L306.50,539.30 L306.90,539.30 L307.30,539.30 L307.70,539.30 L308.10,539.30 L308.50,539.30 L308.90,539.30 L309.30,539.30 L309.70,539.30 L310.10,539.30 L310.50,539.30 L310.90,539.30 L311.30,539.30 L311.70,539.30 L312.10,539.30 L312.50,539.30 L312.90,539.30 L313.30,539.30 L313.70,539.30 L314.10,539.30 L314.50,539.30 L314.90,539.30 L315.30,539.30 L315.70,539.30 L316.10,539.30 L316.50,539.30 L316.90,539.30 L317.30,539.30 L317.70,539.30 L318.10,539.30 L318.50,539.30 L318.90,539.30 L319.30,539.30 L319.70,539.30 L320.10,539.30 L320.50,539.30 L320.90,539.30 L321.30,539.29 L321.70,539.29 L322.10,539.27 L322.50,539.26 L322.90,539.24 L323.30,539.22 L323.70,539.19 L324.10,539.16 L324.50,539.13 L324.90,539.09 L325.30,539.05 L325.70,539.01 L326.10,538.96 L326.50,538.91 L326.90,538.86 L327.30,538.80 L327.70,538.75 L328.10,538.68 L328.50,538.62 L328.90,538.53 L329.30,538.39 L329.70,538.20 L330.10,537.96 L330.50,537.67 L330.90,537.35 L331.30,536.99 L331.70,536.61 L332.10,536.20 L332.50,535.77 L332.90,535.33 L333.30,534.85 L333.70,534.26 L334.10,533.55 L334.50,532.76 L334.90,531.91 L335.30,531.03 L335.70,530.14 L336.10,529.29 L336.50,528.49 L336.90,527.69 L337.30,526.76 L337.70,525.83 L338.10,525.01 L338.50,524.42 L338.90,524.20 L339.30,524.79 L339.70,526.21 L340.10,527.93 L340.50,529.40 L340.90,530.75 L341.30,532.09 L341.70,532.86 L342.10,532.17 L342.50,530.45 L342.90,530.23 L343.30,531.15 L343.70,532.64 L344.10,534.37 L344.50,535.96 L344.90,537.21 L345.30,538.32 L345.70,539.46 L346.10,540.79 L346.50,542.50 L346.90,545.36 L347.30,548.84 L347.70,551.94 L348.10,553.71 L348.50,554.87 L348.90,555.85 L349.30,556.55 L349.70,556.89 L350.10,556.78 L350.50,556.30 L350.90,555.53 L351.30,554.55 L351.70,553.46 L352.10,552.33 L352.50,551.25 L352.90,550.18 L353.30,548.93 L353.70,547.73 L354.10,546.80 L354.50,546.03 L354.90,545.34 L355.30,544.72 L355.70,544.13 L356.10,543.59 L356.50,543.06 L356.90,542.53 L357.30,542.00 L357.70,541.44 L358.10,540.87 L358.50,540.30 L358.90,539.73 L359.30,539.19 L359.70,538.67 L360.10,538.19 L360.50,537.75 L360.90,537.37 L361.30,537.06 L361.70,536.82 L362.10,536.67 L362.50,536.54 L362.90,536.42 L363.30,536.31 L363.70,536.20 L364.10,536.10 L364.50,536.01 L364.90,535.93 L365.30,535.85 L365.70,535.79 L366.10,535.73 L366.50,535.68 L366.90,535.64 L367.30,535.62 L367.70,535.60 L368.10,535.60 L368.50,535.62 L368.90,535.66 L369.30,535.72 L369.70,535.79 L370.10,535.88 L370.50,535.98 L370.90,536.10 L371.30,536.22 L371.70,536.34 L372.10,536.47 L372.50,536.60 L372.90,536.73 L373.30,536.86 L373.70,536.98 L374.10,537.09 L374.50,537.19 L374.90,537.28 L375.30,537.36 L375.70,537.44 L376.10,537.52 L376.50,537.60 L376.90,537.68 L377.30,537.76 L377.70,537.85 L378.10,537.93 L378.50,538.01 L378.90,538.10 L379.30,538.18 L379.70,538.26 L380.10,538.35 L380.50,538.43 L380.90,538.51 L381.30,538.59 L381.70,538.66 L382.10,538.74 L382.50,538.81 L382.90,538.88 L383.30,538.95 L383.70,539.02 L384.10,539.08 L384.50,539.15 L384.90,539.20 L385.30,539.26 L385.70,539.31 L386.10,539.36 L386.50,539.40 L386.90,539.44 L387.30,539.48 L387.70,539.51 L388.10,539.54 L388.50,539.56 L388.90,539.58 L389.30,539.59 L389.70,539.60 L390.10,539.60 L390.50,539.60 L390.90,539.59 L391.30,539.59 L391.70,539.58 L392.10,539.56 L392.50,539.55 L392.90,539.53 L393.30,539.51 L393.70,539.49 L394.10,539.47 L394.50,539.44 L394.90,539.42 L395.30,539.39 L395.70,539.36 L396.10,539.33 L396.50,539.30 L396.90,539.27 L397.30,539.24 L397.70,539.20 L398.10,539.17 L398.50,539.13 L398.90,539.10 L399.30,539.06 L399.70,539.03 L400.10,538.99 L400.50,538.95 L400.90,538.91 L401.30,538.86 L401.70,538.81 L402.10,538.76 L402.50,538.71 L402.90,538.65 L403.30,538.58 L403.70,538.52 L404.10,538.45 L404.50,538.38 L404.90,538.31 L405.30,538.24 L405.70,538.16 L406.10,538.09 L406.50,538.01 L406.90,537.93 L407.30,537.85 L407.70,537.77 L408.10,537.69 L408.50,537.61 L408.90,537.53 L409.30,537.44 L409.70,537.36 L410.10,537.28 L410.50,537.19 L410.90,537.10 L411.30,537.00 L411.70,536.89 L412.10,536.78 L412.50,536.67 L412.90,536.55 L413.30,536.44 L413.70,536.32 L414.10,536.20 L414.50,536.09 L414.90,535.97 L415.30,535.87 L415.70,535.76 L416.10,535.66 L416.50,535.57 L416.90,535.49 L417.30,535.41 L417.70,535.34 L418.10,535.29 L418.50,535.23 L418.90,535.18 L419.30,535.13 L419.70,535.07 L420.10,535.02 L420.50,534.97 L420.90,534.92 L421.30,534.87 L421.70,534.82 L422.10,534.78 L422.50,534.74 L422.90,534.69 L423.30,534.65 L423.70,534.62 L424.10,534.58 L424.50,534.55 L424.90,534.52 L425.30,534.49 L425.70,534.47 L426.10,534.45 L426.50,534.43 L426.90,534.42 L427.30,534.41 L427.70,534.40 L428.00,534.40" stroke="#111" stroke-width="1.7" fill="none" stroke-linejoin="round" stroke-linecap="round" />
<path d="M265.70,588.80 L266.10,588.80 L266.50,588.80 L266.90,588.80 L267.30,588.80 L267.70,588.80 L268.10,588.80 L268.50,588.80 L268.90,588.80 L269.30,588.80 L269.70,588.80 L270.10,588.80 L270.50,588.80 L270.90,588.80 L271.30,588.80 L271.70,588.80 L272.10,588.80 L272.50,588.80 L272.90,588.80 L273.30,588.80 L273.70,588.80 L274.10,588.80 L274.50,588.80 L274.90,588.80 L275.30,588.80 L275.70,588.80 L276.10,588.80 L276.50,588.80 L276.90,588.80 L277.30,588.80 L277.70,588.80 L278.10,588.80 L278.50,588.80 L278.90,588.80 L279.30,588.80 L279.70,588.80 L280.10,588.80 L280.50,588.80 L280.90,588.80 L281.30,588.80 L281.70,588.80 L282.10,588.80 L282.50,588.80 L282.90,588.80 L283.30,588.80 L283.70,588.80 L284.10,588.80 L284.50,588.80 L284.90,588.80 L285.30,588.80 L285.70,588.80 L286.10,588.80 L286.50,588.80 L286.90,588.80 L287.30,588.80 L287.70,588.80 L288.10,588.80 L288.50,588.80 L288.90,588.80 L289.30,588.80 L289.70,588.80 L290.10,588.80 L290.50,588.80 L290.90,588.80 L291.30,588.80 L291.70,588.80 L292.10,588.80 L292.50,588.80 L292.90,588.80 L293.30,588.80 L293.70,588.80 L294.10,588.80 L294.50,588.80 L294.90,588.80 L295.30,588.80 L295.70,588.80 L296.10,588.80 L296.50,588.80 L296.90,588.80 L297.30,588.80 L297.70,588.80 L298.10,588.80 L298.50,588.80 L298.90,588.80 L299.30,588.80 L299.70,588.80 L300.10,588.80 L300.50,588.80 L300.90,588.80 L301.30,588.80 L301.70,588.80 L302.10,588.80 L302.50,588.80 L302.90,588.80 L303.30,588.80 L303.70,588.80 L304.10,588.80 L304.50,588.80 L304.90,588.80 L305.30,588.80 L305.70,588.80 L306.10,588.80 L306.50,588.80 L306.90,588.80 L307.30,588.80 L307.70,588.80 L308.10,588.80 L308.50,588.80 L308.90,588.80 L309.30,588.80 L309.70,588.80 L310.10,588.80 L310.50,588.80 L310.90,588.80 L311.30,588.80 L311.70,588.80 L312.10,588.80 L312.50,588.80 L312.90,588.80 L313.30,588.80 L313.70,588.80 L314.10,588.80 L314.50,588.80 L314.90,588.80 L315.30,588.80 L315.70,588.80 L316.10,588.80 L316.50,588.80 L316.90,588.80 L317.30,588.80 L317.70,588.80 L318.10,588.80 L318.50,588.80 L318.90,588.80 L319.30,588.80 L319.70,588.80 L320.10,588.80 L320.50,588.80 L320.90,588.80 L321.30,588.80 L321.70,588.80 L322.10,588.79 L322.50,588.76 L322.90,588.70 L323.30,588.63 L323.70,588.54 L324.10,588.43 L324.50,588.31 L324.90,588.17 L325.30,587.99 L325.70,587.58 L326.10,586.97 L326.50,586.19 L326.90,585.30 L327.30,584.34 L327.70,583.35 L328.10,582.40 L328.50,581.32 L328.90,580.07 L329.30,578.86 L329.70,577.90 L330.10,577.11 L330.50,576.37 L330.90,575.82 L331.30,575.60 L331.70,575.96 L332.10,576.69 L332.50,577.30 L332.90,577.30 L333.30,576.67 L333.70,575.83 L334.10,575.20 L334.50,575.22 L334.90,575.99 L335.30,577.01 L335.70,577.78 L336.10,577.84 L336.50,577.37 L336.90,576.56 L337.30,575.53 L337.70,574.40 L338.10,572.72 L338.50,570.39 L338.90,568.06 L339.30,566.40 L339.70,565.30 L340.10,564.36 L340.50,563.78 L340.90,563.88 L341.30,565.10 L341.70,567.05 L342.10,570.06 L342.50,575.08 L342.90,581.13 L343.30,589.17 L343.70,597.32 L344.10,603.75 L344.50,609.60 L344.90,613.79 L345.30,615.38 L345.70,616.70 L346.10,624.01 L346.50,631.90 L346.90,637.40 L347.30,637.10 L347.70,629.64 L348.10,621.89 L348.50,614.45 L348.90,607.72 L349.30,603.47 L349.70,600.49 L350.10,598.09 L350.50,595.91 L350.90,593.73 L351.30,591.62 L351.70,589.68 L352.10,587.99 L352.50,586.65 L352.90,585.75 L353.30,585.22 L353.70,584.75 L354.10,584.31 L354.50,583.92 L354.90,583.58 L355.30,583.29 L355.70,583.05 L356.10,582.87 L356.50,582.75 L356.90,582.70 L357.30,582.70 L357.70,582.71 L358.10,582.71 L358.50,582.73 L358.90,582.74 L359.30,582.76 L359.70,582.78 L360.10,582.81 L360.50,582.84 L360.90,582.87 L361.30,582.90 L361.70,582.94 L362.10,582.98 L362.50,583.02 L362.90,583.06 L363.30,583.10 L363.70,583.15 L364.10,583.19 L364.50,583.24 L364.90,583.29 L365.30,583.34 L365.70,583.42 L366.10,583.51 L366.50,583.61 L366.90,583.74 L367.30,583.87 L367.70,584.02 L368.10,584.18 L368.50,584.35 L368.90,584.53 L369.30,584.71 L369.70,584.90 L370.10,585.10 L370.50,585.29 L370.90,585.49 L371.30,585.69 L371.70,585.89 L372.10,586.09 L372.50,586.28 L372.90,586.46 L373.30,586.64 L373.70,586.81 L374.10,586.98 L374.50,587.13 L374.90,587.27 L375.30,587.40 L375.70,587.53 L376.10,587.66 L376.50,587.79 L376.90,587.93 L377.30,588.06 L377.70,588.19 L378.10,588.33 L378.50,588.46 L378.90,588.59 L379.30,588.72 L379.70,588.86 L380.10,588.99 L380.50,589.11 L380.90,589.24 L381.30,589.37 L381.70,589.49 L382.10,589.61 L382.50,589.73 L382.90,589.85 L383.30,589.96 L383.70,590.07 L384.10,590.18 L384.50,590.29 L384.90,590.39 L385.30,590.49 L385.70,590.58 L386.10,590.67 L386.50,590.76 L386.90,590.84 L387.30,590.92 L387.70,590.99 L388.10,591.06 L388.50,591.12 L388.90,591.17 L389.30,591.22 L389.70,591.27 L390.10,591.31 L390.50,591.35 L390.90,591.38 L391.30,591.42 L391.70,591.46 L392.10,591.49 L392.50,591.53 L392.90,591.56 L393.30,591.59 L393.70,591.62 L394.10,591.65 L394.50,591.68 L394.90,591.71 L395.30,591.74 L395.70,591.76 L396.10,591.78 L396.50,591.81 L396.90,591.83 L397.30,591.84 L397.70,591.86 L398.10,591.87 L398.50,591.88 L398.90,591.89 L399.30,591.90 L399.70,591.90 L400.10,591.90 L400.50,591.89 L400.90,591.88 L401.30,591.85 L401.70,591.81 L402.10,591.77 L402.50,591.72 L402.90,591.66 L403.30,591.60 L403.70,591.53 L404.10,591.46 L404.50,591.38 L404.90,591.30 L405.30,591.21 L405.70,591.12 L406.10,591.03 L406.50,590.93 L406.90,590.84 L407.30,590.74 L407.70,590.64 L408.10,590.54 L408.50,590.45 L408.90,590.35 L409.30,590.26 L409.70,590.17 L410.10,590.08 L410.50,589.98 L410.90,589.88 L411.30,589.78 L411.70,589.66 L412.10,589.54 L412.50,589.42 L412.90,589.30 L413.30,589.17 L413.70,589.04 L414.10,588.90 L414.50,588.77 L414.90,588.64 L415.30,588.51 L415.70,588.38 L416.10,588.25 L416.50,588.13 L416.90,588.01 L417.30,587.89 L417.70,587.78 L418.10,587.68 L418.50,587.59 L418.90,587.50 L419.30,587.42 L419.70,587.35 L420.10,587.29 L420.50,587.23 L420.90,587.17 L421.30,587.11 L421.70,587.06 L422.10,587.01 L422.50,586.95 L422.90,586.90 L423.30,586.85 L423.70,586.81 L424.10,586.76 L424.50,586.72 L424.90,586.68 L425.30,586.65 L425.70,586.62 L426.10,586.59 L426.50,586.56 L426.90,586.54 L427.30,586.52 L427.70,586.51 L428.00,586.50" stroke="#111" stroke-width="1.7" fill="none" stroke-linejoin="round" stroke-linecap="round" />
<path d="M266.90,609.60 L266.90,637.80 L308.00,637.80" stroke="#111" stroke-width="1.3" fill="none" stroke-linejoin="round" stroke-linecap="round" />
<text x="249.20" y="626.00" font-size="8.0" text-anchor="middle" font-weight="bold" fill="#1a1a1a" stroke="#1a1a1a" stroke-width="0.35" textLength="25.60" lengthAdjust="spacingAndGlyphs" >100 μV</text>
<text x="286.60" y="648.00" font-size="8.0" text-anchor="middle" font-weight="bold" fill="#1a1a1a" stroke="#1a1a1a" stroke-width="0.35" textLength="22.00" lengthAdjust="spacingAndGlyphs" >10 ms</text>
<text x="437.70" y="468.80" font-size="13.2" text-anchor="start" font-weight="bold" fill="#111" stroke="#111" stroke-width="0.35" textLength="4.20" lengthAdjust="spacingAndGlyphs" >j</text>
<line x1="470.80" y1="476.60" x2="661.20" y2="476.60" stroke="#111" stroke-width="1.5" />
<line x1="470.80" y1="621.00" x2="661.20" y2="621.00" stroke="#111" stroke-width="1.5" />
<line x1="470.80" y1="476.60" x2="470.80" y2="621.00" stroke="#cf3a3e" stroke-width="1.5" />
<line x1="661.20" y1="476.60" x2="661.20" y2="621.00" stroke="#2d4a9a" stroke-width="1.5" />
<text x="467.50" y="623.80" font-size="7.8" text-anchor="end" font-weight="bold" fill="#cf3a3e" stroke="#cf3a3e" stroke-width="0.35" >0</text>
<line x1="470.80" y1="584.90" x2="473.80" y2="584.90" stroke="#cf3a3e" stroke-width="1.2" />
<text x="467.50" y="587.70" font-size="7.8" text-anchor="end" font-weight="bold" fill="#cf3a3e" stroke="#cf3a3e" stroke-width="0.35" >5</text>
<line x1="470.80" y1="548.80" x2="473.80" y2="548.80" stroke="#cf3a3e" stroke-width="1.2" />
<text x="467.50" y="551.60" font-size="7.8" text-anchor="end" font-weight="bold" fill="#cf3a3e" stroke="#cf3a3e" stroke-width="0.35" >10</text>
<line x1="470.80" y1="512.70" x2="473.80" y2="512.70" stroke="#cf3a3e" stroke-width="1.2" />
<text x="467.50" y="515.50" font-size="7.8" text-anchor="end" font-weight="bold" fill="#cf3a3e" stroke="#cf3a3e" stroke-width="0.35" >15</text>
<text x="467.50" y="479.40" font-size="7.8" text-anchor="end" font-weight="bold" fill="#cf3a3e" stroke="#cf3a3e" stroke-width="0.35" >20</text>
<line x1="470.80" y1="602.95" x2="472.60" y2="602.95" stroke="#cf3a3e" stroke-width="1" />
<line x1="470.80" y1="566.85" x2="472.60" y2="566.85" stroke="#cf3a3e" stroke-width="1" />
<line x1="470.80" y1="530.75" x2="472.60" y2="530.75" stroke="#cf3a3e" stroke-width="1" />
<line x1="470.80" y1="494.65" x2="472.60" y2="494.65" stroke="#cf3a3e" stroke-width="1" />
<line x1="661.20" y1="607.87" x2="658.20" y2="607.87" stroke="#2d4a9a" stroke-width="1.2" />
<text x="665.00" y="610.67" font-size="7.8" text-anchor="start" font-weight="bold" fill="#2d4a9a" stroke="#2d4a9a" stroke-width="0.35" >0</text>
<line x1="661.20" y1="581.62" x2="658.20" y2="581.62" stroke="#2d4a9a" stroke-width="1.2" />
<text x="665.00" y="584.42" font-size="7.8" text-anchor="start" font-weight="bold" fill="#2d4a9a" stroke="#2d4a9a" stroke-width="0.35" >1</text>
<line x1="661.20" y1="555.36" x2="658.20" y2="555.36" stroke="#2d4a9a" stroke-width="1.2" />
<text x="665.00" y="558.16" font-size="7.8" text-anchor="start" font-weight="bold" fill="#2d4a9a" stroke="#2d4a9a" stroke-width="0.35" >2</text>
<line x1="661.20" y1="529.11" x2="658.20" y2="529.11" stroke="#2d4a9a" stroke-width="1.2" />
<text x="665.00" y="531.91" font-size="7.8" text-anchor="start" font-weight="bold" fill="#2d4a9a" stroke="#2d4a9a" stroke-width="0.35" >3</text>
<line x1="661.20" y1="502.85" x2="658.20" y2="502.85" stroke="#2d4a9a" stroke-width="1.2" />
<text x="665.00" y="505.65" font-size="7.8" text-anchor="start" font-weight="bold" fill="#2d4a9a" stroke="#2d4a9a" stroke-width="0.35" >4</text>
<line x1="661.20" y1="476.60" x2="658.20" y2="476.60" stroke="#2d4a9a" stroke-width="1.2" />
<text x="665.00" y="479.40" font-size="7.8" text-anchor="start" font-weight="bold" fill="#2d4a9a" stroke="#2d4a9a" stroke-width="0.35" >5</text>
<line x1="661.20" y1="594.75" x2="659.40" y2="594.75" stroke="#2d4a9a" stroke-width="1" />
<line x1="661.20" y1="568.49" x2="659.40" y2="568.49" stroke="#2d4a9a" stroke-width="1" />
<line x1="661.20" y1="542.24" x2="659.40" y2="542.24" stroke="#2d4a9a" stroke-width="1" />
<line x1="661.20" y1="515.98" x2="659.40" y2="515.98" stroke="#2d4a9a" stroke-width="1" />
<line x1="661.20" y1="489.73" x2="659.40" y2="489.73" stroke="#2d4a9a" stroke-width="1" />
<line x1="502.40" y1="621.00" x2="502.40" y2="618.00" stroke="#111" stroke-width="1.2" />
<text x="502.40" y="630.80" font-size="8.0" text-anchor="middle" font-weight="bold" fill="#1a1a1a" stroke="#1a1a1a" stroke-width="0.35" >100</text>
<line x1="565.60" y1="621.00" x2="565.60" y2="618.00" stroke="#111" stroke-width="1.2" />
<text x="565.60" y="630.80" font-size="8.0" text-anchor="middle" font-weight="bold" fill="#1a1a1a" stroke="#1a1a1a" stroke-width="0.35" >300</text>
<line x1="629.60" y1="621.00" x2="629.60" y2="618.00" stroke="#111" stroke-width="1.2" />
<text x="629.60" y="630.80" font-size="8.0" text-anchor="middle" font-weight="bold" fill="#1a1a1a" stroke="#1a1a1a" stroke-width="0.35" >500</text>
<path d="M502.40,574.30 L565.60,569.20 L629.60,495.20" stroke="#cf3a3e" stroke-width="1.3" fill="none" stroke-linejoin="round" stroke-linecap="round" />
<path d="M502.40,607.90 L565.60,577.20 L629.60,543.20" stroke="#2d4a9a" stroke-width="1.3" fill="none" stroke-linejoin="round" stroke-linecap="round" />
<rect x="499.80" y="571.70" width="5.20" height="5.20" fill="#cf3a3e" stroke="none" stroke-width="1.3" />
<rect x="563.00" y="566.60" width="5.20" height="5.20" fill="#cf3a3e" stroke="none" stroke-width="1.3" />
<rect x="627.00" y="492.60" width="5.20" height="5.20" fill="#cf3a3e" stroke="none" stroke-width="1.3" />
<rect x="499.80" y="605.30" width="5.20" height="5.20" fill="#2d4a9a" stroke="none" stroke-width="1.3" />
<rect x="563.00" y="574.60" width="5.20" height="5.20" fill="#2d4a9a" stroke="none" stroke-width="1.3" />
<rect x="627.00" y="540.60" width="5.20" height="5.20" fill="#2d4a9a" stroke="none" stroke-width="1.3" />
<text x="560.40" y="644.80" font-size="9.3" text-anchor="middle" font-weight="bold" fill="#1a1a1a" stroke="#1a1a1a" stroke-width="0.35" textLength="89.70" lengthAdjust="spacingAndGlyphs" >Deposition time (s)</text>
<text x="449.80" y="548.50" font-size="9.5" text-anchor="middle" font-weight="bold" fill="#cf3a3e" stroke="#cf3a3e" stroke-width="0.35" textLength="94.00" lengthAdjust="spacingAndGlyphs" transform="rotate(-90 449.80 548.50)" >Signal to noise ratio</text>
<text x="683.50" y="548.50" font-size="9.5" text-anchor="middle" font-weight="bold" fill="#2d4a9a" stroke="#2d4a9a" stroke-width="0.35" textLength="118.00" lengthAdjust="spacingAndGlyphs" transform="rotate(-90 683.50 548.50)" >Protruding thickness (μm)</text>
</svg></body></html>
